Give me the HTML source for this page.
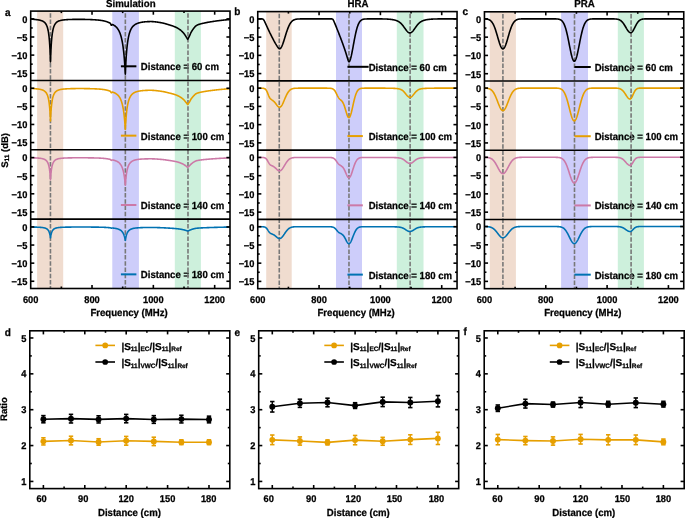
<!DOCTYPE html>
<html><head><meta charset="utf-8"><style>
html,body{margin:0;padding:0;background:#fff;}
svg{display:block;will-change:transform;}
text{font-family:"Liberation Sans", sans-serif;font-weight:bold;fill:#000;text-rendering:geometricPrecision;stroke:#000;stroke-width:0.25px;}
</style></head><body>
<svg width="685" height="518" viewBox="0 0 685 518">
<rect x="37.11" y="11.10" width="26.09" height="277.40" fill="#F0DCCF"/>
<rect x="112.29" y="11.10" width="26.61" height="277.40" fill="#CDCDFA"/>
<rect x="174.81" y="11.10" width="26.09" height="277.40" fill="#CDF0DC"/>
<text transform="translate(140.80,70.30) scale(1,1.06)" text-anchor="start" font-size="9.6" >Distance = 60 cm</text>
<text transform="translate(140.80,139.65) scale(1,1.06)" text-anchor="start" font-size="9.6" >Distance = 100 cm</text>
<text transform="translate(140.80,209.00) scale(1,1.06)" text-anchor="start" font-size="9.6" >Distance = 140 cm</text>
<text transform="translate(140.80,278.35) scale(1,1.06)" text-anchor="start" font-size="9.6" >Distance = 180 cm</text>
<line x1="50.45" y1="11.10" x2="50.45" y2="288.50" stroke="#787878" stroke-width="1.6" stroke-dasharray="4.5 1.7" stroke-dashoffset="4.0"/>
<line x1="125.35" y1="11.10" x2="125.35" y2="288.50" stroke="#787878" stroke-width="1.6" stroke-dasharray="4.5 1.7" stroke-dashoffset="4.0"/>
<line x1="187.99" y1="11.10" x2="187.99" y2="288.50" stroke="#787878" stroke-width="1.6" stroke-dasharray="4.5 1.7" stroke-dashoffset="4.0"/>
<polyline points="30.70,18.93 31.01,18.97 31.31,19.01 31.62,19.05 31.93,19.10 32.23,19.14 32.54,19.18 32.85,19.23 33.15,19.27 33.46,19.31 33.77,19.35 34.07,19.38 34.38,19.42 34.69,19.45 34.99,19.48 35.30,19.51 35.61,19.55 35.91,19.58 36.22,19.62 36.53,19.65 36.83,19.69 37.14,19.73 37.45,19.77 37.75,19.82 38.06,19.86 38.37,19.91 38.67,19.96 38.98,20.02 39.29,20.08 39.59,20.14 39.90,20.21 40.21,20.28 40.51,20.36 40.82,20.44 41.12,20.54 41.43,20.64 41.74,20.74 42.04,20.86 42.35,20.99 42.66,21.13 42.96,21.29 43.27,21.46 43.58,21.65 43.88,21.86 44.19,22.10 44.50,22.36 44.80,22.65 45.11,22.98 45.42,23.36 45.72,23.78 46.03,24.26 46.34,24.82 46.64,25.46 46.95,26.20 47.26,27.06 47.56,28.08 47.87,29.29 48.18,30.73 48.48,32.48 48.79,34.61 48.94,35.86 49.02,36.53 49.10,37.25 49.17,38.00 49.25,38.80 49.33,39.65 49.40,40.55 49.48,41.51 49.56,42.53 49.63,43.61 49.71,44.76 49.79,45.99 49.86,47.31 49.94,48.71 50.02,50.22 50.09,51.84 50.17,53.57 50.25,55.44 50.32,57.45 50.40,59.62 50.48,61.96 50.55,59.62 50.63,57.45 50.71,55.44 50.78,53.57 50.86,51.84 50.94,50.23 51.01,48.72 51.09,47.31 51.17,46.00 51.24,44.77 51.32,43.62 51.40,42.54 51.47,41.52 51.55,40.57 51.63,39.67 51.70,38.82 51.78,38.02 51.86,37.26 51.93,36.55 52.01,35.88 52.16,34.63 52.47,32.50 52.78,30.76 53.08,29.32 53.39,28.12 53.70,27.10 54.00,26.24 54.31,25.50 54.62,24.87 54.92,24.32 55.23,23.84 55.54,23.42 55.84,23.05 56.15,22.72 56.46,22.43 56.76,22.18 57.07,21.95 57.38,21.74 57.68,21.55 57.99,21.38 58.30,21.23 58.60,21.09 58.91,20.97 59.22,20.85 59.52,20.75 59.83,20.65 60.14,20.57 60.44,20.48 60.75,20.41 61.05,20.34 61.36,20.28 61.67,20.22 61.97,20.16 62.28,20.11 62.59,20.07 62.89,20.02 63.20,19.98 63.51,19.94 63.81,19.90 64.12,19.87 64.43,19.84 64.73,19.81 65.04,19.78 65.35,19.75 65.65,19.73 65.96,19.71 66.27,19.68 66.57,19.66 66.88,19.64 67.19,19.62 67.49,19.61 67.80,19.59 68.11,19.57 68.41,19.56 68.72,19.54 69.03,19.53 69.33,19.52 69.64,19.51 69.95,19.49 70.25,19.48 70.56,19.47 70.87,19.46 71.17,19.45 71.48,19.44 71.79,19.44 72.09,19.43 72.40,19.42 72.71,19.41 73.01,19.41 73.32,19.40 73.63,19.39 73.93,19.39 74.24,19.38 74.55,19.38 74.85,19.38 75.16,19.37 75.47,19.37 75.77,19.36 76.08,19.36 76.39,19.36 76.69,19.36 77.00,19.36 77.31,19.35 77.61,19.35 77.92,19.35 78.23,19.35 78.53,19.35 78.84,19.35 79.15,19.35 79.45,19.35 79.76,19.35 80.07,19.35 80.37,19.36 80.68,19.36 80.98,19.36 81.29,19.36 81.60,19.37 81.90,19.37 82.21,19.37 82.52,19.38 82.82,19.38 83.13,19.39 83.44,19.39 83.74,19.40 84.05,19.40 84.36,19.41 84.66,19.41 84.97,19.42 85.28,19.43 85.58,19.43 85.89,19.44 86.20,19.45 86.50,19.46 86.81,19.46 87.12,19.47 87.42,19.48 87.73,19.49 88.04,19.50 88.34,19.51 88.65,19.52 88.96,19.53 89.26,19.54 89.57,19.55 89.88,19.56 90.18,19.57 90.49,19.58 90.80,19.60 91.10,19.61 91.41,19.62 91.72,19.64 92.02,19.65 92.33,19.66 92.64,19.68 92.94,19.69 93.25,19.71 93.56,19.73 93.86,19.74 94.17,19.76 94.48,19.78 94.78,19.80 95.09,19.82 95.40,19.84 95.70,19.86 96.01,19.88 96.32,19.91 96.62,19.93 96.93,19.96 97.24,19.98 97.54,20.01 97.85,20.04 98.16,20.07 98.46,20.10 98.77,20.13 99.08,20.16 99.38,20.19 99.69,20.23 100.00,20.26 100.30,20.30 100.61,20.34 100.91,20.38 101.22,20.42 101.53,20.46 101.83,20.51 102.14,20.56 102.45,20.61 102.75,20.67 103.06,20.73 103.37,20.79 103.67,20.86 103.98,20.93 104.29,21.01 104.59,21.08 104.90,21.16 105.21,21.25 105.51,21.33 105.82,21.42 106.13,21.51 106.43,21.61 106.74,21.71 107.05,21.81 107.35,21.91 107.66,22.02 107.97,22.13 108.27,22.26 108.58,22.39 108.89,22.52 109.19,22.66 109.50,22.81 109.81,22.96 110.11,23.15 110.42,23.46 110.73,24.04 111.03,24.79 111.34,25.27 111.65,25.18 111.95,24.79 112.26,24.55 112.57,24.54 112.87,24.65 113.18,24.81 113.49,24.98 113.79,25.16 114.10,25.35 114.41,25.55 114.71,25.77 115.02,26.00 115.33,26.24 115.63,26.50 115.94,26.78 116.25,27.08 116.55,27.40 116.86,27.74 117.17,28.11 117.47,28.50 117.78,28.93 118.09,29.38 118.39,29.88 118.70,30.41 119.01,30.99 119.31,31.62 119.62,32.30 119.93,33.05 120.23,33.86 120.54,34.75 120.84,35.73 121.15,36.81 121.46,37.99 121.76,39.31 122.07,40.77 122.38,42.39 122.68,44.21 122.99,46.24 123.30,48.53 123.60,51.12 123.79,52.83 123.87,53.59 123.91,54.06 123.94,54.37 124.02,55.18 124.10,56.01 124.17,56.88 124.22,57.41 124.25,57.77 124.33,58.69 124.40,59.65 124.48,60.64 124.52,61.25 124.55,61.67 124.63,62.73 124.71,63.83 124.78,64.98 124.83,65.68 124.86,66.16 124.94,67.39 125.01,68.67 125.09,70.00 125.14,70.82 125.17,71.38 125.24,72.82 125.32,74.31 125.40,72.39 125.44,71.28 125.47,70.56 125.55,68.83 125.63,67.17 125.70,65.60 125.75,64.69 125.78,64.10 125.86,62.67 125.93,61.30 126.01,59.99 126.06,59.24 126.09,58.75 126.16,57.55 126.24,56.41 126.32,55.32 126.36,54.69 126.39,54.28 126.47,53.28 126.55,52.31 126.62,51.39 126.67,50.86 126.70,50.51 126.78,49.66 126.85,48.84 126.98,47.61 127.28,44.82 127.59,42.43 127.90,40.35 128.20,38.55 128.51,36.96 128.82,35.57 129.12,34.34 129.43,33.24 129.74,32.27 130.04,31.40 130.35,30.62 130.66,29.91 130.96,29.28 131.27,28.70 131.58,28.18 131.88,27.70 132.19,27.26 132.50,26.87 132.80,26.50 133.11,26.17 133.42,25.86 133.72,25.57 134.03,25.31 134.34,25.06 134.64,24.84 134.95,24.63 135.26,24.43 135.56,24.25 135.87,24.08 136.18,23.92 136.48,23.77 136.79,23.63 137.10,23.50 137.40,23.38 137.71,23.27 138.02,23.16 138.32,23.06 138.63,22.96 138.94,22.87 139.24,22.78 139.55,22.70 139.86,22.63 140.16,22.55 140.47,22.49 140.77,22.42 141.08,22.36 141.39,22.30 141.69,22.24 142.00,22.19 142.31,22.14 142.61,22.10 142.92,22.05 143.23,22.01 143.53,21.98 143.84,21.94 144.15,21.91 144.45,21.87 144.76,21.84 145.07,21.82 145.37,21.79 145.68,21.77 145.99,21.74 146.29,21.72 146.60,21.70 146.91,21.69 147.21,21.67 147.52,21.65 147.83,21.64 148.13,21.63 148.44,21.61 148.75,21.60 149.05,21.59 149.36,21.58 149.67,21.58 149.97,21.57 150.28,21.56 150.59,21.56 150.89,21.56 151.20,21.56 151.51,21.57 151.81,21.58 152.12,21.59 152.43,21.61 152.73,21.62 153.04,21.64 153.35,21.66 153.65,21.69 153.96,21.71 154.27,21.74 154.57,21.77 154.88,21.80 155.19,21.84 155.49,21.87 155.80,21.91 156.11,21.95 156.41,21.99 156.72,22.03 157.03,22.07 157.33,22.11 157.64,22.16 157.95,22.21 158.25,22.25 158.56,22.30 158.87,22.35 159.17,22.40 159.48,22.45 159.79,22.50 160.09,22.56 160.40,22.61 160.70,22.66 161.01,22.72 161.32,22.77 161.62,22.83 161.93,22.88 162.24,22.94 162.54,23.00 162.85,23.06 163.16,23.13 163.46,23.20 163.77,23.28 164.08,23.35 164.38,23.43 164.69,23.52 165.00,23.60 165.30,23.69 165.61,23.78 165.92,23.87 166.22,23.96 166.53,24.05 166.84,24.14 167.14,24.24 167.45,24.33 167.76,24.43 168.06,24.52 168.37,24.61 168.68,24.71 168.98,24.80 169.29,24.89 169.60,24.99 169.90,25.08 170.21,25.17 170.52,25.27 170.82,25.36 171.13,25.46 171.44,25.56 171.74,25.66 172.05,25.76 172.36,25.86 172.66,25.97 172.97,26.07 173.28,26.18 173.58,26.30 173.89,26.41 174.20,26.53 174.50,26.66 174.81,26.78 175.12,26.91 175.42,27.05 175.73,27.19 176.04,27.34 176.34,27.49 176.65,27.64 176.96,27.80 177.26,27.97 177.57,28.14 177.88,28.32 178.18,28.50 178.49,28.69 178.80,28.89 179.10,29.09 179.41,29.30 179.72,29.52 180.02,29.75 180.33,29.98 180.63,30.23 180.94,30.48 181.25,30.75 181.55,31.02 181.86,31.30 182.17,31.60 182.47,31.90 182.78,32.21 183.09,32.54 183.39,32.87 183.70,33.22 184.01,33.60 184.31,34.01 184.62,34.45 184.93,34.90 185.23,35.36 185.54,35.84 185.85,36.31 186.15,36.79 186.23,36.91 186.31,37.03 186.38,37.16 186.46,37.29 186.54,37.41 186.61,37.54 186.69,37.67 186.77,37.80 186.84,37.93 186.92,38.06 187.00,38.19 187.07,38.32 187.15,38.46 187.23,38.59 187.30,38.72 187.38,38.85 187.46,38.98 187.53,39.11 187.61,39.24 187.69,39.37 187.76,39.22 187.84,39.08 187.92,38.94 187.99,38.80 188.07,38.66 188.15,38.52 188.22,38.38 188.30,38.24 188.38,38.10 188.45,37.96 188.53,37.82 188.61,37.68 188.68,37.53 188.76,37.39 188.84,37.25 188.91,37.10 188.99,36.96 189.07,36.81 189.14,36.66 189.22,36.51 189.53,35.88 189.83,35.19 190.14,34.45 190.45,33.72 190.75,33.02 191.06,32.39 191.37,31.83 191.67,31.31 191.98,30.81 192.29,30.34 192.59,29.89 192.90,29.46 193.21,29.04 193.51,28.64 193.82,28.23 194.13,27.83 194.43,27.44 194.74,27.06 195.05,26.70 195.35,26.37 195.66,26.08 195.97,25.83 196.27,25.62 196.58,25.43 196.89,25.27 197.19,25.11 197.50,24.97 197.81,24.83 198.11,24.71 198.42,24.59 198.73,24.48 199.03,24.38 199.34,24.28 199.65,24.18 199.95,24.08 200.26,23.99 200.56,23.91 200.87,23.82 201.18,23.74 201.48,23.67 201.79,23.59 202.10,23.52 202.40,23.45 202.71,23.38 203.02,23.31 203.32,23.24 203.63,23.17 203.94,23.11 204.24,23.04 204.55,22.97 204.86,22.91 205.16,22.84 205.47,22.78 205.78,22.71 206.08,22.65 206.39,22.59 206.70,22.53 207.00,22.47 207.31,22.41 207.62,22.36 207.92,22.30 208.23,22.25 208.54,22.19 208.84,22.14 209.15,22.09 209.46,22.04 209.76,21.98 210.07,21.93 210.38,21.88 210.68,21.83 210.99,21.78 211.30,21.73 211.60,21.68 211.91,21.64 212.22,21.59 212.52,21.54 212.83,21.49 213.14,21.45 213.44,21.40 213.75,21.35 214.06,21.31 214.36,21.26 214.67,21.22 214.98,21.17 215.28,21.13 215.59,21.08 215.90,21.04 216.20,21.00 216.51,20.96 216.82,20.91 217.12,20.87 217.43,20.83 217.74,20.79 218.04,20.75 218.35,20.71 218.66,20.67 218.96,20.63 219.27,20.59 219.58,20.55 219.88,20.52 220.19,20.48 220.49,20.44 220.80,20.41 221.11,20.37 221.41,20.33 221.72,20.30 222.03,20.27 222.33,20.23 222.64,20.20 222.95,20.17 223.25,20.13 223.56,20.10 223.87,20.07 224.17,20.04 224.48,20.01 224.79,19.98 225.09,19.95 225.40,19.92 225.71,19.89 226.01,19.86 226.32,19.83 226.63,19.80 226.93,19.77 227.24,19.73 227.55,19.70 227.85,19.67 228.16,19.64 228.47,19.61 228.77,19.58 229.08,19.55 229.39,19.52 229.69,19.49 230.00,19.46" fill="none" stroke="#000000" stroke-width="1.6" stroke-linejoin="round"/>
<line x1="120.90" y1="66.30" x2="136.40" y2="66.30" stroke="#000000" stroke-width="2.0" />
<polyline points="30.70,88.27 31.01,88.30 31.31,88.34 31.62,88.37 31.93,88.40 32.23,88.44 32.54,88.47 32.85,88.51 33.15,88.54 33.46,88.58 33.77,88.61 34.07,88.64 34.38,88.66 34.69,88.69 34.99,88.72 35.30,88.74 35.61,88.77 35.91,88.80 36.22,88.83 36.53,88.86 36.83,88.89 37.14,88.92 37.45,88.95 37.75,88.99 38.06,89.03 38.37,89.07 38.67,89.11 38.98,89.15 39.29,89.20 39.59,89.25 39.90,89.31 40.21,89.37 40.51,89.43 40.82,89.50 41.12,89.58 41.43,89.66 41.74,89.75 42.04,89.84 42.35,89.95 42.66,90.06 42.96,90.19 43.27,90.33 43.58,90.48 43.88,90.65 44.19,90.84 44.50,91.05 44.80,91.28 45.11,91.55 45.42,91.84 45.72,92.18 46.03,92.56 46.34,93.00 46.64,93.51 46.95,94.09 47.26,94.77 47.56,95.56 47.87,96.50 48.18,97.62 48.48,98.97 48.79,100.60 48.94,101.56 49.02,102.07 49.10,102.61 49.17,103.19 49.25,103.79 49.33,104.43 49.40,105.11 49.48,105.83 49.56,106.60 49.63,107.41 49.71,108.27 49.79,109.19 49.86,110.17 49.94,111.21 50.02,112.33 50.09,113.52 50.17,114.80 50.25,116.17 50.32,117.65 50.40,119.23 50.48,120.94 50.55,119.23 50.63,117.65 50.71,116.18 50.78,114.81 50.86,113.53 50.94,112.33 51.01,111.22 51.09,110.18 51.17,109.20 51.24,108.28 51.32,107.42 51.40,106.61 51.47,105.84 51.55,105.12 51.63,104.44 51.70,103.80 51.78,103.20 51.86,102.62 51.93,102.08 52.01,101.57 52.16,100.62 52.47,98.99 52.78,97.64 53.08,96.53 53.39,95.59 53.70,94.80 54.00,94.12 54.31,93.54 54.62,93.04 54.92,92.60 55.23,92.22 55.54,91.89 55.84,91.59 56.15,91.33 56.46,91.10 56.76,90.89 57.07,90.71 57.38,90.54 57.68,90.39 57.99,90.25 58.30,90.13 58.60,90.02 58.91,89.91 59.22,89.82 59.52,89.74 59.83,89.66 60.14,89.59 60.44,89.52 60.75,89.46 61.05,89.40 61.36,89.35 61.67,89.30 61.97,89.26 62.28,89.21 62.59,89.17 62.89,89.14 63.20,89.10 63.51,89.07 63.81,89.04 64.12,89.01 64.43,88.99 64.73,88.96 65.04,88.94 65.35,88.92 65.65,88.89 65.96,88.87 66.27,88.86 66.57,88.84 66.88,88.82 67.19,88.81 67.49,88.79 67.80,88.78 68.11,88.76 68.41,88.75 68.72,88.74 69.03,88.72 69.33,88.71 69.64,88.70 69.95,88.69 70.25,88.68 70.56,88.67 70.87,88.67 71.17,88.66 71.48,88.65 71.79,88.64 72.09,88.63 72.40,88.63 72.71,88.62 73.01,88.62 73.32,88.61 73.63,88.60 73.93,88.60 74.24,88.59 74.55,88.59 74.85,88.59 75.16,88.58 75.47,88.58 75.77,88.57 76.08,88.57 76.39,88.57 76.69,88.57 77.00,88.56 77.31,88.56 77.61,88.56 77.92,88.56 78.23,88.56 78.53,88.55 78.84,88.55 79.15,88.55 79.45,88.55 79.76,88.55 80.07,88.55 80.37,88.55 80.68,88.55 80.98,88.55 81.29,88.56 81.60,88.56 81.90,88.56 82.21,88.56 82.52,88.56 82.82,88.56 83.13,88.57 83.44,88.57 83.74,88.57 84.05,88.58 84.36,88.58 84.66,88.58 84.97,88.59 85.28,88.59 85.58,88.59 85.89,88.60 86.20,88.60 86.50,88.61 86.81,88.61 87.12,88.62 87.42,88.62 87.73,88.63 88.04,88.63 88.34,88.64 88.65,88.65 88.96,88.65 89.26,88.66 89.57,88.67 89.88,88.67 90.18,88.68 90.49,88.69 90.80,88.70 91.10,88.70 91.41,88.71 91.72,88.72 92.02,88.73 92.33,88.74 92.64,88.75 92.94,88.76 93.25,88.77 93.56,88.78 93.86,88.79 94.17,88.80 94.48,88.81 94.78,88.83 95.09,88.84 95.40,88.85 95.70,88.87 96.01,88.88 96.32,88.90 96.62,88.91 96.93,88.93 97.24,88.95 97.54,88.97 97.85,88.99 98.16,89.00 98.46,89.02 98.77,89.05 99.08,89.07 99.38,89.09 99.69,89.11 100.00,89.14 100.30,89.16 100.61,89.19 100.91,89.21 101.22,89.24 101.53,89.27 101.83,89.30 102.14,89.34 102.45,89.38 102.75,89.42 103.06,89.46 103.37,89.50 103.67,89.55 103.98,89.60 104.29,89.65 104.59,89.71 104.90,89.76 105.21,89.82 105.51,89.88 105.82,89.95 106.13,90.01 106.43,90.08 106.74,90.15 107.05,90.22 107.35,90.29 107.66,90.36 107.97,90.45 108.27,90.53 108.58,90.62 108.89,90.72 109.19,90.82 109.50,90.92 109.81,91.03 110.11,91.17 110.42,91.40 110.73,91.84 111.03,92.43 111.34,92.80 111.65,92.70 111.95,92.38 112.26,92.16 112.57,92.13 112.87,92.20 113.18,92.30 113.49,92.42 113.79,92.54 114.10,92.66 114.41,92.80 114.71,92.94 115.02,93.09 115.33,93.26 115.63,93.43 115.94,93.62 116.25,93.82 116.55,94.03 116.86,94.26 117.17,94.51 117.47,94.78 117.78,95.07 118.09,95.38 118.39,95.72 118.70,96.09 119.01,96.49 119.31,96.92 119.62,97.40 119.93,97.92 120.23,98.49 120.54,99.12 120.84,99.82 121.15,100.59 121.46,101.44 121.76,102.40 122.07,103.46 122.38,104.65 122.68,105.99 122.99,107.51 123.30,109.23 123.60,111.19 123.79,112.50 123.87,113.08 123.91,113.44 123.94,113.68 124.02,114.31 124.10,114.95 124.17,115.62 124.22,116.04 124.25,116.32 124.33,117.04 124.40,117.79 124.48,118.57 124.52,119.05 124.55,119.37 124.63,120.21 124.71,121.09 124.78,122.00 124.83,122.56 124.86,122.95 124.94,123.93 125.01,124.96 125.09,126.03 125.14,126.70 125.17,127.15 125.24,128.32 125.32,129.53 125.40,128.02 125.44,127.15 125.47,126.58 125.55,125.22 125.63,123.93 125.70,122.70 125.75,122.00 125.78,121.54 125.86,120.43 125.93,119.37 126.01,118.37 126.06,117.79 126.09,117.41 126.16,116.49 126.24,115.62 126.32,114.79 126.36,114.31 126.39,113.99 126.47,113.23 126.55,112.50 126.62,111.80 126.67,111.40 126.70,111.14 126.78,110.50 126.85,109.88 126.98,108.95 127.28,106.87 127.59,105.10 127.90,103.57 128.20,102.24 128.51,101.09 128.82,100.08 129.12,99.19 129.43,98.40 129.74,97.70 130.04,97.08 130.35,96.52 130.66,96.02 130.96,95.57 131.27,95.17 131.58,94.80 131.88,94.46 132.19,94.16 132.50,93.88 132.80,93.63 133.11,93.39 133.42,93.18 133.72,92.98 134.03,92.80 134.34,92.63 134.64,92.48 134.95,92.33 135.26,92.20 135.56,92.07 135.87,91.96 136.18,91.85 136.48,91.75 136.79,91.65 137.10,91.56 137.40,91.48 137.71,91.40 138.02,91.33 138.32,91.26 138.63,91.19 138.94,91.13 139.24,91.07 139.55,91.02 139.86,90.97 140.16,90.92 140.47,90.87 140.77,90.83 141.08,90.79 141.39,90.75 141.69,90.71 142.00,90.68 142.31,90.64 142.61,90.61 142.92,90.58 143.23,90.56 143.53,90.53 143.84,90.51 144.15,90.49 144.45,90.47 144.76,90.45 145.07,90.43 145.37,90.41 145.68,90.40 145.99,90.38 146.29,90.37 146.60,90.36 146.91,90.35 147.21,90.34 147.52,90.33 147.83,90.32 148.13,90.31 148.44,90.31 148.75,90.30 149.05,90.30 149.36,90.29 149.67,90.29 149.97,90.28 150.28,90.28 150.59,90.28 150.89,90.28 151.20,90.29 151.51,90.30 151.81,90.31 152.12,90.32 152.43,90.33 152.73,90.35 153.04,90.36 153.35,90.38 153.65,90.40 153.96,90.42 154.27,90.45 154.57,90.47 154.88,90.50 155.19,90.53 155.49,90.56 155.80,90.59 156.11,90.62 156.41,90.65 156.72,90.69 157.03,90.72 157.33,90.76 157.64,90.80 157.95,90.84 158.25,90.88 158.56,90.92 158.87,90.96 159.17,91.00 159.48,91.04 159.79,91.08 160.09,91.12 160.40,91.17 160.70,91.21 161.01,91.25 161.32,91.30 161.62,91.34 161.93,91.39 162.24,91.43 162.54,91.48 162.85,91.54 163.16,91.59 163.46,91.65 163.77,91.71 164.08,91.77 164.38,91.84 164.69,91.90 165.00,91.97 165.30,92.04 165.61,92.11 165.92,92.19 166.22,92.26 166.53,92.33 166.84,92.41 167.14,92.48 167.45,92.56 167.76,92.64 168.06,92.71 168.37,92.79 168.68,92.86 168.98,92.94 169.29,93.01 169.60,93.09 169.90,93.16 170.21,93.24 170.52,93.31 170.82,93.39 171.13,93.47 171.44,93.55 171.74,93.63 172.05,93.71 172.36,93.79 172.66,93.88 172.97,93.96 173.28,94.05 173.58,94.14 173.89,94.24 174.20,94.33 174.50,94.43 174.81,94.53 175.12,94.64 175.42,94.75 175.73,94.86 176.04,94.97 176.34,95.10 176.65,95.22 176.96,95.35 177.26,95.48 177.57,95.62 177.88,95.76 178.18,95.91 178.49,96.06 178.80,96.22 179.10,96.38 179.41,96.55 179.72,96.72 180.02,96.91 180.33,97.10 180.63,97.29 180.94,97.50 181.25,97.71 181.55,97.93 181.86,98.15 182.17,98.39 182.47,98.63 182.78,98.88 183.09,99.14 183.39,99.41 183.70,99.69 184.01,99.99 184.31,100.32 184.62,100.67 184.93,101.03 185.23,101.40 185.54,101.78 185.85,102.16 186.15,102.54 186.23,102.64 186.31,102.74 186.38,102.84 186.46,102.94 186.54,103.04 186.61,103.15 186.69,103.25 186.77,103.35 186.84,103.46 186.92,103.56 187.00,103.67 187.07,103.77 187.15,103.88 187.23,103.98 187.30,104.09 187.38,104.19 187.46,104.30 187.53,104.40 187.61,104.50 187.69,104.61 187.76,104.49 187.84,104.38 187.92,104.27 187.99,104.15 188.07,104.04 188.15,103.93 188.22,103.82 188.30,103.70 188.38,103.59 188.45,103.48 188.53,103.37 188.61,103.26 188.68,103.14 188.76,103.03 188.84,102.91 188.91,102.80 188.99,102.68 189.07,102.56 189.14,102.44 189.22,102.32 189.53,101.82 189.83,101.26 190.14,100.68 190.45,100.09 190.75,99.53 191.06,99.03 191.37,98.58 191.67,98.16 191.98,97.76 192.29,97.39 192.59,97.03 192.90,96.68 193.21,96.35 193.51,96.03 193.82,95.70 194.13,95.38 194.43,95.07 194.74,94.76 195.05,94.48 195.35,94.22 195.66,93.98 195.97,93.78 196.27,93.61 196.58,93.46 196.89,93.33 197.19,93.21 197.50,93.09 197.81,92.99 198.11,92.89 198.42,92.79 198.73,92.71 199.03,92.62 199.34,92.54 199.65,92.46 199.95,92.39 200.26,92.31 200.56,92.24 200.87,92.18 201.18,92.11 201.48,92.05 201.79,91.99 202.10,91.93 202.40,91.88 202.71,91.82 203.02,91.77 203.32,91.71 203.63,91.66 203.94,91.60 204.24,91.55 204.55,91.50 204.86,91.44 205.16,91.39 205.47,91.34 205.78,91.29 206.08,91.24 206.39,91.19 206.70,91.14 207.00,91.10 207.31,91.05 207.62,91.01 207.92,90.96 208.23,90.92 208.54,90.87 208.84,90.83 209.15,90.79 209.46,90.75 209.76,90.71 210.07,90.67 210.38,90.63 210.68,90.59 210.99,90.55 211.30,90.51 211.60,90.47 211.91,90.43 212.22,90.39 212.52,90.35 212.83,90.31 213.14,90.28 213.44,90.24 213.75,90.20 214.06,90.17 214.36,90.13 214.67,90.09 214.98,90.06 215.28,90.02 215.59,89.99 215.90,89.95 216.20,89.92 216.51,89.89 216.82,89.85 217.12,89.82 217.43,89.79 217.74,89.75 218.04,89.72 218.35,89.69 218.66,89.66 218.96,89.63 219.27,89.60 219.58,89.57 219.88,89.53 220.19,89.51 220.49,89.48 220.80,89.45 221.11,89.42 221.41,89.39 221.72,89.36 222.03,89.34 222.33,89.31 222.64,89.28 222.95,89.26 223.25,89.23 223.56,89.20 223.87,89.18 224.17,89.15 224.48,89.13 224.79,89.10 225.09,89.08 225.40,89.06 225.71,89.03 226.01,89.01 226.32,88.98 226.63,88.96 226.93,88.93 227.24,88.91 227.55,88.89 227.85,88.86 228.16,88.84 228.47,88.81 228.77,88.79 229.08,88.76 229.39,88.74 229.69,88.71 230.00,88.69" fill="none" stroke="#E69F00" stroke-width="1.6" stroke-linejoin="round"/>
<line x1="120.90" y1="135.65" x2="136.40" y2="135.65" stroke="#E69F00" stroke-width="2.0" />
<polyline points="30.70,157.61 31.01,157.63 31.31,157.65 31.62,157.67 31.93,157.69 32.23,157.71 32.54,157.74 32.85,157.76 33.15,157.78 33.46,157.80 33.77,157.82 34.07,157.83 34.38,157.85 34.69,157.87 34.99,157.88 35.30,157.90 35.61,157.92 35.91,157.93 36.22,157.95 36.53,157.97 36.83,157.99 37.14,158.01 37.45,158.03 37.75,158.05 38.06,158.08 38.37,158.10 38.67,158.13 38.98,158.16 39.29,158.19 39.59,158.22 39.90,158.25 40.21,158.29 40.51,158.33 40.82,158.37 41.12,158.42 41.43,158.47 41.74,158.53 42.04,158.59 42.35,158.66 42.66,158.73 42.96,158.81 43.27,158.90 43.58,159.00 43.88,159.10 44.19,159.22 44.50,159.36 44.80,159.51 45.11,159.68 45.42,159.87 45.72,160.09 46.03,160.34 46.34,160.62 46.64,160.95 46.95,161.33 47.26,161.78 47.56,162.30 47.87,162.92 48.18,163.67 48.48,164.57 48.79,165.66 48.94,166.30 49.02,166.65 49.10,167.02 49.17,167.41 49.25,167.82 49.33,168.26 49.40,168.72 49.48,169.21 49.56,169.74 49.63,170.29 49.71,170.89 49.79,171.52 49.86,172.20 49.94,172.92 50.02,173.70 50.09,174.53 50.17,175.42 50.25,176.38 50.32,177.42 50.40,178.53 50.48,179.74 50.55,178.53 50.63,177.42 50.71,176.38 50.78,175.42 50.86,174.53 50.94,173.70 51.01,172.92 51.09,172.20 51.17,171.52 51.24,170.89 51.32,170.30 51.40,169.74 51.47,169.22 51.55,168.73 51.63,168.26 51.70,167.83 51.78,167.42 51.86,167.03 51.93,166.66 52.01,166.31 52.16,165.67 52.47,164.58 52.78,163.68 53.08,162.94 53.39,162.32 53.70,161.79 54.00,161.35 54.31,160.97 54.62,160.64 54.92,160.36 55.23,160.11 55.54,159.90 55.84,159.71 56.15,159.54 56.46,159.39 56.76,159.26 57.07,159.14 57.38,159.03 57.68,158.94 57.99,158.85 58.30,158.77 58.60,158.70 58.91,158.63 59.22,158.57 59.52,158.52 59.83,158.47 60.14,158.42 60.44,158.38 60.75,158.34 61.05,158.31 61.36,158.28 61.67,158.25 61.97,158.22 62.28,158.19 62.59,158.17 62.89,158.14 63.20,158.12 63.51,158.10 63.81,158.08 64.12,158.06 64.43,158.05 64.73,158.03 65.04,158.02 65.35,158.00 65.65,157.99 65.96,157.98 66.27,157.97 66.57,157.96 66.88,157.94 67.19,157.93 67.49,157.93 67.80,157.92 68.11,157.91 68.41,157.90 68.72,157.89 69.03,157.88 69.33,157.88 69.64,157.87 69.95,157.86 70.25,157.86 70.56,157.85 70.87,157.85 71.17,157.84 71.48,157.84 71.79,157.83 72.09,157.83 72.40,157.82 72.71,157.82 73.01,157.82 73.32,157.81 73.63,157.81 73.93,157.81 74.24,157.80 74.55,157.80 74.85,157.80 75.16,157.80 75.47,157.79 75.77,157.79 76.08,157.79 76.39,157.79 76.69,157.79 77.00,157.78 77.31,157.78 77.61,157.78 77.92,157.78 78.23,157.78 78.53,157.78 78.84,157.78 79.15,157.78 79.45,157.78 79.76,157.78 80.07,157.78 80.37,157.78 80.68,157.78 80.98,157.78 81.29,157.78 81.60,157.78 81.90,157.78 82.21,157.78 82.52,157.78 82.82,157.78 83.13,157.79 83.44,157.79 83.74,157.79 84.05,157.79 84.36,157.79 84.66,157.79 84.97,157.80 85.28,157.80 85.58,157.80 85.89,157.80 86.20,157.81 86.50,157.81 86.81,157.81 87.12,157.82 87.42,157.82 87.73,157.82 88.04,157.83 88.34,157.83 88.65,157.83 88.96,157.84 89.26,157.84 89.57,157.85 89.88,157.85 90.18,157.85 90.49,157.86 90.80,157.86 91.10,157.87 91.41,157.87 91.72,157.88 92.02,157.88 92.33,157.89 92.64,157.89 92.94,157.90 93.25,157.91 93.56,157.91 93.86,157.92 94.17,157.93 94.48,157.93 94.78,157.94 95.09,157.95 95.40,157.96 95.70,157.97 96.01,157.98 96.32,157.99 96.62,157.99 96.93,158.00 97.24,158.02 97.54,158.03 97.85,158.04 98.16,158.05 98.46,158.06 98.77,158.07 99.08,158.09 99.38,158.10 99.69,158.11 100.00,158.13 100.30,158.14 100.61,158.16 100.91,158.18 101.22,158.19 101.53,158.21 101.83,158.23 102.14,158.25 102.45,158.27 102.75,158.30 103.06,158.32 103.37,158.35 103.67,158.38 103.98,158.41 104.29,158.44 104.59,158.47 104.90,158.51 105.21,158.54 105.51,158.58 105.82,158.62 106.13,158.66 106.43,158.70 106.74,158.74 107.05,158.78 107.35,158.83 107.66,158.87 107.97,158.92 108.27,158.98 108.58,159.03 108.89,159.09 109.19,159.15 109.50,159.21 109.81,159.28 110.11,159.36 110.42,159.51 110.73,159.77 111.03,160.13 111.34,160.35 111.65,160.29 111.95,160.10 112.26,159.97 112.57,159.96 112.87,160.00 113.18,160.06 113.49,160.13 113.79,160.21 114.10,160.29 114.41,160.37 114.71,160.46 115.02,160.56 115.33,160.66 115.63,160.77 115.94,160.89 116.25,161.01 116.55,161.15 116.86,161.30 117.17,161.45 117.47,161.62 117.78,161.81 118.09,162.01 118.39,162.22 118.70,162.46 119.01,162.72 119.31,163.00 119.62,163.30 119.93,163.64 120.23,164.01 120.54,164.42 120.84,164.87 121.15,165.38 121.46,165.94 121.76,166.56 122.07,167.26 122.38,168.05 122.68,168.94 122.99,169.96 123.30,171.11 123.60,172.44 123.79,173.33 123.87,173.72 123.91,173.97 123.94,174.13 124.02,174.56 124.10,175.00 124.17,175.45 124.22,175.74 124.25,175.93 124.33,176.42 124.40,176.94 124.48,177.47 124.52,177.81 124.55,178.03 124.63,178.61 124.71,179.22 124.78,179.85 124.83,180.24 124.86,180.51 124.94,181.19 125.01,181.91 125.09,182.66 125.14,183.12 125.17,183.44 125.24,184.26 125.32,185.12 125.40,184.04 125.44,183.42 125.47,183.02 125.55,182.06 125.63,181.15 125.70,180.28 125.75,179.79 125.78,179.47 125.86,178.69 125.93,177.96 126.01,177.26 126.06,176.85 126.09,176.59 126.16,175.96 126.24,175.36 126.32,174.79 126.36,174.46 126.39,174.24 126.47,173.72 126.55,173.22 126.62,172.75 126.67,172.47 126.70,172.30 126.78,171.86 126.85,171.45 126.98,170.82 127.28,169.43 127.59,168.24 127.90,167.23 128.20,166.36 128.51,165.61 128.82,164.95 129.12,164.37 129.43,163.87 129.74,163.42 130.04,163.02 130.35,162.67 130.66,162.35 130.96,162.06 131.27,161.81 131.58,161.58 131.88,161.37 132.19,161.18 132.50,161.00 132.80,160.85 133.11,160.70 133.42,160.57 133.72,160.45 134.03,160.33 134.34,160.23 134.64,160.13 134.95,160.05 135.26,159.96 135.56,159.89 135.87,159.82 136.18,159.75 136.48,159.69 136.79,159.63 137.10,159.58 137.40,159.53 137.71,159.48 138.02,159.43 138.32,159.39 138.63,159.35 138.94,159.31 139.24,159.28 139.55,159.25 139.86,159.22 140.16,159.19 140.47,159.16 140.77,159.13 141.08,159.11 141.39,159.08 141.69,159.06 142.00,159.04 142.31,159.02 142.61,159.00 142.92,158.99 143.23,158.97 143.53,158.95 143.84,158.94 144.15,158.93 144.45,158.92 144.76,158.90 145.07,158.89 145.37,158.88 145.68,158.88 145.99,158.87 146.29,158.86 146.60,158.85 146.91,158.85 147.21,158.84 147.52,158.83 147.83,158.83 148.13,158.83 148.44,158.82 148.75,158.82 149.05,158.81 149.36,158.81 149.67,158.81 149.97,158.81 150.28,158.81 150.59,158.81 150.89,158.81 151.20,158.81 151.51,158.82 151.81,158.82 152.12,158.83 152.43,158.84 152.73,158.85 153.04,158.86 153.35,158.87 153.65,158.88 153.96,158.89 154.27,158.91 154.57,158.92 154.88,158.94 155.19,158.96 155.49,158.97 155.80,158.99 156.11,159.01 156.41,159.03 156.72,159.05 157.03,159.07 157.33,159.10 157.64,159.12 157.95,159.14 158.25,159.17 158.56,159.19 158.87,159.21 159.17,159.24 159.48,159.26 159.79,159.29 160.09,159.31 160.40,159.34 160.70,159.37 161.01,159.39 161.32,159.42 161.62,159.45 161.93,159.47 162.24,159.50 162.54,159.53 162.85,159.56 163.16,159.60 163.46,159.63 163.77,159.67 164.08,159.70 164.38,159.74 164.69,159.78 165.00,159.82 165.30,159.87 165.61,159.91 165.92,159.95 166.22,160.00 166.53,160.04 166.84,160.09 167.14,160.13 167.45,160.18 167.76,160.22 168.06,160.27 168.37,160.31 168.68,160.36 168.98,160.40 169.29,160.45 169.60,160.49 169.90,160.54 170.21,160.58 170.52,160.63 170.82,160.68 171.13,160.72 171.44,160.77 171.74,160.82 172.05,160.87 172.36,160.92 172.66,160.97 172.97,161.02 173.28,161.07 173.58,161.13 173.89,161.18 174.20,161.24 174.50,161.30 174.81,161.36 175.12,161.42 175.42,161.49 175.73,161.56 176.04,161.63 176.34,161.70 176.65,161.77 176.96,161.85 177.26,161.93 177.57,162.02 177.88,162.10 178.18,162.19 178.49,162.28 178.80,162.37 179.10,162.47 179.41,162.57 179.72,162.68 180.02,162.79 180.33,162.90 180.63,163.02 180.94,163.14 181.25,163.27 181.55,163.40 181.86,163.53 182.17,163.68 182.47,163.82 182.78,163.97 183.09,164.13 183.39,164.29 183.70,164.46 184.01,164.64 184.31,164.84 184.62,165.04 184.93,165.26 185.23,165.48 185.54,165.71 185.85,165.94 186.15,166.17 186.23,166.23 186.31,166.29 186.38,166.35 186.46,166.41 186.54,166.47 186.61,166.53 186.69,166.59 186.77,166.66 186.84,166.72 186.92,166.78 187.00,166.84 187.07,166.91 187.15,166.97 187.23,167.03 187.30,167.10 187.38,167.16 187.46,167.22 187.53,167.28 187.61,167.35 187.69,167.41 187.76,167.34 187.84,167.27 187.92,167.20 187.99,167.13 188.07,167.07 188.15,167.00 188.22,166.93 188.30,166.87 188.38,166.80 188.45,166.73 188.53,166.66 188.61,166.60 188.68,166.53 188.76,166.46 188.84,166.39 188.91,166.32 188.99,166.25 189.07,166.18 189.14,166.11 189.22,166.04 189.53,165.73 189.83,165.40 190.14,165.05 190.45,164.70 190.75,164.36 191.06,164.06 191.37,163.79 191.67,163.54 191.98,163.30 192.29,163.07 192.59,162.86 192.90,162.65 193.21,162.45 193.51,162.26 193.82,162.06 194.13,161.87 194.43,161.68 194.74,161.50 195.05,161.33 195.35,161.17 195.66,161.03 195.97,160.91 196.27,160.81 196.58,160.72 196.89,160.64 197.19,160.57 197.50,160.50 197.81,160.43 198.11,160.38 198.42,160.32 198.73,160.27 199.03,160.22 199.34,160.17 199.65,160.12 199.95,160.07 200.26,160.03 200.56,159.99 200.87,159.95 201.18,159.91 201.48,159.87 201.79,159.84 202.10,159.80 202.40,159.77 202.71,159.74 203.02,159.70 203.32,159.67 203.63,159.64 203.94,159.61 204.24,159.57 204.55,159.54 204.86,159.51 205.16,159.48 205.47,159.45 205.78,159.42 206.08,159.39 206.39,159.36 206.70,159.33 207.00,159.30 207.31,159.27 207.62,159.25 207.92,159.22 208.23,159.19 208.54,159.17 208.84,159.14 209.15,159.12 209.46,159.09 209.76,159.07 210.07,159.04 210.38,159.02 210.68,159.00 210.99,158.97 211.30,158.95 211.60,158.92 211.91,158.90 212.22,158.88 212.52,158.86 212.83,158.83 213.14,158.81 213.44,158.79 213.75,158.77 214.06,158.74 214.36,158.72 214.67,158.70 214.98,158.68 215.28,158.66 215.59,158.64 215.90,158.62 216.20,158.60 216.51,158.58 216.82,158.56 217.12,158.54 217.43,158.52 217.74,158.50 218.04,158.48 218.35,158.46 218.66,158.44 218.96,158.42 219.27,158.40 219.58,158.38 219.88,158.36 220.19,158.35 220.49,158.33 220.80,158.31 221.11,158.29 221.41,158.28 221.72,158.26 222.03,158.25 222.33,158.23 222.64,158.21 222.95,158.20 223.25,158.18 223.56,158.17 223.87,158.15 224.17,158.14 224.48,158.12 224.79,158.11 225.09,158.09 225.40,158.08 225.71,158.06 226.01,158.05 226.32,158.03 226.63,158.02 226.93,158.00 227.24,157.99 227.55,157.98 227.85,157.96 228.16,157.95 228.47,157.93 228.77,157.92 229.08,157.90 229.39,157.89 229.69,157.87 230.00,157.86" fill="none" stroke="#CC79A7" stroke-width="1.6" stroke-linejoin="round"/>
<line x1="120.90" y1="205.00" x2="136.40" y2="205.00" stroke="#CC79A7" stroke-width="2.0" />
<polyline points="30.70,226.98 31.01,226.99 31.31,227.00 31.62,227.01 31.93,227.02 32.23,227.03 32.54,227.04 32.85,227.05 33.15,227.06 33.46,227.07 33.77,227.08 34.07,227.09 34.38,227.10 34.69,227.10 34.99,227.11 35.30,227.12 35.61,227.13 35.91,227.14 36.22,227.15 36.53,227.16 36.83,227.17 37.14,227.18 37.45,227.19 37.75,227.21 38.06,227.22 38.37,227.23 38.67,227.25 38.98,227.26 39.29,227.28 39.59,227.30 39.90,227.32 40.21,227.34 40.51,227.36 40.82,227.39 41.12,227.41 41.43,227.44 41.74,227.47 42.04,227.51 42.35,227.54 42.66,227.58 42.96,227.63 43.27,227.68 43.58,227.73 43.88,227.79 44.19,227.86 44.50,227.93 44.80,228.01 45.11,228.11 45.42,228.21 45.72,228.33 46.03,228.46 46.34,228.61 46.64,228.78 46.95,228.99 47.26,229.22 47.56,229.49 47.87,229.81 48.18,230.19 48.48,230.64 48.79,231.19 48.94,231.51 49.02,231.68 49.10,231.86 49.17,232.06 49.25,232.26 49.33,232.47 49.40,232.69 49.48,232.93 49.56,233.18 49.63,233.45 49.71,233.73 49.79,234.03 49.86,234.35 49.94,234.70 50.02,235.06 50.09,235.45 50.17,235.86 50.25,236.30 50.32,236.78 50.40,237.28 50.48,237.83 50.55,237.28 50.63,236.78 50.71,236.30 50.78,235.86 50.86,235.45 50.94,235.06 51.01,234.70 51.09,234.36 51.17,234.04 51.24,233.74 51.32,233.45 51.40,233.19 51.47,232.93 51.55,232.70 51.63,232.47 51.70,232.26 51.78,232.06 51.86,231.87 51.93,231.69 52.01,231.52 52.16,231.20 52.47,230.65 52.78,230.20 53.08,229.82 53.39,229.50 53.70,229.23 54.00,228.99 54.31,228.79 54.62,228.62 54.92,228.47 55.23,228.34 55.54,228.22 55.84,228.12 56.15,228.03 56.46,227.95 56.76,227.87 57.07,227.81 57.38,227.75 57.68,227.69 57.99,227.65 58.30,227.60 58.60,227.56 58.91,227.53 59.22,227.49 59.52,227.46 59.83,227.44 60.14,227.41 60.44,227.39 60.75,227.36 61.05,227.34 61.36,227.33 61.67,227.31 61.97,227.29 62.28,227.28 62.59,227.26 62.89,227.25 63.20,227.24 63.51,227.23 63.81,227.21 64.12,227.20 64.43,227.19 64.73,227.19 65.04,227.18 65.35,227.17 65.65,227.16 65.96,227.15 66.27,227.15 66.57,227.14 66.88,227.14 67.19,227.13 67.49,227.12 67.80,227.12 68.11,227.11 68.41,227.11 68.72,227.11 69.03,227.10 69.33,227.10 69.64,227.09 69.95,227.09 70.25,227.09 70.56,227.08 70.87,227.08 71.17,227.08 71.48,227.07 71.79,227.07 72.09,227.07 72.40,227.07 72.71,227.06 73.01,227.06 73.32,227.06 73.63,227.06 73.93,227.06 74.24,227.05 74.55,227.05 74.85,227.05 75.16,227.05 75.47,227.05 75.77,227.05 76.08,227.05 76.39,227.04 76.69,227.04 77.00,227.04 77.31,227.04 77.61,227.04 77.92,227.04 78.23,227.04 78.53,227.04 78.84,227.04 79.15,227.04 79.45,227.04 79.76,227.04 80.07,227.04 80.37,227.04 80.68,227.04 80.98,227.04 81.29,227.04 81.60,227.04 81.90,227.04 82.21,227.04 82.52,227.04 82.82,227.04 83.13,227.04 83.44,227.04 83.74,227.04 84.05,227.04 84.36,227.04 84.66,227.04 84.97,227.04 85.28,227.05 85.58,227.05 85.89,227.05 86.20,227.05 86.50,227.05 86.81,227.05 87.12,227.05 87.42,227.05 87.73,227.06 88.04,227.06 88.34,227.06 88.65,227.06 88.96,227.06 89.26,227.06 89.57,227.07 89.88,227.07 90.18,227.07 90.49,227.07 90.80,227.07 91.10,227.08 91.41,227.08 91.72,227.08 92.02,227.08 92.33,227.09 92.64,227.09 92.94,227.09 93.25,227.09 93.56,227.10 93.86,227.10 94.17,227.10 94.48,227.11 94.78,227.11 95.09,227.11 95.40,227.12 95.70,227.12 96.01,227.13 96.32,227.13 96.62,227.13 96.93,227.14 97.24,227.14 97.54,227.15 97.85,227.15 98.16,227.16 98.46,227.16 98.77,227.17 99.08,227.18 99.38,227.18 99.69,227.19 100.00,227.20 100.30,227.20 100.61,227.21 100.91,227.22 101.22,227.22 101.53,227.23 101.83,227.24 102.14,227.25 102.45,227.26 102.75,227.27 103.06,227.28 103.37,227.30 103.67,227.31 103.98,227.32 104.29,227.34 104.59,227.35 104.90,227.37 105.21,227.38 105.51,227.40 105.82,227.42 106.13,227.44 106.43,227.45 106.74,227.47 107.05,227.49 107.35,227.51 107.66,227.53 107.97,227.56 108.27,227.58 108.58,227.61 108.89,227.63 109.19,227.66 109.50,227.69 109.81,227.72 110.11,227.76 110.42,227.82 110.73,227.93 111.03,228.08 111.34,228.18 111.65,228.16 111.95,228.08 112.26,228.03 112.57,228.03 112.87,228.06 113.18,228.09 113.49,228.12 113.79,228.16 114.10,228.20 114.41,228.24 114.71,228.28 115.02,228.33 115.33,228.38 115.63,228.43 115.94,228.49 116.25,228.55 116.55,228.62 116.86,228.69 117.17,228.77 117.47,228.85 117.78,228.94 118.09,229.04 118.39,229.14 118.70,229.26 119.01,229.38 119.31,229.52 119.62,229.67 119.93,229.84 120.23,230.02 120.54,230.22 120.84,230.44 121.15,230.68 121.46,230.96 121.76,231.26 122.07,231.61 122.38,231.99 122.68,232.43 122.99,232.93 123.30,233.49 123.60,234.14 123.79,234.57 123.87,234.77 123.91,234.89 123.94,234.97 124.02,235.17 124.10,235.39 124.17,235.61 124.22,235.75 124.25,235.85 124.33,236.09 124.40,236.34 124.48,236.60 124.52,236.76 124.55,236.87 124.63,237.16 124.71,237.45 124.78,237.76 124.83,237.95 124.86,238.08 124.94,238.42 125.01,238.77 125.09,239.14 125.14,239.37 125.17,239.52 125.24,239.92 125.32,240.34 125.40,239.83 125.44,239.54 125.47,239.35 125.55,238.89 125.63,238.45 125.70,238.04 125.75,237.81 125.78,237.65 125.86,237.28 125.93,236.93 126.01,236.59 126.06,236.40 126.09,236.27 126.16,235.97 126.24,235.68 126.32,235.40 126.36,235.24 126.39,235.14 126.47,234.89 126.55,234.65 126.62,234.42 126.67,234.28 126.70,234.20 126.78,233.99 126.85,233.78 126.98,233.48 127.28,232.80 127.59,232.22 127.90,231.72 128.20,231.29 128.51,230.91 128.82,230.59 129.12,230.30 129.43,230.05 129.74,229.83 130.04,229.63 130.35,229.45 130.66,229.29 130.96,229.15 131.27,229.02 131.58,228.90 131.88,228.79 132.19,228.70 132.50,228.61 132.80,228.53 133.11,228.45 133.42,228.39 133.72,228.33 134.03,228.27 134.34,228.21 134.64,228.17 134.95,228.12 135.26,228.08 135.56,228.04 135.87,228.00 136.18,227.97 136.48,227.94 136.79,227.91 137.10,227.88 137.40,227.85 137.71,227.83 138.02,227.81 138.32,227.79 138.63,227.76 138.94,227.75 139.24,227.73 139.55,227.71 139.86,227.69 140.16,227.68 140.47,227.66 140.77,227.65 141.08,227.64 141.39,227.63 141.69,227.61 142.00,227.60 142.31,227.59 142.61,227.58 142.92,227.57 143.23,227.57 143.53,227.56 143.84,227.55 144.15,227.54 144.45,227.54 144.76,227.53 145.07,227.53 145.37,227.52 145.68,227.52 145.99,227.51 146.29,227.51 146.60,227.50 146.91,227.50 147.21,227.50 147.52,227.49 147.83,227.49 148.13,227.49 148.44,227.48 148.75,227.48 149.05,227.48 149.36,227.48 149.67,227.48 149.97,227.47 150.28,227.47 150.59,227.47 150.89,227.47 151.20,227.47 151.51,227.47 151.81,227.48 152.12,227.48 152.43,227.48 152.73,227.48 153.04,227.49 153.35,227.49 153.65,227.50 153.96,227.50 154.27,227.51 154.57,227.51 154.88,227.52 155.19,227.53 155.49,227.53 155.80,227.54 156.11,227.55 156.41,227.56 156.72,227.56 157.03,227.57 157.33,227.58 157.64,227.59 157.95,227.60 158.25,227.61 158.56,227.62 158.87,227.63 159.17,227.64 159.48,227.65 159.79,227.66 160.09,227.67 160.40,227.68 160.70,227.69 161.01,227.70 161.32,227.71 161.62,227.72 161.93,227.74 162.24,227.75 162.54,227.76 162.85,227.77 163.16,227.79 163.46,227.80 163.77,227.81 164.08,227.83 164.38,227.85 164.69,227.86 165.00,227.88 165.30,227.90 165.61,227.91 165.92,227.93 166.22,227.95 166.53,227.97 166.84,227.99 167.14,228.01 167.45,228.03 167.76,228.04 168.06,228.06 168.37,228.08 168.68,228.10 168.98,228.12 169.29,228.14 169.60,228.16 169.90,228.17 170.21,228.19 170.52,228.21 170.82,228.23 171.13,228.25 171.44,228.27 171.74,228.29 172.05,228.31 172.36,228.33 172.66,228.35 172.97,228.37 173.28,228.40 173.58,228.42 173.89,228.44 174.20,228.47 174.50,228.49 174.81,228.52 175.12,228.54 175.42,228.57 175.73,228.60 176.04,228.63 176.34,228.66 176.65,228.69 176.96,228.72 177.26,228.75 177.57,228.79 177.88,228.82 178.18,228.86 178.49,228.90 178.80,228.94 179.10,228.98 179.41,229.02 179.72,229.06 180.02,229.11 180.33,229.16 180.63,229.20 180.94,229.26 181.25,229.31 181.55,229.36 181.86,229.42 182.17,229.48 182.47,229.54 182.78,229.60 183.09,229.67 183.39,229.73 183.70,229.80 184.01,229.88 184.31,229.96 184.62,230.05 184.93,230.14 185.23,230.23 185.54,230.33 185.85,230.42 186.15,230.52 186.23,230.54 186.31,230.57 186.38,230.59 186.46,230.62 186.54,230.64 186.61,230.67 186.69,230.69 186.77,230.72 186.84,230.75 186.92,230.77 187.00,230.80 187.07,230.82 187.15,230.85 187.23,230.88 187.30,230.90 187.38,230.93 187.46,230.95 187.53,230.98 187.61,231.01 187.69,231.03 187.76,231.00 187.84,230.98 187.92,230.95 187.99,230.92 188.07,230.89 188.15,230.86 188.22,230.83 188.30,230.81 188.38,230.78 188.45,230.75 188.53,230.72 188.61,230.69 188.68,230.67 188.76,230.64 188.84,230.61 188.91,230.58 188.99,230.55 189.07,230.52 189.14,230.49 189.22,230.46 189.53,230.33 189.83,230.20 190.14,230.05 190.45,229.90 190.75,229.76 191.06,229.64 191.37,229.53 191.67,229.42 191.98,229.32 192.29,229.23 192.59,229.14 192.90,229.05 193.21,228.97 193.51,228.89 193.82,228.81 194.13,228.72 194.43,228.65 194.74,228.57 195.05,228.50 195.35,228.43 195.66,228.37 195.97,228.32 196.27,228.28 196.58,228.25 196.89,228.21 197.19,228.18 197.50,228.15 197.81,228.13 198.11,228.10 198.42,228.08 198.73,228.06 199.03,228.03 199.34,228.01 199.65,227.99 199.95,227.98 200.26,227.96 200.56,227.94 200.87,227.92 201.18,227.91 201.48,227.89 201.79,227.88 202.10,227.86 202.40,227.85 202.71,227.83 203.02,227.82 203.32,227.81 203.63,227.79 203.94,227.78 204.24,227.77 204.55,227.75 204.86,227.74 205.16,227.73 205.47,227.71 205.78,227.70 206.08,227.69 206.39,227.68 206.70,227.67 207.00,227.65 207.31,227.64 207.62,227.63 207.92,227.62 208.23,227.61 208.54,227.60 208.84,227.59 209.15,227.58 209.46,227.57 209.76,227.56 210.07,227.55 210.38,227.54 210.68,227.53 210.99,227.52 211.30,227.51 211.60,227.50 211.91,227.49 212.22,227.48 212.52,227.47 212.83,227.46 213.14,227.45 213.44,227.44 213.75,227.43 214.06,227.42 214.36,227.41 214.67,227.40 214.98,227.39 215.28,227.38 215.59,227.38 215.90,227.37 216.20,227.36 216.51,227.35 216.82,227.34 217.12,227.33 217.43,227.33 217.74,227.32 218.04,227.31 218.35,227.30 218.66,227.29 218.96,227.29 219.27,227.28 219.58,227.27 219.88,227.26 220.19,227.25 220.49,227.25 220.80,227.24 221.11,227.23 221.41,227.23 221.72,227.22 222.03,227.21 222.33,227.21 222.64,227.20 222.95,227.19 223.25,227.19 223.56,227.18 223.87,227.17 224.17,227.17 224.48,227.16 224.79,227.15 225.09,227.15 225.40,227.14 225.71,227.14 226.01,227.13 226.32,227.12 226.63,227.12 226.93,227.11 227.24,227.11 227.55,227.10 227.85,227.09 228.16,227.09 228.47,227.08 228.77,227.08 229.08,227.07 229.39,227.06 229.69,227.06 230.00,227.05" fill="none" stroke="#0072B2" stroke-width="1.6" stroke-linejoin="round"/>
<line x1="120.90" y1="274.35" x2="136.40" y2="274.35" stroke="#0072B2" stroke-width="2.0" />
<line x1="30.70" y1="18.89" x2="34.30" y2="18.89" stroke="#000000" stroke-width="1.6" />
<line x1="230.00" y1="18.89" x2="226.40" y2="18.89" stroke="#000000" stroke-width="1.6" />
<text transform="translate(27.40,22.79) scale(1,1.06)" text-anchor="end" font-size="9.3" >0</text>
<line x1="30.70" y1="36.99" x2="34.30" y2="36.99" stroke="#000000" stroke-width="1.6" />
<line x1="230.00" y1="36.99" x2="226.40" y2="36.99" stroke="#000000" stroke-width="1.6" />
<text transform="translate(27.40,40.89) scale(1,1.06)" text-anchor="end" font-size="9.3" >−5</text>
<line x1="30.70" y1="55.10" x2="34.30" y2="55.10" stroke="#000000" stroke-width="1.6" />
<line x1="230.00" y1="55.10" x2="226.40" y2="55.10" stroke="#000000" stroke-width="1.6" />
<text transform="translate(27.40,59.00) scale(1,1.06)" text-anchor="end" font-size="9.3" >−10</text>
<line x1="30.70" y1="73.21" x2="34.30" y2="73.21" stroke="#000000" stroke-width="1.6" />
<line x1="230.00" y1="73.21" x2="226.40" y2="73.21" stroke="#000000" stroke-width="1.6" />
<text transform="translate(27.40,77.11) scale(1,1.06)" text-anchor="end" font-size="9.3" >−15</text>
<line x1="30.70" y1="27.94" x2="32.70" y2="27.94" stroke="#000000" stroke-width="1.6" />
<line x1="230.00" y1="27.94" x2="228.00" y2="27.94" stroke="#000000" stroke-width="1.6" />
<line x1="30.70" y1="46.05" x2="32.70" y2="46.05" stroke="#000000" stroke-width="1.6" />
<line x1="230.00" y1="46.05" x2="228.00" y2="46.05" stroke="#000000" stroke-width="1.6" />
<line x1="30.70" y1="64.15" x2="32.70" y2="64.15" stroke="#000000" stroke-width="1.6" />
<line x1="230.00" y1="64.15" x2="228.00" y2="64.15" stroke="#000000" stroke-width="1.6" />
<line x1="30.70" y1="88.24" x2="34.30" y2="88.24" stroke="#000000" stroke-width="1.6" />
<line x1="230.00" y1="88.24" x2="226.40" y2="88.24" stroke="#000000" stroke-width="1.6" />
<text transform="translate(27.40,92.14) scale(1,1.06)" text-anchor="end" font-size="9.3" >0</text>
<line x1="30.70" y1="106.34" x2="34.30" y2="106.34" stroke="#000000" stroke-width="1.6" />
<line x1="230.00" y1="106.34" x2="226.40" y2="106.34" stroke="#000000" stroke-width="1.6" />
<text transform="translate(27.40,110.24) scale(1,1.06)" text-anchor="end" font-size="9.3" >−5</text>
<line x1="30.70" y1="124.45" x2="34.30" y2="124.45" stroke="#000000" stroke-width="1.6" />
<line x1="230.00" y1="124.45" x2="226.40" y2="124.45" stroke="#000000" stroke-width="1.6" />
<text transform="translate(27.40,128.35) scale(1,1.06)" text-anchor="end" font-size="9.3" >−10</text>
<line x1="30.70" y1="142.56" x2="34.30" y2="142.56" stroke="#000000" stroke-width="1.6" />
<line x1="230.00" y1="142.56" x2="226.40" y2="142.56" stroke="#000000" stroke-width="1.6" />
<text transform="translate(27.40,146.46) scale(1,1.06)" text-anchor="end" font-size="9.3" >−15</text>
<line x1="30.70" y1="97.29" x2="32.70" y2="97.29" stroke="#000000" stroke-width="1.6" />
<line x1="230.00" y1="97.29" x2="228.00" y2="97.29" stroke="#000000" stroke-width="1.6" />
<line x1="30.70" y1="115.40" x2="32.70" y2="115.40" stroke="#000000" stroke-width="1.6" />
<line x1="230.00" y1="115.40" x2="228.00" y2="115.40" stroke="#000000" stroke-width="1.6" />
<line x1="30.70" y1="133.50" x2="32.70" y2="133.50" stroke="#000000" stroke-width="1.6" />
<line x1="230.00" y1="133.50" x2="228.00" y2="133.50" stroke="#000000" stroke-width="1.6" />
<line x1="30.70" y1="157.59" x2="34.30" y2="157.59" stroke="#000000" stroke-width="1.6" />
<line x1="230.00" y1="157.59" x2="226.40" y2="157.59" stroke="#000000" stroke-width="1.6" />
<text transform="translate(27.40,161.49) scale(1,1.06)" text-anchor="end" font-size="9.3" >0</text>
<line x1="30.70" y1="175.69" x2="34.30" y2="175.69" stroke="#000000" stroke-width="1.6" />
<line x1="230.00" y1="175.69" x2="226.40" y2="175.69" stroke="#000000" stroke-width="1.6" />
<text transform="translate(27.40,179.59) scale(1,1.06)" text-anchor="end" font-size="9.3" >−5</text>
<line x1="30.70" y1="193.80" x2="34.30" y2="193.80" stroke="#000000" stroke-width="1.6" />
<line x1="230.00" y1="193.80" x2="226.40" y2="193.80" stroke="#000000" stroke-width="1.6" />
<text transform="translate(27.40,197.70) scale(1,1.06)" text-anchor="end" font-size="9.3" >−10</text>
<line x1="30.70" y1="211.91" x2="34.30" y2="211.91" stroke="#000000" stroke-width="1.6" />
<line x1="230.00" y1="211.91" x2="226.40" y2="211.91" stroke="#000000" stroke-width="1.6" />
<text transform="translate(27.40,215.81) scale(1,1.06)" text-anchor="end" font-size="9.3" >−15</text>
<line x1="30.70" y1="166.64" x2="32.70" y2="166.64" stroke="#000000" stroke-width="1.6" />
<line x1="230.00" y1="166.64" x2="228.00" y2="166.64" stroke="#000000" stroke-width="1.6" />
<line x1="30.70" y1="184.75" x2="32.70" y2="184.75" stroke="#000000" stroke-width="1.6" />
<line x1="230.00" y1="184.75" x2="228.00" y2="184.75" stroke="#000000" stroke-width="1.6" />
<line x1="30.70" y1="202.85" x2="32.70" y2="202.85" stroke="#000000" stroke-width="1.6" />
<line x1="230.00" y1="202.85" x2="228.00" y2="202.85" stroke="#000000" stroke-width="1.6" />
<line x1="30.70" y1="226.94" x2="34.30" y2="226.94" stroke="#000000" stroke-width="1.6" />
<line x1="230.00" y1="226.94" x2="226.40" y2="226.94" stroke="#000000" stroke-width="1.6" />
<text transform="translate(27.40,230.84) scale(1,1.06)" text-anchor="end" font-size="9.3" >0</text>
<line x1="30.70" y1="245.04" x2="34.30" y2="245.04" stroke="#000000" stroke-width="1.6" />
<line x1="230.00" y1="245.04" x2="226.40" y2="245.04" stroke="#000000" stroke-width="1.6" />
<text transform="translate(27.40,248.94) scale(1,1.06)" text-anchor="end" font-size="9.3" >−5</text>
<line x1="30.70" y1="263.15" x2="34.30" y2="263.15" stroke="#000000" stroke-width="1.6" />
<line x1="230.00" y1="263.15" x2="226.40" y2="263.15" stroke="#000000" stroke-width="1.6" />
<text transform="translate(27.40,267.05) scale(1,1.06)" text-anchor="end" font-size="9.3" >−10</text>
<line x1="30.70" y1="281.26" x2="34.30" y2="281.26" stroke="#000000" stroke-width="1.6" />
<line x1="230.00" y1="281.26" x2="226.40" y2="281.26" stroke="#000000" stroke-width="1.6" />
<text transform="translate(27.40,285.16) scale(1,1.06)" text-anchor="end" font-size="9.3" >−15</text>
<line x1="30.70" y1="235.99" x2="32.70" y2="235.99" stroke="#000000" stroke-width="1.6" />
<line x1="230.00" y1="235.99" x2="228.00" y2="235.99" stroke="#000000" stroke-width="1.6" />
<line x1="30.70" y1="254.10" x2="32.70" y2="254.10" stroke="#000000" stroke-width="1.6" />
<line x1="230.00" y1="254.10" x2="228.00" y2="254.10" stroke="#000000" stroke-width="1.6" />
<line x1="30.70" y1="272.20" x2="32.70" y2="272.20" stroke="#000000" stroke-width="1.6" />
<line x1="230.00" y1="272.20" x2="228.00" y2="272.20" stroke="#000000" stroke-width="1.6" />
<line x1="61.36" y1="11.10" x2="61.36" y2="13.10" stroke="#000000" stroke-width="1.6" />
<line x1="61.36" y1="288.50" x2="61.36" y2="286.50" stroke="#000000" stroke-width="1.6" />
<line x1="92.02" y1="11.10" x2="92.02" y2="14.70" stroke="#000000" stroke-width="1.6" />
<line x1="92.02" y1="288.50" x2="92.02" y2="284.90" stroke="#000000" stroke-width="1.6" />
<line x1="122.68" y1="11.10" x2="122.68" y2="13.10" stroke="#000000" stroke-width="1.6" />
<line x1="122.68" y1="288.50" x2="122.68" y2="286.50" stroke="#000000" stroke-width="1.6" />
<line x1="153.35" y1="11.10" x2="153.35" y2="14.70" stroke="#000000" stroke-width="1.6" />
<line x1="153.35" y1="288.50" x2="153.35" y2="284.90" stroke="#000000" stroke-width="1.6" />
<line x1="184.01" y1="11.10" x2="184.01" y2="13.10" stroke="#000000" stroke-width="1.6" />
<line x1="184.01" y1="288.50" x2="184.01" y2="286.50" stroke="#000000" stroke-width="1.6" />
<line x1="214.67" y1="11.10" x2="214.67" y2="14.70" stroke="#000000" stroke-width="1.6" />
<line x1="214.67" y1="288.50" x2="214.67" y2="284.90" stroke="#000000" stroke-width="1.6" />
<text transform="translate(30.70,303.40) scale(1,1.06)" text-anchor="middle" font-size="9.3" >600</text>
<text transform="translate(92.02,303.40) scale(1,1.06)" text-anchor="middle" font-size="9.3" >800</text>
<text transform="translate(153.35,303.40) scale(1,1.06)" text-anchor="middle" font-size="9.3" >1000</text>
<text transform="translate(214.67,303.40) scale(1,1.06)" text-anchor="middle" font-size="9.3" >1200</text>
<line x1="30.70" y1="80.45" x2="230.00" y2="80.45" stroke="#000000" stroke-width="1.6" />
<line x1="30.70" y1="149.80" x2="230.00" y2="149.80" stroke="#000000" stroke-width="1.6" />
<line x1="30.70" y1="219.15" x2="230.00" y2="219.15" stroke="#000000" stroke-width="1.6" />
<rect x="30.70" y="11.10" width="199.30" height="277.40" fill="none" stroke="#000000" stroke-width="1.6"/>
<text transform="translate(129.05,316.00) scale(1,1.06)" text-anchor="middle" font-size="9.6" >Frequency (MHz)</text>
<text transform="translate(130.85,7.00) scale(1,1.06)" text-anchor="middle" font-size="9.7" >Simulation</text>
<rect x="266.21" y="11.60" width="25.48" height="277.08" fill="#F0DCCF"/>
<rect x="336.00" y="11.60" width="26.00" height="277.08" fill="#CDCDFA"/>
<rect x="396.80" y="11.60" width="26.71" height="277.08" fill="#CDF0DC"/>
<text transform="translate(368.65,70.80) scale(1,1.06)" text-anchor="start" font-size="9.6" >Distance = 60 cm</text>
<text transform="translate(368.65,140.07) scale(1,1.06)" text-anchor="start" font-size="9.6" >Distance = 100 cm</text>
<text transform="translate(368.65,209.34) scale(1,1.06)" text-anchor="start" font-size="9.6" >Distance = 140 cm</text>
<text transform="translate(368.65,278.61) scale(1,1.06)" text-anchor="start" font-size="9.6" >Distance = 180 cm</text>
<line x1="279.27" y1="11.60" x2="279.27" y2="288.68" stroke="#787878" stroke-width="1.6" stroke-dasharray="4.5 1.7" stroke-dashoffset="4.0"/>
<line x1="348.97" y1="11.60" x2="348.97" y2="288.68" stroke="#787878" stroke-width="1.6" stroke-dasharray="4.5 1.7" stroke-dashoffset="4.0"/>
<line x1="410.11" y1="11.60" x2="410.11" y2="288.68" stroke="#787878" stroke-width="1.6" stroke-dasharray="4.5 1.7" stroke-dashoffset="4.0"/>
<polyline points="257.75,18.89 258.06,18.89 258.36,18.89 258.67,18.89 258.98,18.89 259.28,18.89 259.59,18.89 259.90,18.89 260.20,18.89 260.51,18.89 260.82,18.89 261.12,18.89 261.43,18.89 261.74,18.90 262.04,18.91 262.35,18.94 262.66,19.02 262.96,19.15 263.27,19.37 263.58,19.69 263.88,20.13 264.19,20.66 264.50,21.25 264.80,21.90 265.11,22.56 265.42,23.24 265.72,23.92 266.03,24.60 266.34,25.27 266.64,25.94 266.95,26.61 267.26,27.27 267.56,27.93 267.87,28.59 268.17,29.25 268.48,29.90 268.79,30.54 269.09,31.19 269.40,31.83 269.71,32.46 270.01,33.10 270.32,33.72 270.63,34.35 270.93,34.96 271.24,35.58 271.55,36.19 271.85,36.79 272.16,37.39 272.47,37.99 272.77,38.58 273.08,39.16 273.39,39.74 273.69,40.32 274.00,40.88 274.31,41.44 274.61,42.00 274.92,42.54 275.23,43.08 275.53,43.61 275.84,44.13 276.15,44.64 276.45,45.15 276.76,45.64 277.07,46.12 277.37,46.58 277.68,47.03 277.99,47.45 278.29,47.85 278.60,48.19 278.91,48.48 279.21,48.68 279.52,48.78 279.83,48.77 280.13,48.65 280.44,48.42 280.75,48.10 281.05,47.68 281.36,47.18 281.67,46.61 281.97,45.96 282.28,45.25 282.59,44.48 282.89,43.65 283.20,42.79 283.51,41.88 283.81,40.94 284.12,39.97 284.43,38.99 284.73,37.99 285.04,36.99 285.35,35.99 285.65,34.99 285.96,34.01 286.27,33.04 286.57,32.10 286.88,31.18 287.19,30.29 287.49,29.43 287.80,28.61 288.10,27.83 288.41,27.08 288.72,26.38 289.02,25.71 289.33,25.08 289.64,24.50 289.94,23.95 290.25,23.45 290.56,22.98 290.86,22.55 291.17,22.15 291.48,21.79 291.78,21.46 292.09,21.16 292.40,20.89 292.70,20.65 293.01,20.43 293.32,20.24 293.62,20.06 293.93,19.91 294.24,19.77 294.54,19.65 294.85,19.54 295.16,19.45 295.46,19.37 295.77,19.30 296.08,19.24 296.38,19.18 296.69,19.14 297.00,19.10 297.30,19.07 297.61,19.04 297.92,19.01 298.22,18.99 298.53,18.98 298.84,18.96 299.14,18.95 299.45,18.94 299.76,18.93 300.06,18.92 300.37,18.92 300.68,18.91 300.98,18.91 301.29,18.91 301.60,18.90 301.90,18.90 302.21,18.90 302.52,18.90 302.82,18.90 303.13,18.90 303.44,18.89 303.74,18.89 304.05,18.89 304.36,18.89 304.66,18.89 304.97,18.89 305.28,18.89 305.58,18.89 305.89,18.89 306.20,18.89 306.50,18.89 306.81,18.89 307.12,18.89 307.42,18.89 307.73,18.89 308.03,18.89 308.34,18.89 308.65,18.89 308.95,18.89 309.26,18.89 309.57,18.89 309.87,18.89 310.18,18.89 310.49,18.89 310.79,18.89 311.10,18.89 311.41,18.89 311.71,18.89 312.02,18.89 312.33,18.89 312.63,18.89 312.94,18.89 313.25,18.89 313.55,18.89 313.86,18.89 314.17,18.89 314.47,18.89 314.78,18.89 315.09,18.89 315.39,18.89 315.70,18.89 316.01,18.89 316.31,18.89 316.62,18.89 316.93,18.89 317.23,18.89 317.54,18.89 317.85,18.89 318.15,18.89 318.46,18.89 318.77,18.89 319.07,18.89 319.38,18.89 319.69,18.89 319.99,18.89 320.30,18.89 320.61,18.89 320.91,18.89 321.22,18.89 321.53,18.89 321.83,18.89 322.14,18.89 322.45,18.89 322.75,18.89 323.06,18.89 323.37,18.89 323.67,18.89 323.98,18.89 324.29,18.89 324.59,18.89 324.90,18.89 325.21,18.89 325.51,18.89 325.82,18.89 326.13,18.89 326.43,18.89 326.74,18.89 327.05,18.89 327.35,18.89 327.66,18.89 327.96,18.89 328.27,18.89 328.58,18.89 328.88,18.89 329.19,18.89 329.50,18.89 329.80,18.89 330.11,18.89 330.42,18.89 330.72,18.89 331.03,18.89 331.34,18.89 331.64,18.90 331.95,18.93 332.26,18.99 332.56,19.14 332.87,19.41 333.18,19.82 333.48,20.36 333.79,21.00 334.10,21.70 334.40,22.43 334.71,23.17 335.02,23.91 335.32,24.66 335.63,25.40 335.94,26.16 336.24,26.91 336.55,27.67 336.86,28.43 337.16,29.19 337.47,29.96 337.78,30.73 338.08,31.50 338.39,32.28 338.70,33.06 339.00,33.84 339.31,34.63 339.62,35.42 339.92,36.22 340.23,37.02 340.54,37.82 340.84,38.63 341.15,39.44 341.46,40.26 341.76,41.09 342.07,41.92 342.38,42.75 342.68,43.59 342.99,44.44 343.30,45.30 343.60,46.16 343.91,47.03 344.22,47.91 344.52,48.80 344.83,49.70 345.14,50.62 345.44,51.54 345.75,52.48 346.06,53.44 346.36,54.41 346.67,55.41 346.98,56.44 347.28,57.49 347.59,58.56 347.89,59.60 348.20,60.54 348.51,61.26 348.81,61.68 349.12,61.75 349.43,61.51 349.73,61.00 350.04,60.29 350.35,59.41 350.65,58.38 350.96,57.21 351.27,55.93 351.57,54.55 351.88,53.08 352.19,51.53 352.49,49.93 352.80,48.28 353.11,46.61 353.41,44.93 353.72,43.25 354.03,41.58 354.33,39.95 354.64,38.35 354.95,36.79 355.25,35.30 355.56,33.87 355.87,32.50 356.17,31.22 356.48,30.00 356.79,28.87 357.09,27.81 357.40,26.84 357.71,25.94 358.01,25.12 358.32,24.37 358.63,23.69 358.93,23.08 359.24,22.53 359.55,22.04 359.85,21.61 360.16,21.22 360.47,20.88 360.77,20.59 361.08,20.33 361.39,20.11 361.69,19.91 362.00,19.75 362.31,19.60 362.61,19.48 362.92,19.38 363.23,19.30 363.53,19.22 363.84,19.16 364.15,19.11 364.45,19.07 364.76,19.04 365.07,19.01 365.37,18.98 365.68,18.97 365.99,18.95 366.29,18.94 366.60,18.93 366.91,18.92 367.21,18.91 367.52,18.91 367.82,18.91 368.13,18.90 368.44,18.90 368.74,18.90 369.05,18.90 369.36,18.90 369.66,18.89 369.97,18.89 370.28,18.89 370.58,18.89 370.89,18.89 371.20,18.89 371.50,18.89 371.81,18.89 372.12,18.89 372.42,18.89 372.73,18.89 373.04,18.89 373.34,18.89 373.65,18.89 373.96,18.89 374.26,18.89 374.57,18.89 374.88,18.89 375.18,18.89 375.49,18.89 375.80,18.89 376.10,18.89 376.41,18.89 376.72,18.89 377.02,18.89 377.33,18.89 377.64,18.89 377.94,18.89 378.25,18.89 378.56,18.89 378.86,18.89 379.17,18.89 379.48,18.89 379.78,18.89 380.09,18.89 380.40,18.89 380.70,18.89 381.01,18.89 381.32,18.89 381.62,18.89 381.93,18.89 382.24,18.89 382.54,18.94 382.85,18.95 383.16,18.95 383.46,18.96 383.77,18.97 384.08,18.97 384.38,18.98 384.69,18.99 385.00,19.00 385.30,19.01 385.61,19.02 385.92,19.03 386.22,19.05 386.53,19.06 386.84,19.07 387.14,19.09 387.45,19.11 387.75,19.12 388.06,19.14 388.37,19.17 388.67,19.19 388.98,19.21 389.29,19.24 389.59,19.26 389.90,19.29 390.21,19.32 390.51,19.35 390.82,19.39 391.13,19.42 391.43,19.46 391.74,19.50 392.05,19.55 392.35,19.59 392.66,19.64 392.97,19.69 393.27,19.75 393.58,19.81 393.89,19.87 394.19,19.93 394.50,20.00 394.81,20.08 395.11,20.16 395.42,20.24 395.73,20.33 396.03,20.43 396.34,20.53 396.65,20.64 396.95,20.76 397.26,20.89 397.57,21.03 397.87,21.18 398.18,21.34 398.49,21.51 398.79,21.69 399.10,21.88 399.41,22.09 399.71,22.32 400.02,22.56 400.33,22.82 400.63,23.09 400.94,23.38 401.25,23.68 401.55,24.00 401.86,24.34 402.17,24.69 402.47,25.06 402.78,25.45 403.09,25.84 403.39,26.25 403.70,26.67 404.01,27.10 404.31,27.53 404.62,27.97 404.93,28.40 405.23,28.84 405.54,29.27 405.85,29.69 406.15,30.10 406.46,30.49 406.77,30.86 407.07,31.21 407.38,31.54 407.68,31.83 407.99,32.10 408.30,32.33 408.60,32.52 408.91,32.67 409.22,32.79 409.52,32.86 409.83,32.89 410.14,32.88 410.44,32.82 410.75,32.72 411.06,32.59 411.36,32.41 411.67,32.19 411.98,31.94 412.28,31.66 412.59,31.34 412.90,31.00 413.20,30.64 413.51,30.25 413.82,29.85 414.12,29.44 414.43,29.01 414.74,28.58 415.04,28.14 415.35,27.71 415.66,27.27 415.96,26.84 416.27,26.42 416.58,26.01 416.88,25.61 417.19,25.22 417.50,24.84 417.80,24.48 418.11,24.14 418.42,23.81 418.72,23.50 419.03,23.20 419.34,22.92 419.64,22.66 419.95,22.41 420.26,22.18 420.56,21.97 420.87,21.77 421.18,21.58 421.48,21.40 421.79,21.24 422.10,21.09 422.40,20.94 422.71,20.81 423.02,20.69 423.32,20.58 423.63,20.47 423.94,20.37 424.24,20.28 424.55,20.19 424.86,20.11 425.16,20.03 425.47,19.96 425.78,19.89 426.08,19.83 426.39,19.77 426.70,19.71 427.00,19.66 427.31,19.61 427.61,19.56 427.92,19.52 428.23,19.48 428.53,19.44 428.84,19.40 429.15,19.37 429.45,19.33 429.76,19.30 430.07,19.27 430.37,19.25 430.68,19.22 430.99,19.20 431.29,19.17 431.60,19.15 431.91,19.13 432.21,19.11 432.52,19.10 432.83,19.08 433.13,19.07 433.44,19.05 433.75,19.04 434.05,19.03 434.36,19.01 434.67,19.00 434.97,18.99 435.28,18.99 435.59,18.98 435.89,18.97 436.20,18.96 436.51,18.96 436.81,18.95 437.12,18.94 437.43,18.94 437.73,18.89 438.04,18.89 438.35,18.89 438.65,18.89 438.96,18.89 439.27,18.89 439.57,18.89 439.88,18.89 440.19,18.89 440.49,18.89 440.80,18.89 441.11,18.89 441.41,18.89 441.72,18.89 442.03,18.89 442.33,18.89 442.64,18.89 442.95,18.89 443.25,18.89 443.56,18.89 443.87,18.89 444.17,18.89 444.48,18.89 444.79,18.89 445.09,18.89 445.40,18.89 445.71,18.89 446.01,18.89 446.32,18.89 446.63,18.89 446.93,18.89 447.24,18.89 447.54,18.89 447.85,18.89 448.16,18.89 448.46,18.89 448.77,18.89 449.08,18.89 449.38,18.89 449.69,18.89 450.00,18.89 450.30,18.89 450.61,18.89 450.92,18.89 451.22,18.89 451.53,18.89 451.84,18.89 452.14,18.89 452.45,18.89 452.76,18.89 453.06,18.89 453.37,18.89 453.68,18.89 453.98,18.89 454.29,18.89 454.60,18.89 454.90,18.89 455.21,18.89 455.52,18.89 455.82,18.89 456.13,18.89 456.44,18.89 456.74,18.89 457.05,18.89" fill="none" stroke="#000000" stroke-width="1.6" stroke-linejoin="round"/>
<line x1="347.45" y1="66.80" x2="368.65" y2="66.80" stroke="#000000" stroke-width="2.0" />
<polyline points="257.75,88.16 258.06,88.16 258.36,88.16 258.67,88.16 258.98,88.16 259.28,88.17 259.59,88.17 259.90,88.17 260.20,88.17 260.51,88.17 260.82,88.18 261.12,88.18 261.43,88.19 261.74,88.20 262.04,88.21 262.35,88.23 262.66,88.25 262.96,88.28 263.27,88.32 263.58,88.37 263.88,88.44 264.19,88.52 264.50,88.64 264.80,88.78 265.11,88.97 265.42,89.21 265.72,89.51 266.03,89.88 266.34,90.33 266.64,90.86 266.95,91.48 267.26,92.16 267.56,92.91 267.87,93.69 268.17,94.48 268.48,95.25 268.79,95.99 269.09,96.66 269.40,97.26 269.71,97.78 270.01,98.23 270.32,98.61 270.63,98.94 270.93,99.21 271.24,99.46 271.55,99.68 271.85,99.89 272.16,100.10 272.47,100.30 272.77,100.52 273.08,100.75 273.39,101.00 273.69,101.26 274.00,101.55 274.31,101.87 274.61,102.21 274.92,102.57 275.23,102.95 275.53,103.34 275.84,103.75 276.15,104.16 276.45,104.58 276.76,104.99 277.07,105.38 277.37,105.76 277.68,106.11 277.99,106.42 278.29,106.69 278.60,106.91 278.91,107.08 279.21,107.18 279.52,107.23 279.83,107.21 280.13,107.11 280.44,106.94 280.75,106.70 281.05,106.39 281.36,106.02 281.67,105.58 281.97,105.08 282.28,104.53 282.59,103.94 282.89,103.30 283.20,102.64 283.51,101.94 283.81,101.23 284.12,100.51 284.43,99.77 284.73,99.04 285.04,98.31 285.35,97.60 285.65,96.90 285.96,96.22 286.27,95.56 286.57,94.93 286.88,94.32 287.19,93.75 287.49,93.21 287.80,92.71 288.10,92.24 288.41,91.80 288.72,91.40 289.02,91.03 289.33,90.69 289.64,90.38 289.94,90.11 290.25,89.86 290.56,89.63 290.86,89.43 291.17,89.26 291.48,89.10 291.78,88.96 292.09,88.84 292.40,88.74 292.70,88.65 293.01,88.57 293.32,88.51 293.62,88.45 293.93,88.40 294.24,88.36 294.54,88.32 294.85,88.29 295.16,88.27 295.46,88.25 295.77,88.23 296.08,88.22 296.38,88.21 296.69,88.20 297.00,88.19 297.30,88.19 297.61,88.18 297.92,88.18 298.22,88.17 298.53,88.17 298.84,88.17 299.14,88.17 299.45,88.17 299.76,88.16 300.06,88.16 300.37,88.16 300.68,88.16 300.98,88.16 301.29,88.16 301.60,88.16 301.90,88.16 302.21,88.16 302.52,88.16 302.82,88.16 303.13,88.16 303.44,88.16 303.74,88.16 304.05,88.16 304.36,88.16 304.66,88.16 304.97,88.16 305.28,88.16 305.58,88.16 305.89,88.16 306.20,88.16 306.50,88.16 306.81,88.16 307.12,88.16 307.42,88.16 307.73,88.16 308.03,88.16 308.34,88.16 308.65,88.16 308.95,88.16 309.26,88.16 309.57,88.16 309.87,88.16 310.18,88.16 310.49,88.16 310.79,88.16 311.10,88.16 311.41,88.16 311.71,88.16 312.02,88.16 312.33,88.16 312.63,88.16 312.94,88.16 313.25,88.16 313.55,88.16 313.86,88.16 314.17,88.16 314.47,88.16 314.78,88.16 315.09,88.16 315.39,88.16 315.70,88.16 316.01,88.16 316.31,88.16 316.62,88.16 316.93,88.16 317.23,88.16 317.54,88.16 317.85,88.16 318.15,88.16 318.46,88.16 318.77,88.16 319.07,88.16 319.38,88.16 319.69,88.16 319.99,88.16 320.30,88.16 320.61,88.16 320.91,88.16 321.22,88.16 321.53,88.16 321.83,88.16 322.14,88.16 322.45,88.16 322.75,88.16 323.06,88.16 323.37,88.16 323.67,88.16 323.98,88.16 324.29,88.16 324.59,88.16 324.90,88.16 325.21,88.16 325.51,88.17 325.82,88.17 326.13,88.17 326.43,88.17 326.74,88.17 327.05,88.17 327.35,88.18 327.66,88.18 327.96,88.18 328.27,88.19 328.58,88.20 328.88,88.21 329.19,88.22 329.50,88.23 329.80,88.25 330.11,88.27 330.42,88.30 330.72,88.33 331.03,88.37 331.34,88.42 331.64,88.49 331.95,88.56 332.26,88.66 332.56,88.78 332.87,88.92 333.18,89.09 333.48,89.30 333.79,89.55 334.10,89.84 334.40,90.18 334.71,90.57 335.02,91.02 335.32,91.52 335.63,92.07 335.94,92.66 336.24,93.28 336.55,93.91 336.86,94.56 337.16,95.19 337.47,95.81 337.78,96.39 338.08,96.93 338.39,97.42 338.70,97.87 339.00,98.27 339.31,98.63 339.62,98.96 339.92,99.25 340.23,99.53 340.54,99.80 340.84,100.07 341.15,100.35 341.46,100.65 341.76,100.98 342.07,101.35 342.38,101.76 342.68,102.23 342.99,102.77 343.30,103.37 343.60,104.04 343.91,104.78 344.22,105.60 344.52,106.48 344.83,107.43 345.14,108.42 345.44,109.46 345.75,110.51 346.06,111.57 346.36,112.61 346.67,113.61 346.98,114.54 347.28,115.39 347.59,116.13 347.89,116.74 348.20,117.21 348.51,117.51 348.81,117.65 349.12,117.61 349.43,117.39 349.73,117.00 350.04,116.44 350.35,115.73 350.65,114.86 350.96,113.87 351.27,112.76 351.57,111.56 351.88,110.28 352.19,108.94 352.49,107.57 352.80,106.17 353.11,104.78 353.41,103.39 353.72,102.04 354.03,100.73 354.33,99.48 354.64,98.29 354.95,97.16 355.25,96.12 355.56,95.15 355.87,94.26 356.17,93.46 356.48,92.73 356.79,92.08 357.09,91.50 357.40,90.99 357.71,90.54 358.01,90.15 358.32,89.81 358.63,89.53 358.93,89.28 359.24,89.08 359.55,88.90 359.85,88.76 360.16,88.64 360.47,88.54 360.77,88.46 361.08,88.40 361.39,88.35 361.69,88.31 362.00,88.27 362.31,88.25 362.61,88.23 362.92,88.21 363.23,88.20 363.53,88.19 363.84,88.18 364.15,88.18 364.45,88.17 364.76,88.17 365.07,88.17 365.37,88.17 365.68,88.16 365.99,88.16 366.29,88.16 366.60,88.16 366.91,88.16 367.21,88.16 367.52,88.16 367.82,88.16 368.13,88.16 368.44,88.16 368.74,88.16 369.05,88.16 369.36,88.16 369.66,88.16 369.97,88.16 370.28,88.16 370.58,88.16 370.89,88.16 371.20,88.16 371.50,88.16 371.81,88.16 372.12,88.16 372.42,88.16 372.73,88.16 373.04,88.16 373.34,88.16 373.65,88.16 373.96,88.16 374.26,88.16 374.57,88.16 374.88,88.16 375.18,88.16 375.49,88.16 375.80,88.16 376.10,88.16 376.41,88.16 376.72,88.16 377.02,88.16 377.33,88.16 377.64,88.16 377.94,88.16 378.25,88.16 378.56,88.16 378.86,88.16 379.17,88.16 379.48,88.16 379.78,88.16 380.09,88.16 380.40,88.16 380.70,88.16 381.01,88.16 381.32,88.16 381.62,88.16 381.93,88.16 382.24,88.16 382.54,88.17 382.85,88.17 383.16,88.17 383.46,88.17 383.77,88.17 384.08,88.17 384.38,88.17 384.69,88.17 385.00,88.17 385.30,88.17 385.61,88.18 385.92,88.18 386.22,88.18 386.53,88.18 386.84,88.18 387.14,88.19 387.45,88.19 387.75,88.19 388.06,88.19 388.37,88.20 388.67,88.20 388.98,88.21 389.29,88.21 389.59,88.22 389.90,88.22 390.21,88.23 390.51,88.23 390.82,88.24 391.13,88.25 391.43,88.26 391.74,88.27 392.05,88.28 392.35,88.29 392.66,88.30 392.97,88.31 393.27,88.32 393.58,88.33 393.89,88.35 394.19,88.36 394.50,88.38 394.81,88.40 395.11,88.42 395.42,88.44 395.73,88.46 396.03,88.49 396.34,88.51 396.65,88.54 396.95,88.57 397.26,88.61 397.57,88.65 397.87,88.69 398.18,88.74 398.49,88.79 398.79,88.85 399.10,88.92 399.41,88.99 399.71,89.08 400.02,89.17 400.33,89.28 400.63,89.40 400.94,89.53 401.25,89.68 401.55,89.85 401.86,90.03 402.17,90.23 402.47,90.45 402.78,90.69 403.09,90.95 403.39,91.23 403.70,91.53 404.01,91.85 404.31,92.19 404.62,92.54 404.93,92.91 405.23,93.28 405.54,93.67 405.85,94.05 406.15,94.44 406.46,94.82 406.77,95.19 407.07,95.54 407.38,95.88 407.68,96.19 407.99,96.48 408.30,96.72 408.60,96.94 408.91,97.11 409.22,97.23 409.52,97.31 409.83,97.35 410.14,97.33 410.44,97.27 410.75,97.16 411.06,97.01 411.36,96.81 411.67,96.58 411.98,96.31 412.28,96.01 412.59,95.68 412.90,95.33 413.20,94.97 413.51,94.59 413.82,94.21 414.12,93.82 414.43,93.44 414.74,93.06 415.04,92.69 415.35,92.33 415.66,91.99 415.96,91.66 416.27,91.35 416.58,91.06 416.88,90.79 417.19,90.55 417.50,90.32 417.80,90.11 418.11,89.92 418.42,89.75 418.72,89.59 419.03,89.45 419.34,89.33 419.64,89.21 419.95,89.12 420.26,89.03 420.56,88.95 420.87,88.88 421.18,88.81 421.48,88.76 421.79,88.71 422.10,88.66 422.40,88.62 422.71,88.59 423.02,88.55 423.32,88.52 423.63,88.50 423.94,88.47 424.24,88.45 424.55,88.43 424.86,88.41 425.16,88.39 425.47,88.37 425.78,88.35 426.08,88.34 426.39,88.33 426.70,88.31 427.00,88.30 427.31,88.29 427.61,88.28 427.92,88.27 428.23,88.26 428.53,88.25 428.84,88.24 429.15,88.24 429.45,88.23 429.76,88.22 430.07,88.22 430.37,88.21 430.68,88.21 430.99,88.20 431.29,88.20 431.60,88.20 431.91,88.19 432.21,88.19 432.52,88.19 432.83,88.18 433.13,88.18 433.44,88.18 433.75,88.18 434.05,88.18 434.36,88.17 434.67,88.17 434.97,88.17 435.28,88.17 435.59,88.17 435.89,88.17 436.20,88.17 436.51,88.17 436.81,88.17 437.12,88.17 437.43,88.17 437.73,88.16 438.04,88.16 438.35,88.16 438.65,88.16 438.96,88.16 439.27,88.16 439.57,88.16 439.88,88.16 440.19,88.16 440.49,88.16 440.80,88.16 441.11,88.16 441.41,88.16 441.72,88.16 442.03,88.16 442.33,88.16 442.64,88.16 442.95,88.16 443.25,88.16 443.56,88.16 443.87,88.16 444.17,88.16 444.48,88.16 444.79,88.16 445.09,88.16 445.40,88.16 445.71,88.16 446.01,88.16 446.32,88.16 446.63,88.16 446.93,88.16 447.24,88.16 447.54,88.16 447.85,88.16 448.16,88.16 448.46,88.16 448.77,88.16 449.08,88.16 449.38,88.16 449.69,88.16 450.00,88.16 450.30,88.16 450.61,88.16 450.92,88.16 451.22,88.16 451.53,88.16 451.84,88.16 452.14,88.16 452.45,88.16 452.76,88.16 453.06,88.16 453.37,88.16 453.68,88.16 453.98,88.16 454.29,88.16 454.60,88.16 454.90,88.16 455.21,88.16 455.52,88.16 455.82,88.16 456.13,88.16 456.44,88.16 456.74,88.16 457.05,88.16" fill="none" stroke="#E69F00" stroke-width="1.6" stroke-linejoin="round"/>
<line x1="347.45" y1="136.07" x2="362.85" y2="136.07" stroke="#E69F00" stroke-width="2.0" />
<polyline points="257.75,157.43 258.06,157.43 258.36,157.43 258.67,157.43 258.98,157.43 259.28,157.43 259.59,157.44 259.90,157.44 260.20,157.44 260.51,157.44 260.82,157.44 261.12,157.45 261.43,157.45 261.74,157.46 262.04,157.47 262.35,157.48 262.66,157.49 262.96,157.51 263.27,157.54 263.58,157.58 263.88,157.62 264.19,157.69 264.50,157.77 264.80,157.87 265.11,158.00 265.42,158.17 265.72,158.38 266.03,158.64 266.34,158.96 266.64,159.33 266.95,159.76 267.26,160.25 267.56,160.77 267.87,161.32 268.17,161.88 268.48,162.42 268.79,162.94 269.09,163.41 269.40,163.83 269.71,164.20 270.01,164.52 270.32,164.78 270.63,165.01 270.93,165.21 271.24,165.38 271.55,165.54 271.85,165.69 272.16,165.83 272.47,165.97 272.77,166.13 273.08,166.29 273.39,166.46 273.69,166.65 274.00,166.86 274.31,167.08 274.61,167.31 274.92,167.57 275.23,167.83 275.53,168.11 275.84,168.40 276.15,168.69 276.45,168.98 276.76,169.27 277.07,169.55 277.37,169.81 277.68,170.06 277.99,170.28 278.29,170.47 278.60,170.62 278.91,170.74 279.21,170.82 279.52,170.85 279.83,170.83 280.13,170.77 280.44,170.65 280.75,170.48 281.05,170.26 281.36,169.99 281.67,169.69 281.97,169.34 282.28,168.95 282.59,168.53 282.89,168.09 283.20,167.62 283.51,167.13 283.81,166.63 284.12,166.12 284.43,165.60 284.73,165.09 285.04,164.58 285.35,164.07 285.65,163.58 285.96,163.10 286.27,162.64 286.57,162.19 286.88,161.77 287.19,161.37 287.49,160.99 287.80,160.63 288.10,160.30 288.41,159.99 288.72,159.71 289.02,159.45 289.33,159.21 289.64,158.99 289.94,158.80 290.25,158.62 290.56,158.47 290.86,158.33 291.17,158.20 291.48,158.09 291.78,158.00 292.09,157.91 292.40,157.84 292.70,157.77 293.01,157.72 293.32,157.67 293.62,157.63 293.93,157.60 294.24,157.57 294.54,157.55 294.85,157.53 295.16,157.51 295.46,157.49 295.77,157.48 296.08,157.47 296.38,157.46 296.69,157.46 297.00,157.45 297.30,157.45 297.61,157.44 297.92,157.44 298.22,157.44 298.53,157.44 298.84,157.44 299.14,157.44 299.45,157.43 299.76,157.43 300.06,157.43 300.37,157.43 300.68,157.43 300.98,157.43 301.29,157.43 301.60,157.43 301.90,157.43 302.21,157.43 302.52,157.43 302.82,157.43 303.13,157.43 303.44,157.43 303.74,157.43 304.05,157.43 304.36,157.43 304.66,157.43 304.97,157.43 305.28,157.43 305.58,157.43 305.89,157.43 306.20,157.43 306.50,157.43 306.81,157.43 307.12,157.43 307.42,157.43 307.73,157.43 308.03,157.43 308.34,157.43 308.65,157.43 308.95,157.43 309.26,157.43 309.57,157.43 309.87,157.43 310.18,157.43 310.49,157.43 310.79,157.43 311.10,157.43 311.41,157.43 311.71,157.43 312.02,157.43 312.33,157.43 312.63,157.43 312.94,157.43 313.25,157.43 313.55,157.43 313.86,157.43 314.17,157.43 314.47,157.43 314.78,157.43 315.09,157.43 315.39,157.43 315.70,157.43 316.01,157.43 316.31,157.43 316.62,157.43 316.93,157.43 317.23,157.43 317.54,157.43 317.85,157.43 318.15,157.43 318.46,157.43 318.77,157.43 319.07,157.43 319.38,157.43 319.69,157.43 319.99,157.43 320.30,157.43 320.61,157.43 320.91,157.43 321.22,157.43 321.53,157.43 321.83,157.43 322.14,157.43 322.45,157.43 322.75,157.43 323.06,157.43 323.37,157.43 323.67,157.43 323.98,157.43 324.29,157.43 324.59,157.43 324.90,157.43 325.21,157.43 325.51,157.43 325.82,157.43 326.13,157.44 326.43,157.44 326.74,157.44 327.05,157.44 327.35,157.44 327.66,157.44 327.96,157.45 328.27,157.45 328.58,157.46 328.88,157.46 329.19,157.47 329.50,157.48 329.80,157.49 330.11,157.51 330.42,157.53 330.72,157.55 331.03,157.58 331.34,157.61 331.64,157.66 331.95,157.71 332.26,157.78 332.56,157.86 332.87,157.95 333.18,158.07 333.48,158.22 333.79,158.39 334.10,158.59 334.40,158.82 334.71,159.09 335.02,159.40 335.32,159.74 335.63,160.12 335.94,160.53 336.24,160.95 336.55,161.39 336.86,161.84 337.16,162.27 337.47,162.70 337.78,163.10 338.08,163.47 338.39,163.81 338.70,164.12 339.00,164.39 339.31,164.64 339.62,164.86 339.92,165.07 340.23,165.26 340.54,165.45 340.84,165.63 341.15,165.82 341.46,166.03 341.76,166.26 342.07,166.51 342.38,166.80 342.68,167.12 342.99,167.49 343.30,167.90 343.60,168.36 343.91,168.87 344.22,169.44 344.52,170.05 344.83,170.70 345.14,171.38 345.44,172.09 345.75,172.82 346.06,173.55 346.36,174.26 346.67,174.95 346.98,175.60 347.28,176.18 347.59,176.69 347.89,177.11 348.20,177.43 348.51,177.64 348.81,177.73 349.12,177.71 349.43,177.56 349.73,177.29 350.04,176.90 350.35,176.41 350.65,175.82 350.96,175.13 351.27,174.37 351.57,173.54 351.88,172.66 352.19,171.74 352.49,170.79 352.80,169.83 353.11,168.87 353.41,167.92 353.72,166.99 354.03,166.09 354.33,165.22 354.64,164.40 354.95,163.63 355.25,162.91 355.56,162.24 355.87,161.63 356.17,161.08 356.48,160.58 356.79,160.13 357.09,159.73 357.40,159.38 357.71,159.07 358.01,158.80 358.32,158.57 358.63,158.37 358.93,158.20 359.24,158.06 359.55,157.94 359.85,157.84 360.16,157.76 360.47,157.69 360.77,157.64 361.08,157.60 361.39,157.56 361.69,157.53 362.00,157.51 362.31,157.49 362.61,157.48 362.92,157.47 363.23,157.46 363.53,157.45 363.84,157.45 364.15,157.44 364.45,157.44 364.76,157.44 365.07,157.44 365.37,157.43 365.68,157.43 365.99,157.43 366.29,157.43 366.60,157.43 366.91,157.43 367.21,157.43 367.52,157.43 367.82,157.43 368.13,157.43 368.44,157.43 368.74,157.43 369.05,157.43 369.36,157.43 369.66,157.43 369.97,157.43 370.28,157.43 370.58,157.43 370.89,157.43 371.20,157.43 371.50,157.43 371.81,157.43 372.12,157.43 372.42,157.43 372.73,157.43 373.04,157.43 373.34,157.43 373.65,157.43 373.96,157.43 374.26,157.43 374.57,157.43 374.88,157.43 375.18,157.43 375.49,157.43 375.80,157.43 376.10,157.43 376.41,157.43 376.72,157.43 377.02,157.43 377.33,157.43 377.64,157.43 377.94,157.43 378.25,157.43 378.56,157.43 378.86,157.43 379.17,157.43 379.48,157.43 379.78,157.43 380.09,157.43 380.40,157.43 380.70,157.43 381.01,157.43 381.32,157.43 381.62,157.43 381.93,157.43 382.24,157.43 382.54,157.43 382.85,157.43 383.16,157.43 383.46,157.44 383.77,157.44 384.08,157.44 384.38,157.44 384.69,157.44 385.00,157.44 385.30,157.44 385.61,157.44 385.92,157.44 386.22,157.44 386.53,157.44 386.84,157.45 387.14,157.45 387.45,157.45 387.75,157.45 388.06,157.45 388.37,157.46 388.67,157.46 388.98,157.46 389.29,157.46 389.59,157.47 389.90,157.47 390.21,157.47 390.51,157.48 390.82,157.48 391.13,157.49 391.43,157.49 391.74,157.50 392.05,157.51 392.35,157.51 392.66,157.52 392.97,157.53 393.27,157.54 393.58,157.54 393.89,157.55 394.19,157.56 394.50,157.58 394.81,157.59 395.11,157.60 395.42,157.61 395.73,157.63 396.03,157.64 396.34,157.66 396.65,157.68 396.95,157.70 397.26,157.72 397.57,157.75 397.87,157.78 398.18,157.81 398.49,157.84 398.79,157.88 399.10,157.93 399.41,157.98 399.71,158.03 400.02,158.09 400.33,158.16 400.63,158.24 400.94,158.33 401.25,158.43 401.55,158.54 401.86,158.65 402.17,158.79 402.47,158.93 402.78,159.09 403.09,159.26 403.39,159.44 403.70,159.64 404.01,159.85 404.31,160.07 404.62,160.30 404.93,160.54 405.23,160.78 405.54,161.04 405.85,161.29 406.15,161.54 406.46,161.79 406.77,162.03 407.07,162.27 407.38,162.49 407.68,162.69 407.99,162.88 408.30,163.04 408.60,163.18 408.91,163.29 409.22,163.37 409.52,163.42 409.83,163.45 410.14,163.44 410.44,163.40 410.75,163.33 411.06,163.22 411.36,163.10 411.67,162.94 411.98,162.77 412.28,162.57 412.59,162.36 412.90,162.13 413.20,161.89 413.51,161.64 413.82,161.39 414.12,161.14 414.43,160.88 414.74,160.64 415.04,160.39 415.35,160.16 415.66,159.94 415.96,159.72 416.27,159.52 416.58,159.33 416.88,159.16 417.19,158.99 417.50,158.84 417.80,158.71 418.11,158.58 418.42,158.47 418.72,158.37 419.03,158.28 419.34,158.19 419.64,158.12 419.95,158.06 420.26,158.00 420.56,157.95 420.87,157.90 421.18,157.86 421.48,157.82 421.79,157.79 422.10,157.76 422.40,157.73 422.71,157.71 423.02,157.69 423.32,157.67 423.63,157.65 423.94,157.63 424.24,157.62 424.55,157.60 424.86,157.59 425.16,157.58 425.47,157.57 425.78,157.56 426.08,157.55 426.39,157.54 426.70,157.53 427.00,157.52 427.31,157.52 427.61,157.51 427.92,157.50 428.23,157.50 428.53,157.49 428.84,157.49 429.15,157.48 429.45,157.48 429.76,157.47 430.07,157.47 430.37,157.47 430.68,157.46 430.99,157.46 431.29,157.46 431.60,157.45 431.91,157.45 432.21,157.45 432.52,157.45 432.83,157.45 433.13,157.44 433.44,157.44 433.75,157.44 434.05,157.44 434.36,157.44 434.67,157.44 434.97,157.44 435.28,157.44 435.59,157.44 435.89,157.44 436.20,157.44 436.51,157.44 436.81,157.43 437.12,157.43 437.43,157.43 437.73,157.43 438.04,157.43 438.35,157.43 438.65,157.43 438.96,157.43 439.27,157.43 439.57,157.43 439.88,157.43 440.19,157.43 440.49,157.43 440.80,157.43 441.11,157.43 441.41,157.43 441.72,157.43 442.03,157.43 442.33,157.43 442.64,157.43 442.95,157.43 443.25,157.43 443.56,157.43 443.87,157.43 444.17,157.43 444.48,157.43 444.79,157.43 445.09,157.43 445.40,157.43 445.71,157.43 446.01,157.43 446.32,157.43 446.63,157.43 446.93,157.43 447.24,157.43 447.54,157.43 447.85,157.43 448.16,157.43 448.46,157.43 448.77,157.43 449.08,157.43 449.38,157.43 449.69,157.43 450.00,157.43 450.30,157.43 450.61,157.43 450.92,157.43 451.22,157.43 451.53,157.43 451.84,157.43 452.14,157.43 452.45,157.43 452.76,157.43 453.06,157.43 453.37,157.43 453.68,157.43 453.98,157.43 454.29,157.43 454.60,157.43 454.90,157.43 455.21,157.43 455.52,157.43 455.82,157.43 456.13,157.43 456.44,157.43 456.74,157.43 457.05,157.43" fill="none" stroke="#CC79A7" stroke-width="1.6" stroke-linejoin="round"/>
<line x1="347.45" y1="205.34" x2="362.85" y2="205.34" stroke="#CC79A7" stroke-width="2.0" />
<polyline points="257.75,226.70 258.06,226.70 258.36,226.70 258.67,226.70 258.98,226.70 259.28,226.70 259.59,226.70 259.90,226.71 260.20,226.71 260.51,226.71 260.82,226.71 261.12,226.71 261.43,226.72 261.74,226.73 262.04,226.73 262.35,226.74 262.66,226.76 262.96,226.77 263.27,226.80 263.58,226.83 263.88,226.87 264.19,226.93 264.50,227.00 264.80,227.09 265.11,227.20 265.42,227.35 265.72,227.54 266.03,227.77 266.34,228.05 266.64,228.38 266.95,228.76 267.26,229.18 267.56,229.64 267.87,230.13 268.17,230.62 268.48,231.10 268.79,231.55 269.09,231.97 269.40,232.34 269.71,232.66 270.01,232.94 270.32,233.17 270.63,233.38 270.93,233.55 271.24,233.70 271.55,233.84 271.85,233.97 272.16,234.09 272.47,234.22 272.77,234.36 273.08,234.50 273.39,234.65 273.69,234.82 274.00,235.00 274.31,235.19 274.61,235.40 274.92,235.63 275.23,235.86 275.53,236.11 275.84,236.36 276.15,236.61 276.45,236.87 276.76,237.13 277.07,237.37 277.37,237.60 277.68,237.82 277.99,238.01 278.29,238.18 278.60,238.32 278.91,238.42 279.21,238.49 279.52,238.51 279.83,238.50 280.13,238.44 280.44,238.34 280.75,238.19 281.05,238.00 281.36,237.76 281.67,237.49 281.97,237.18 282.28,236.84 282.59,236.47 282.89,236.08 283.20,235.67 283.51,235.24 283.81,234.80 284.12,234.35 284.43,233.90 284.73,233.44 285.04,232.99 285.35,232.55 285.65,232.11 285.96,231.69 286.27,231.28 286.57,230.89 286.88,230.52 287.19,230.17 287.49,229.83 287.80,229.52 288.10,229.23 288.41,228.96 288.72,228.71 289.02,228.48 289.33,228.27 289.64,228.08 289.94,227.91 290.25,227.75 290.56,227.61 290.86,227.49 291.17,227.38 291.48,227.28 291.78,227.20 292.09,227.12 292.40,227.06 292.70,227.00 293.01,226.96 293.32,226.91 293.62,226.88 293.93,226.85 294.24,226.82 294.54,226.80 294.85,226.78 295.16,226.77 295.46,226.76 295.77,226.75 296.08,226.74 296.38,226.73 296.69,226.72 297.00,226.72 297.30,226.72 297.61,226.71 297.92,226.71 298.22,226.71 298.53,226.71 298.84,226.71 299.14,226.70 299.45,226.70 299.76,226.70 300.06,226.70 300.37,226.70 300.68,226.70 300.98,226.70 301.29,226.70 301.60,226.70 301.90,226.70 302.21,226.70 302.52,226.70 302.82,226.70 303.13,226.70 303.44,226.70 303.74,226.70 304.05,226.70 304.36,226.70 304.66,226.70 304.97,226.70 305.28,226.70 305.58,226.70 305.89,226.70 306.20,226.70 306.50,226.70 306.81,226.70 307.12,226.70 307.42,226.70 307.73,226.70 308.03,226.70 308.34,226.70 308.65,226.70 308.95,226.70 309.26,226.70 309.57,226.70 309.87,226.70 310.18,226.70 310.49,226.70 310.79,226.70 311.10,226.70 311.41,226.70 311.71,226.70 312.02,226.70 312.33,226.70 312.63,226.70 312.94,226.70 313.25,226.70 313.55,226.70 313.86,226.70 314.17,226.70 314.47,226.70 314.78,226.70 315.09,226.70 315.39,226.70 315.70,226.70 316.01,226.70 316.31,226.70 316.62,226.70 316.93,226.70 317.23,226.70 317.54,226.70 317.85,226.70 318.15,226.70 318.46,226.70 318.77,226.70 319.07,226.70 319.38,226.70 319.69,226.70 319.99,226.70 320.30,226.70 320.61,226.70 320.91,226.70 321.22,226.70 321.53,226.70 321.83,226.70 322.14,226.70 322.45,226.70 322.75,226.70 323.06,226.70 323.37,226.70 323.67,226.70 323.98,226.70 324.29,226.70 324.59,226.70 324.90,226.70 325.21,226.70 325.51,226.70 325.82,226.70 326.13,226.71 326.43,226.71 326.74,226.71 327.05,226.71 327.35,226.71 327.66,226.71 327.96,226.71 328.27,226.72 328.58,226.72 328.88,226.73 329.19,226.73 329.50,226.74 329.80,226.75 330.11,226.76 330.42,226.78 330.72,226.80 331.03,226.82 331.34,226.85 331.64,226.89 331.95,226.93 332.26,226.99 332.56,227.06 332.87,227.14 333.18,227.24 333.48,227.36 333.79,227.50 334.10,227.67 334.40,227.86 334.71,228.09 335.02,228.35 335.32,228.64 335.63,228.95 335.94,229.29 336.24,229.65 336.55,230.02 336.86,230.39 337.16,230.75 337.47,231.11 337.78,231.44 338.08,231.75 338.39,232.04 338.70,232.29 339.00,232.52 339.31,232.73 339.62,232.92 339.92,233.09 340.23,233.25 340.54,233.41 340.84,233.56 341.15,233.72 341.46,233.90 341.76,234.09 342.07,234.30 342.38,234.54 342.68,234.81 342.99,235.11 343.30,235.46 343.60,235.85 343.91,236.28 344.22,236.75 344.52,237.25 344.83,237.80 345.14,238.37 345.44,238.97 345.75,239.58 346.06,240.19 346.36,240.78 346.67,241.36 346.98,241.90 347.28,242.39 347.59,242.81 347.89,243.16 348.20,243.43 348.51,243.61 348.81,243.69 349.12,243.66 349.43,243.54 349.73,243.31 350.04,242.99 350.35,242.58 350.65,242.08 350.96,241.51 351.27,240.87 351.57,240.18 351.88,239.44 352.19,238.67 352.49,237.88 352.80,237.08 353.11,236.27 353.41,235.48 353.72,234.70 354.03,233.94 354.33,233.22 354.64,232.53 354.95,231.89 355.25,231.29 355.56,230.73 355.87,230.22 356.17,229.75 356.48,229.33 356.79,228.96 357.09,228.62 357.40,228.33 357.71,228.07 358.01,227.85 358.32,227.65 358.63,227.49 358.93,227.35 359.24,227.23 359.55,227.13 359.85,227.05 360.16,226.98 360.47,226.92 360.77,226.88 361.08,226.84 361.39,226.81 361.69,226.79 362.00,226.77 362.31,226.75 362.61,226.74 362.92,226.73 363.23,226.72 363.53,226.72 363.84,226.71 364.15,226.71 364.45,226.71 364.76,226.71 365.07,226.71 365.37,226.70 365.68,226.70 365.99,226.70 366.29,226.70 366.60,226.70 366.91,226.70 367.21,226.70 367.52,226.70 367.82,226.70 368.13,226.70 368.44,226.70 368.74,226.70 369.05,226.70 369.36,226.70 369.66,226.70 369.97,226.70 370.28,226.70 370.58,226.70 370.89,226.70 371.20,226.70 371.50,226.70 371.81,226.70 372.12,226.70 372.42,226.70 372.73,226.70 373.04,226.70 373.34,226.70 373.65,226.70 373.96,226.70 374.26,226.70 374.57,226.70 374.88,226.70 375.18,226.70 375.49,226.70 375.80,226.70 376.10,226.70 376.41,226.70 376.72,226.70 377.02,226.70 377.33,226.70 377.64,226.70 377.94,226.70 378.25,226.70 378.56,226.70 378.86,226.70 379.17,226.70 379.48,226.70 379.78,226.70 380.09,226.70 380.40,226.70 380.70,226.70 381.01,226.70 381.32,226.70 381.62,226.70 381.93,226.70 382.24,226.70 382.54,226.70 382.85,226.70 383.16,226.70 383.46,226.70 383.77,226.70 384.08,226.71 384.38,226.71 384.69,226.71 385.00,226.71 385.30,226.71 385.61,226.71 385.92,226.71 386.22,226.71 386.53,226.71 386.84,226.71 387.14,226.71 387.45,226.72 387.75,226.72 388.06,226.72 388.37,226.72 388.67,226.72 388.98,226.72 389.29,226.73 389.59,226.73 389.90,226.73 390.21,226.74 390.51,226.74 390.82,226.74 391.13,226.75 391.43,226.75 391.74,226.76 392.05,226.76 392.35,226.77 392.66,226.77 392.97,226.78 393.27,226.78 393.58,226.79 393.89,226.80 394.19,226.81 394.50,226.82 394.81,226.83 395.11,226.84 395.42,226.85 395.73,226.86 396.03,226.87 396.34,226.89 396.65,226.90 396.95,226.92 397.26,226.94 397.57,226.96 397.87,226.98 398.18,227.00 398.49,227.03 398.79,227.06 399.10,227.10 399.41,227.14 399.71,227.18 400.02,227.23 400.33,227.29 400.63,227.35 400.94,227.42 401.25,227.50 401.55,227.58 401.86,227.68 402.17,227.79 402.47,227.90 402.78,228.03 403.09,228.16 403.39,228.31 403.70,228.47 404.01,228.64 404.31,228.81 404.62,229.00 404.93,229.19 405.23,229.38 405.54,229.58 405.85,229.79 406.15,229.99 406.46,230.19 406.77,230.38 407.07,230.57 407.38,230.75 407.68,230.91 407.99,231.06 408.30,231.19 408.60,231.30 408.91,231.39 409.22,231.45 409.52,231.50 409.83,231.51 410.14,231.51 410.44,231.47 410.75,231.42 411.06,231.34 411.36,231.23 411.67,231.11 411.98,230.97 412.28,230.81 412.59,230.64 412.90,230.46 413.20,230.27 413.51,230.07 413.82,229.87 414.12,229.67 414.43,229.46 414.74,229.27 415.04,229.07 415.35,228.88 415.66,228.70 415.96,228.53 416.27,228.37 416.58,228.22 416.88,228.08 417.19,227.95 417.50,227.83 417.80,227.72 418.11,227.62 418.42,227.53 418.72,227.45 419.03,227.38 419.34,227.31 419.64,227.25 419.95,227.20 420.26,227.15 420.56,227.11 420.87,227.08 421.18,227.04 421.48,227.01 421.79,226.99 422.10,226.96 422.40,226.94 422.71,226.92 423.02,226.91 423.32,226.89 423.63,226.88 423.94,226.86 424.24,226.85 424.55,226.84 424.86,226.83 425.16,226.82 425.47,226.81 425.78,226.80 426.08,226.79 426.39,226.79 426.70,226.78 427.00,226.77 427.31,226.77 427.61,226.76 427.92,226.76 428.23,226.75 428.53,226.75 428.84,226.74 429.15,226.74 429.45,226.74 429.76,226.73 430.07,226.73 430.37,226.73 430.68,226.73 430.99,226.72 431.29,226.72 431.60,226.72 431.91,226.72 432.21,226.72 432.52,226.71 432.83,226.71 433.13,226.71 433.44,226.71 433.75,226.71 434.05,226.71 434.36,226.71 434.67,226.71 434.97,226.71 435.28,226.71 435.59,226.71 435.89,226.71 436.20,226.70 436.51,226.70 436.81,226.70 437.12,226.70 437.43,226.70 437.73,226.70 438.04,226.70 438.35,226.70 438.65,226.70 438.96,226.70 439.27,226.70 439.57,226.70 439.88,226.70 440.19,226.70 440.49,226.70 440.80,226.70 441.11,226.70 441.41,226.70 441.72,226.70 442.03,226.70 442.33,226.70 442.64,226.70 442.95,226.70 443.25,226.70 443.56,226.70 443.87,226.70 444.17,226.70 444.48,226.70 444.79,226.70 445.09,226.70 445.40,226.70 445.71,226.70 446.01,226.70 446.32,226.70 446.63,226.70 446.93,226.70 447.24,226.70 447.54,226.70 447.85,226.70 448.16,226.70 448.46,226.70 448.77,226.70 449.08,226.70 449.38,226.70 449.69,226.70 450.00,226.70 450.30,226.70 450.61,226.70 450.92,226.70 451.22,226.70 451.53,226.70 451.84,226.70 452.14,226.70 452.45,226.70 452.76,226.70 453.06,226.70 453.37,226.70 453.68,226.70 453.98,226.70 454.29,226.70 454.60,226.70 454.90,226.70 455.21,226.70 455.52,226.70 455.82,226.70 456.13,226.70 456.44,226.70 456.74,226.70 457.05,226.70" fill="none" stroke="#0072B2" stroke-width="1.6" stroke-linejoin="round"/>
<line x1="347.45" y1="274.61" x2="362.85" y2="274.61" stroke="#0072B2" stroke-width="2.0" />
<line x1="257.75" y1="18.89" x2="261.35" y2="18.89" stroke="#000000" stroke-width="1.6" />
<line x1="457.05" y1="18.89" x2="453.45" y2="18.89" stroke="#000000" stroke-width="1.6" />
<text transform="translate(254.45,22.79) scale(1,1.06)" text-anchor="end" font-size="9.3" >0</text>
<line x1="257.75" y1="37.12" x2="261.35" y2="37.12" stroke="#000000" stroke-width="1.6" />
<line x1="457.05" y1="37.12" x2="453.45" y2="37.12" stroke="#000000" stroke-width="1.6" />
<text transform="translate(254.45,41.02) scale(1,1.06)" text-anchor="end" font-size="9.3" >−5</text>
<line x1="257.75" y1="55.35" x2="261.35" y2="55.35" stroke="#000000" stroke-width="1.6" />
<line x1="457.05" y1="55.35" x2="453.45" y2="55.35" stroke="#000000" stroke-width="1.6" />
<text transform="translate(254.45,59.25) scale(1,1.06)" text-anchor="end" font-size="9.3" >−10</text>
<line x1="257.75" y1="73.58" x2="261.35" y2="73.58" stroke="#000000" stroke-width="1.6" />
<line x1="457.05" y1="73.58" x2="453.45" y2="73.58" stroke="#000000" stroke-width="1.6" />
<text transform="translate(254.45,77.48) scale(1,1.06)" text-anchor="end" font-size="9.3" >−15</text>
<line x1="257.75" y1="28.01" x2="259.75" y2="28.01" stroke="#000000" stroke-width="1.6" />
<line x1="457.05" y1="28.01" x2="455.05" y2="28.01" stroke="#000000" stroke-width="1.6" />
<line x1="257.75" y1="46.23" x2="259.75" y2="46.23" stroke="#000000" stroke-width="1.6" />
<line x1="457.05" y1="46.23" x2="455.05" y2="46.23" stroke="#000000" stroke-width="1.6" />
<line x1="257.75" y1="64.46" x2="259.75" y2="64.46" stroke="#000000" stroke-width="1.6" />
<line x1="457.05" y1="64.46" x2="455.05" y2="64.46" stroke="#000000" stroke-width="1.6" />
<line x1="257.75" y1="88.16" x2="261.35" y2="88.16" stroke="#000000" stroke-width="1.6" />
<line x1="457.05" y1="88.16" x2="453.45" y2="88.16" stroke="#000000" stroke-width="1.6" />
<text transform="translate(254.45,92.06) scale(1,1.06)" text-anchor="end" font-size="9.3" >0</text>
<line x1="257.75" y1="106.39" x2="261.35" y2="106.39" stroke="#000000" stroke-width="1.6" />
<line x1="457.05" y1="106.39" x2="453.45" y2="106.39" stroke="#000000" stroke-width="1.6" />
<text transform="translate(254.45,110.29) scale(1,1.06)" text-anchor="end" font-size="9.3" >−5</text>
<line x1="257.75" y1="124.62" x2="261.35" y2="124.62" stroke="#000000" stroke-width="1.6" />
<line x1="457.05" y1="124.62" x2="453.45" y2="124.62" stroke="#000000" stroke-width="1.6" />
<text transform="translate(254.45,128.52) scale(1,1.06)" text-anchor="end" font-size="9.3" >−10</text>
<line x1="257.75" y1="142.85" x2="261.35" y2="142.85" stroke="#000000" stroke-width="1.6" />
<line x1="457.05" y1="142.85" x2="453.45" y2="142.85" stroke="#000000" stroke-width="1.6" />
<text transform="translate(254.45,146.75) scale(1,1.06)" text-anchor="end" font-size="9.3" >−15</text>
<line x1="257.75" y1="97.28" x2="259.75" y2="97.28" stroke="#000000" stroke-width="1.6" />
<line x1="457.05" y1="97.28" x2="455.05" y2="97.28" stroke="#000000" stroke-width="1.6" />
<line x1="257.75" y1="115.50" x2="259.75" y2="115.50" stroke="#000000" stroke-width="1.6" />
<line x1="457.05" y1="115.50" x2="455.05" y2="115.50" stroke="#000000" stroke-width="1.6" />
<line x1="257.75" y1="133.73" x2="259.75" y2="133.73" stroke="#000000" stroke-width="1.6" />
<line x1="457.05" y1="133.73" x2="455.05" y2="133.73" stroke="#000000" stroke-width="1.6" />
<line x1="257.75" y1="157.43" x2="261.35" y2="157.43" stroke="#000000" stroke-width="1.6" />
<line x1="457.05" y1="157.43" x2="453.45" y2="157.43" stroke="#000000" stroke-width="1.6" />
<text transform="translate(254.45,161.33) scale(1,1.06)" text-anchor="end" font-size="9.3" >0</text>
<line x1="257.75" y1="175.66" x2="261.35" y2="175.66" stroke="#000000" stroke-width="1.6" />
<line x1="457.05" y1="175.66" x2="453.45" y2="175.66" stroke="#000000" stroke-width="1.6" />
<text transform="translate(254.45,179.56) scale(1,1.06)" text-anchor="end" font-size="9.3" >−5</text>
<line x1="257.75" y1="193.89" x2="261.35" y2="193.89" stroke="#000000" stroke-width="1.6" />
<line x1="457.05" y1="193.89" x2="453.45" y2="193.89" stroke="#000000" stroke-width="1.6" />
<text transform="translate(254.45,197.79) scale(1,1.06)" text-anchor="end" font-size="9.3" >−10</text>
<line x1="257.75" y1="212.12" x2="261.35" y2="212.12" stroke="#000000" stroke-width="1.6" />
<line x1="457.05" y1="212.12" x2="453.45" y2="212.12" stroke="#000000" stroke-width="1.6" />
<text transform="translate(254.45,216.02) scale(1,1.06)" text-anchor="end" font-size="9.3" >−15</text>
<line x1="257.75" y1="166.55" x2="259.75" y2="166.55" stroke="#000000" stroke-width="1.6" />
<line x1="457.05" y1="166.55" x2="455.05" y2="166.55" stroke="#000000" stroke-width="1.6" />
<line x1="257.75" y1="184.77" x2="259.75" y2="184.77" stroke="#000000" stroke-width="1.6" />
<line x1="457.05" y1="184.77" x2="455.05" y2="184.77" stroke="#000000" stroke-width="1.6" />
<line x1="257.75" y1="203.00" x2="259.75" y2="203.00" stroke="#000000" stroke-width="1.6" />
<line x1="457.05" y1="203.00" x2="455.05" y2="203.00" stroke="#000000" stroke-width="1.6" />
<line x1="257.75" y1="226.70" x2="261.35" y2="226.70" stroke="#000000" stroke-width="1.6" />
<line x1="457.05" y1="226.70" x2="453.45" y2="226.70" stroke="#000000" stroke-width="1.6" />
<text transform="translate(254.45,230.60) scale(1,1.06)" text-anchor="end" font-size="9.3" >0</text>
<line x1="257.75" y1="244.93" x2="261.35" y2="244.93" stroke="#000000" stroke-width="1.6" />
<line x1="457.05" y1="244.93" x2="453.45" y2="244.93" stroke="#000000" stroke-width="1.6" />
<text transform="translate(254.45,248.83) scale(1,1.06)" text-anchor="end" font-size="9.3" >−5</text>
<line x1="257.75" y1="263.16" x2="261.35" y2="263.16" stroke="#000000" stroke-width="1.6" />
<line x1="457.05" y1="263.16" x2="453.45" y2="263.16" stroke="#000000" stroke-width="1.6" />
<text transform="translate(254.45,267.06) scale(1,1.06)" text-anchor="end" font-size="9.3" >−10</text>
<line x1="257.75" y1="281.39" x2="261.35" y2="281.39" stroke="#000000" stroke-width="1.6" />
<line x1="457.05" y1="281.39" x2="453.45" y2="281.39" stroke="#000000" stroke-width="1.6" />
<text transform="translate(254.45,285.29) scale(1,1.06)" text-anchor="end" font-size="9.3" >−15</text>
<line x1="257.75" y1="235.82" x2="259.75" y2="235.82" stroke="#000000" stroke-width="1.6" />
<line x1="457.05" y1="235.82" x2="455.05" y2="235.82" stroke="#000000" stroke-width="1.6" />
<line x1="257.75" y1="254.04" x2="259.75" y2="254.04" stroke="#000000" stroke-width="1.6" />
<line x1="457.05" y1="254.04" x2="455.05" y2="254.04" stroke="#000000" stroke-width="1.6" />
<line x1="257.75" y1="272.27" x2="259.75" y2="272.27" stroke="#000000" stroke-width="1.6" />
<line x1="457.05" y1="272.27" x2="455.05" y2="272.27" stroke="#000000" stroke-width="1.6" />
<line x1="288.41" y1="11.60" x2="288.41" y2="13.60" stroke="#000000" stroke-width="1.6" />
<line x1="288.41" y1="288.68" x2="288.41" y2="286.68" stroke="#000000" stroke-width="1.6" />
<line x1="319.07" y1="11.60" x2="319.07" y2="15.20" stroke="#000000" stroke-width="1.6" />
<line x1="319.07" y1="288.68" x2="319.07" y2="285.08" stroke="#000000" stroke-width="1.6" />
<line x1="349.73" y1="11.60" x2="349.73" y2="13.60" stroke="#000000" stroke-width="1.6" />
<line x1="349.73" y1="288.68" x2="349.73" y2="286.68" stroke="#000000" stroke-width="1.6" />
<line x1="380.40" y1="11.60" x2="380.40" y2="15.20" stroke="#000000" stroke-width="1.6" />
<line x1="380.40" y1="288.68" x2="380.40" y2="285.08" stroke="#000000" stroke-width="1.6" />
<line x1="411.06" y1="11.60" x2="411.06" y2="13.60" stroke="#000000" stroke-width="1.6" />
<line x1="411.06" y1="288.68" x2="411.06" y2="286.68" stroke="#000000" stroke-width="1.6" />
<line x1="441.72" y1="11.60" x2="441.72" y2="15.20" stroke="#000000" stroke-width="1.6" />
<line x1="441.72" y1="288.68" x2="441.72" y2="285.08" stroke="#000000" stroke-width="1.6" />
<text transform="translate(257.75,303.40) scale(1,1.06)" text-anchor="middle" font-size="9.3" >600</text>
<text transform="translate(319.07,303.40) scale(1,1.06)" text-anchor="middle" font-size="9.3" >800</text>
<text transform="translate(380.40,303.40) scale(1,1.06)" text-anchor="middle" font-size="9.3" >1000</text>
<text transform="translate(441.72,303.40) scale(1,1.06)" text-anchor="middle" font-size="9.3" >1200</text>
<line x1="257.75" y1="80.87" x2="457.05" y2="80.87" stroke="#000000" stroke-width="1.6" />
<line x1="257.75" y1="150.14" x2="457.05" y2="150.14" stroke="#000000" stroke-width="1.6" />
<line x1="257.75" y1="219.41" x2="457.05" y2="219.41" stroke="#000000" stroke-width="1.6" />
<rect x="257.75" y="11.60" width="199.30" height="277.08" fill="none" stroke="#000000" stroke-width="1.6"/>
<text transform="translate(356.10,316.00) scale(1,1.06)" text-anchor="middle" font-size="9.6" >Frequency (MHz)</text>
<text transform="translate(357.90,7.00) scale(1,1.06)" text-anchor="middle" font-size="9.7" >HRA</text>
<rect x="489.79" y="11.80" width="26.12" height="276.88" fill="#F0DCCF"/>
<rect x="561.10" y="11.80" width="26.89" height="276.88" fill="#CDCDFA"/>
<rect x="617.80" y="11.80" width="26.09" height="276.88" fill="#CDF0DC"/>
<text transform="translate(594.65,71.00) scale(1,1.06)" text-anchor="start" font-size="9.6" >Distance = 60 cm</text>
<text transform="translate(594.65,140.22) scale(1,1.06)" text-anchor="start" font-size="9.6" >Distance = 100 cm</text>
<text transform="translate(594.65,209.44) scale(1,1.06)" text-anchor="start" font-size="9.6" >Distance = 140 cm</text>
<text transform="translate(594.65,278.66) scale(1,1.06)" text-anchor="start" font-size="9.6" >Distance = 180 cm</text>
<line x1="502.91" y1="11.80" x2="502.91" y2="288.68" stroke="#787878" stroke-width="1.6" stroke-dasharray="4.5 1.7" stroke-dashoffset="4.0"/>
<line x1="574.50" y1="11.80" x2="574.50" y2="288.68" stroke="#787878" stroke-width="1.6" stroke-dasharray="4.5 1.7" stroke-dashoffset="4.0"/>
<line x1="631.10" y1="11.80" x2="631.10" y2="288.68" stroke="#787878" stroke-width="1.6" stroke-dasharray="4.5 1.7" stroke-dashoffset="4.0"/>
<polyline points="484.45,18.92 484.76,18.93 485.06,18.94 485.37,18.96 485.68,18.99 485.98,19.01 486.29,19.05 486.60,19.09 486.90,19.13 487.21,19.18 487.52,19.25 487.82,19.32 488.13,19.40 488.44,19.50 488.74,19.61 489.05,19.74 489.36,19.89 489.66,20.06 489.97,20.25 490.28,20.46 490.58,20.71 490.89,20.98 491.20,21.28 491.50,21.62 491.81,21.99 492.12,22.40 492.42,22.85 492.73,23.34 493.04,23.88 493.34,24.46 493.65,25.08 493.96,25.75 494.26,26.47 494.57,27.23 494.87,28.04 495.18,28.89 495.49,29.78 495.79,30.71 496.10,31.68 496.41,32.67 496.71,33.69 497.02,34.74 497.33,35.80 497.63,36.86 497.94,37.93 498.25,38.99 498.55,40.04 498.86,41.06 499.17,42.05 499.47,43.01 499.78,43.92 500.09,44.77 500.39,45.56 500.70,46.28 501.01,46.92 501.31,47.48 501.62,47.94 501.93,48.32 502.23,48.59 502.54,48.77 502.85,48.84 503.15,48.81 503.46,48.67 503.77,48.44 504.07,48.10 504.38,47.67 504.69,47.15 504.99,46.54 505.30,45.86 505.61,45.09 505.91,44.27 506.22,43.38 506.53,42.44 506.83,41.46 507.14,40.45 507.45,39.41 507.75,38.35 508.06,37.29 508.37,36.22 508.67,35.16 508.98,34.11 509.29,33.08 509.59,32.07 509.90,31.09 510.21,30.15 510.51,29.24 510.82,28.37 511.13,27.55 511.43,26.77 511.74,26.03 512.05,25.34 512.35,24.70 512.66,24.10 512.97,23.55 513.27,23.04 513.58,22.57 513.89,22.15 514.19,21.76 514.50,21.41 514.80,21.09 515.11,20.81 515.42,20.56 515.72,20.33 516.03,20.13 516.34,19.95 516.64,19.80 516.95,19.66 517.26,19.54 517.56,19.44 517.87,19.35 518.18,19.27 518.48,19.21 518.79,19.15 519.10,19.10 519.40,19.06 519.71,19.03 520.02,19.00 520.32,18.97 520.63,18.95 520.94,18.93 521.24,18.92 521.55,18.91 521.86,18.90 522.16,18.89 522.47,18.88 522.78,18.88 523.08,18.87 523.39,18.87 523.70,18.87 524.00,18.87 524.31,18.86 524.62,18.86 524.92,18.86 525.23,18.86 525.54,18.86 525.84,18.86 526.15,18.86 526.46,18.86 526.76,18.86 527.07,18.86 527.38,18.86 527.68,18.86 527.99,18.86 528.30,18.86 528.60,18.86 528.91,18.86 529.22,18.86 529.52,18.86 529.83,18.86 530.14,18.86 530.44,18.86 530.75,18.86 531.06,18.86 531.36,18.86 531.67,18.86 531.98,18.86 532.28,18.86 532.59,18.86 532.90,18.86 533.20,18.86 533.51,18.86 533.82,18.86 534.12,18.86 534.43,18.86 534.73,18.86 535.04,18.86 535.35,18.86 535.65,18.86 535.96,18.86 536.27,18.86 536.57,18.86 536.88,18.86 537.19,18.86 537.49,18.86 537.80,18.86 538.11,18.86 538.41,18.86 538.72,18.86 539.03,18.86 539.33,18.86 539.64,18.86 539.95,18.86 540.25,18.86 540.56,18.86 540.87,18.86 541.17,18.86 541.48,18.86 541.79,18.86 542.09,18.86 542.40,18.86 542.71,18.86 543.01,18.86 543.32,18.86 543.63,18.86 543.93,18.86 544.24,18.86 544.55,18.86 544.85,18.86 545.16,18.86 545.47,18.86 545.77,18.86 546.08,18.86 546.39,18.86 546.69,18.86 547.00,18.86 547.31,18.86 547.61,18.86 547.92,18.86 548.23,18.86 548.53,18.86 548.84,18.86 549.15,18.86 549.45,18.86 549.76,18.86 550.07,18.86 550.37,18.86 550.68,18.86 550.99,18.86 551.29,18.86 551.60,18.86 551.91,18.86 552.21,18.86 552.52,18.86 552.83,18.86 553.13,18.86 553.44,18.86 553.75,18.87 554.05,18.87 554.36,18.87 554.66,18.88 554.97,18.88 555.28,18.89 555.58,18.90 555.89,18.91 556.20,18.92 556.50,18.93 556.81,18.95 557.12,18.98 557.42,19.00 557.73,19.04 558.04,19.08 558.34,19.12 558.65,19.18 558.96,19.25 559.26,19.33 559.57,19.42 559.88,19.53 560.18,19.66 560.49,19.81 560.80,19.98 561.10,20.18 561.41,20.41 561.72,20.67 562.02,20.97 562.33,21.30 562.64,21.68 562.94,22.11 563.25,22.59 563.56,23.12 563.86,23.71 564.17,24.35 564.48,25.07 564.78,25.84 565.09,26.69 565.40,27.61 565.70,28.59 566.01,29.65 566.32,30.78 566.62,31.98 566.93,33.24 567.24,34.56 567.54,35.95 567.85,37.38 568.16,38.86 568.46,40.38 568.77,41.92 569.08,43.49 569.38,45.06 569.69,46.63 570.00,48.18 570.30,49.70 570.61,51.18 570.92,52.61 571.22,53.96 571.53,55.24 571.84,56.41 572.14,57.48 572.45,58.44 572.76,59.26 573.06,59.95 573.37,60.49 573.68,60.88 573.98,61.12 574.29,61.20 574.59,61.12 574.90,60.88 575.21,60.49 575.51,59.95 575.82,59.26 576.13,58.44 576.43,57.48 576.74,56.41 577.05,55.24 577.35,53.96 577.66,52.61 577.97,51.18 578.27,49.70 578.58,48.18 578.89,46.63 579.19,45.06 579.50,43.49 579.81,41.92 580.11,40.38 580.42,38.86 580.73,37.38 581.03,35.95 581.34,34.56 581.65,33.24 581.95,31.98 582.26,30.78 582.57,29.65 582.87,28.59 583.18,27.61 583.49,26.69 583.79,25.84 584.10,25.07 584.41,24.35 584.71,23.71 585.02,23.12 585.33,22.59 585.63,22.11 585.94,21.68 586.25,21.30 586.55,20.97 586.86,20.67 587.17,20.41 587.47,20.18 587.78,19.98 588.09,19.81 588.39,19.66 588.70,19.53 589.01,19.42 589.31,19.33 589.62,19.25 589.93,19.18 590.23,19.12 590.54,19.08 590.85,19.04 591.15,19.00 591.46,18.98 591.77,18.95 592.07,18.93 592.38,18.92 592.69,18.91 592.99,18.90 593.30,18.89 593.61,18.88 593.91,18.88 594.22,18.87 594.52,18.87 594.83,18.87 595.14,18.86 595.44,18.86 595.75,18.86 596.06,18.86 596.36,18.86 596.67,18.86 596.98,18.86 597.28,18.86 597.59,18.86 597.90,18.86 598.20,18.86 598.51,18.86 598.82,18.86 599.12,18.86 599.43,18.86 599.74,18.86 600.04,18.86 600.35,18.86 600.66,18.86 600.96,18.86 601.27,18.86 601.58,18.86 601.88,18.86 602.19,18.86 602.50,18.86 602.80,18.86 603.11,18.86 603.42,18.86 603.72,18.86 604.03,18.86 604.34,18.86 604.64,18.86 604.95,18.86 605.26,18.86 605.56,18.86 605.87,18.86 606.18,18.86 606.48,18.86 606.79,18.86 607.10,18.86 607.40,18.86 607.71,18.86 608.02,18.86 608.32,18.86 608.63,18.86 608.94,18.86 609.24,18.86 609.55,18.86 609.86,18.86 610.16,18.86 610.47,18.86 610.78,18.86 611.08,18.86 611.39,18.86 611.70,18.87 612.00,18.87 612.31,18.87 612.62,18.87 612.92,18.88 613.23,18.88 613.54,18.89 613.84,18.90 614.15,18.90 614.45,18.92 614.76,18.93 615.07,18.95 615.37,18.96 615.68,18.99 615.99,19.01 616.29,19.05 616.60,19.08 616.91,19.13 617.21,19.18 617.52,19.24 617.83,19.30 618.13,19.38 618.44,19.47 618.75,19.57 619.05,19.69 619.36,19.82 619.67,19.97 619.97,20.13 620.28,20.32 620.59,20.52 620.89,20.74 621.20,20.99 621.51,21.26 621.81,21.55 622.12,21.87 622.43,22.21 622.73,22.57 623.04,22.96 623.35,23.37 623.65,23.80 623.96,24.25 624.27,24.72 624.57,25.21 624.88,25.71 625.19,26.22 625.49,26.74 625.80,27.26 626.11,27.78 626.41,28.30 626.72,28.81 627.03,29.31 627.33,29.78 627.64,30.24 627.95,30.67 628.25,31.07 628.56,31.43 628.87,31.75 629.17,32.03 629.48,32.26 629.79,32.44 630.09,32.58 630.40,32.66 630.71,32.68 631.01,32.64 631.32,32.53 631.63,32.35 631.93,32.10 632.24,31.79 632.55,31.42 632.85,30.99 633.16,30.52 633.47,30.01 633.77,29.46 634.08,28.88 634.38,28.29 634.69,27.69 635.00,27.08 635.30,26.47 635.61,25.87 635.92,25.28 636.22,24.71 636.53,24.17 636.84,23.64 637.14,23.15 637.45,22.69 637.76,22.26 638.06,21.86 638.37,21.49 638.68,21.16 638.98,20.86 639.29,20.59 639.60,20.35 639.90,20.13 640.21,19.94 640.52,19.77 640.82,19.63 641.13,19.50 641.44,19.40 641.74,19.30 642.05,19.22 642.36,19.16 642.66,19.10 642.97,19.06 643.28,19.02 643.58,18.99 643.89,18.96 644.20,18.94 644.50,18.92 644.81,18.91 645.12,18.90 645.42,18.89 645.73,18.88 646.04,18.88 646.34,18.87 646.65,18.87 646.96,18.87 647.26,18.86 647.57,18.86 647.88,18.86 648.18,18.86 648.49,18.86 648.80,18.86 649.10,18.86 649.41,18.86 649.72,18.86 650.02,18.86 650.33,18.86 650.64,18.86 650.94,18.86 651.25,18.86 651.56,18.86 651.86,18.86 652.17,18.86 652.48,18.86 652.78,18.86 653.09,18.86 653.40,18.86 653.70,18.86 654.01,18.86 654.31,18.86 654.62,18.86 654.93,18.86 655.23,18.86 655.54,18.86 655.85,18.86 656.15,18.86 656.46,18.86 656.77,18.86 657.07,18.86 657.38,18.86 657.69,18.86 657.99,18.86 658.30,18.86 658.61,18.86 658.91,18.86 659.22,18.86 659.53,18.86 659.83,18.86 660.14,18.86 660.45,18.86 660.75,18.86 661.06,18.86 661.37,18.86 661.67,18.86 661.98,18.86 662.29,18.86 662.59,18.86 662.90,18.86 663.21,18.86 663.51,18.86 663.82,18.86 664.13,18.86 664.43,18.86 664.74,18.86 665.05,18.86 665.35,18.86 665.66,18.86 665.97,18.86 666.27,18.86 666.58,18.86 666.89,18.86 667.19,18.86 667.50,18.86 667.81,18.86 668.11,18.86 668.42,18.86 668.73,18.86 669.03,18.86 669.34,18.86 669.65,18.86 669.95,18.86 670.26,18.86 670.57,18.86 670.87,18.86 671.18,18.86 671.49,18.86 671.79,18.86 672.10,18.86 672.41,18.86 672.71,18.86 673.02,18.86 673.33,18.86 673.63,18.86 673.94,18.86 674.24,18.86 674.55,18.86 674.86,18.86 675.16,18.86 675.47,18.86 675.78,18.86 676.08,18.86 676.39,18.86 676.70,18.86 677.00,18.86 677.31,18.86 677.62,18.86 677.92,18.86 678.23,18.86 678.54,18.86 678.84,18.86 679.15,18.86 679.46,18.86 679.76,18.86 680.07,18.86 680.38,18.86 680.68,18.86 680.99,18.86 681.30,18.86 681.60,18.86 681.91,18.86 682.22,18.86 682.52,18.86 682.83,18.86 683.14,18.86 683.44,18.86 683.75,18.86" fill="none" stroke="#000000" stroke-width="1.6" stroke-linejoin="round"/>
<line x1="574.45" y1="67.00" x2="590.75" y2="67.00" stroke="#000000" stroke-width="2.0" />
<polyline points="484.45,88.12 484.76,88.13 485.06,88.14 485.37,88.16 485.68,88.17 485.98,88.20 486.29,88.22 486.60,88.25 486.90,88.28 487.21,88.32 487.52,88.37 487.82,88.42 488.13,88.49 488.44,88.56 488.74,88.65 489.05,88.74 489.36,88.85 489.66,88.98 489.97,89.12 490.28,89.29 490.58,89.47 490.89,89.67 491.20,89.90 491.50,90.15 491.81,90.43 492.12,90.74 492.42,91.08 492.73,91.45 493.04,91.85 493.34,92.29 493.65,92.76 493.96,93.26 494.26,93.80 494.57,94.38 494.87,94.99 495.18,95.63 495.49,96.30 495.79,97.00 496.10,97.72 496.41,98.47 496.71,99.24 497.02,100.03 497.33,100.82 497.63,101.62 497.94,102.43 498.25,103.23 498.55,104.01 498.86,104.78 499.17,105.53 499.47,106.25 499.78,106.93 500.09,107.58 500.39,108.17 500.70,108.71 501.01,109.19 501.31,109.61 501.62,109.96 501.93,110.24 502.23,110.45 502.54,110.58 502.85,110.64 503.15,110.61 503.46,110.51 503.77,110.34 504.07,110.08 504.38,109.76 504.69,109.37 504.99,108.91 505.30,108.39 505.61,107.82 505.91,107.20 506.22,106.53 506.53,105.82 506.83,105.09 507.14,104.32 507.45,103.54 507.75,102.75 508.06,101.95 508.37,101.14 508.67,100.34 508.98,99.55 509.29,98.78 509.59,98.02 509.90,97.28 510.21,96.57 510.51,95.89 510.82,95.24 511.13,94.62 511.43,94.03 511.74,93.48 512.05,92.96 512.35,92.47 512.66,92.02 512.97,91.61 513.27,91.22 513.58,90.87 513.89,90.55 514.19,90.26 514.50,90.00 514.80,89.76 515.11,89.55 515.42,89.36 515.72,89.19 516.03,89.04 516.34,88.90 516.64,88.79 516.95,88.68 517.26,88.59 517.56,88.52 517.87,88.45 518.18,88.39 518.48,88.34 518.79,88.30 519.10,88.26 519.40,88.23 519.71,88.20 520.02,88.18 520.32,88.16 520.63,88.15 520.94,88.14 521.24,88.12 521.55,88.12 521.86,88.11 522.16,88.10 522.47,88.10 522.78,88.09 523.08,88.09 523.39,88.09 523.70,88.09 524.00,88.08 524.31,88.08 524.62,88.08 524.92,88.08 525.23,88.08 525.54,88.08 525.84,88.08 526.15,88.08 526.46,88.08 526.76,88.08 527.07,88.08 527.38,88.08 527.68,88.08 527.99,88.08 528.30,88.08 528.60,88.08 528.91,88.08 529.22,88.08 529.52,88.08 529.83,88.08 530.14,88.08 530.44,88.08 530.75,88.08 531.06,88.08 531.36,88.08 531.67,88.08 531.98,88.08 532.28,88.08 532.59,88.08 532.90,88.08 533.20,88.08 533.51,88.08 533.82,88.08 534.12,88.08 534.43,88.08 534.73,88.08 535.04,88.08 535.35,88.08 535.65,88.08 535.96,88.08 536.27,88.08 536.57,88.08 536.88,88.08 537.19,88.08 537.49,88.08 537.80,88.08 538.11,88.08 538.41,88.08 538.72,88.08 539.03,88.08 539.33,88.08 539.64,88.08 539.95,88.08 540.25,88.08 540.56,88.08 540.87,88.08 541.17,88.08 541.48,88.08 541.79,88.08 542.09,88.08 542.40,88.08 542.71,88.08 543.01,88.08 543.32,88.08 543.63,88.08 543.93,88.08 544.24,88.08 544.55,88.08 544.85,88.08 545.16,88.08 545.47,88.08 545.77,88.08 546.08,88.08 546.39,88.08 546.69,88.08 547.00,88.08 547.31,88.08 547.61,88.08 547.92,88.08 548.23,88.08 548.53,88.08 548.84,88.08 549.15,88.08 549.45,88.08 549.76,88.08 550.07,88.08 550.37,88.08 550.68,88.08 550.99,88.08 551.29,88.08 551.60,88.08 551.91,88.08 552.21,88.08 552.52,88.08 552.83,88.08 553.13,88.08 553.44,88.08 553.75,88.08 554.05,88.09 554.36,88.09 554.66,88.09 554.97,88.10 555.28,88.10 555.58,88.11 555.89,88.12 556.20,88.13 556.50,88.14 556.81,88.15 557.12,88.17 557.42,88.19 557.73,88.22 558.04,88.25 558.34,88.28 558.65,88.33 558.96,88.38 559.26,88.44 559.57,88.51 559.88,88.60 560.18,88.70 560.49,88.81 560.80,88.95 561.10,89.10 561.41,89.28 561.72,89.48 562.02,89.71 562.33,89.97 562.64,90.27 562.94,90.60 563.25,90.97 563.56,91.38 563.86,91.83 564.17,92.33 564.48,92.89 564.78,93.49 565.09,94.15 565.40,94.86 565.70,95.62 566.01,96.44 566.32,97.31 566.62,98.24 566.93,99.22 567.24,100.24 567.54,101.31 567.85,102.43 568.16,103.57 568.46,104.75 568.77,105.94 569.08,107.16 569.38,108.37 569.69,109.59 570.00,110.79 570.30,111.97 570.61,113.12 570.92,114.22 571.22,115.27 571.53,116.26 571.84,117.17 572.14,118.00 572.45,118.74 572.76,119.38 573.06,119.91 573.37,120.33 573.68,120.63 573.98,120.82 574.29,120.88 574.59,120.82 574.90,120.63 575.21,120.33 575.51,119.91 575.82,119.38 576.13,118.74 576.43,118.00 576.74,117.17 577.05,116.26 577.35,115.27 577.66,114.22 577.97,113.12 578.27,111.97 578.58,110.79 578.89,109.59 579.19,108.37 579.50,107.16 579.81,105.94 580.11,104.75 580.42,103.57 580.73,102.43 581.03,101.31 581.34,100.24 581.65,99.22 581.95,98.24 582.26,97.31 582.57,96.44 582.87,95.62 583.18,94.86 583.49,94.15 583.79,93.49 584.10,92.89 584.41,92.33 584.71,91.83 585.02,91.38 585.33,90.97 585.63,90.60 585.94,90.27 586.25,89.97 586.55,89.71 586.86,89.48 587.17,89.28 587.47,89.10 587.78,88.95 588.09,88.81 588.39,88.70 588.70,88.60 589.01,88.51 589.31,88.44 589.62,88.38 589.93,88.33 590.23,88.28 590.54,88.25 590.85,88.22 591.15,88.19 591.46,88.17 591.77,88.15 592.07,88.14 592.38,88.13 592.69,88.12 592.99,88.11 593.30,88.10 593.61,88.10 593.91,88.09 594.22,88.09 594.52,88.09 594.83,88.08 595.14,88.08 595.44,88.08 595.75,88.08 596.06,88.08 596.36,88.08 596.67,88.08 596.98,88.08 597.28,88.08 597.59,88.08 597.90,88.08 598.20,88.08 598.51,88.08 598.82,88.08 599.12,88.08 599.43,88.08 599.74,88.08 600.04,88.08 600.35,88.08 600.66,88.08 600.96,88.08 601.27,88.08 601.58,88.08 601.88,88.08 602.19,88.08 602.50,88.08 602.80,88.08 603.11,88.08 603.42,88.08 603.72,88.08 604.03,88.08 604.34,88.08 604.64,88.08 604.95,88.08 605.26,88.08 605.56,88.08 605.87,88.08 606.18,88.08 606.48,88.08 606.79,88.08 607.10,88.08 607.40,88.08 607.71,88.08 608.02,88.08 608.32,88.08 608.63,88.08 608.94,88.08 609.24,88.08 609.55,88.08 609.86,88.08 610.16,88.08 610.47,88.08 610.78,88.08 611.08,88.08 611.39,88.08 611.70,88.08 612.00,88.08 612.31,88.08 612.62,88.08 612.92,88.08 613.23,88.08 613.54,88.08 613.84,88.09 614.15,88.09 614.45,88.09 614.76,88.10 615.07,88.10 615.37,88.11 615.68,88.12 615.99,88.13 616.29,88.14 616.60,88.16 616.91,88.18 617.21,88.20 617.52,88.23 617.83,88.27 618.13,88.31 618.44,88.36 618.75,88.42 619.05,88.49 619.36,88.57 619.67,88.66 619.97,88.77 620.28,88.89 620.59,89.04 620.89,89.20 621.20,89.38 621.51,89.58 621.81,89.80 622.12,90.05 622.43,90.33 622.73,90.62 623.04,90.95 623.35,91.29 623.65,91.66 623.96,92.06 624.27,92.47 624.57,92.90 624.88,93.35 625.19,93.81 625.49,94.28 625.80,94.76 626.11,95.23 626.41,95.70 626.72,96.16 627.03,96.60 627.33,97.02 627.64,97.41 627.95,97.78 628.25,98.10 628.56,98.38 628.87,98.62 629.17,98.81 629.48,98.95 629.79,99.03 630.09,99.04 630.40,98.97 630.71,98.79 631.01,98.50 631.32,98.11 631.63,97.63 631.93,97.07 632.24,96.45 632.55,95.79 632.85,95.10 633.16,94.41 633.47,93.72 633.77,93.05 634.08,92.41 634.38,91.82 634.69,91.27 635.00,90.77 635.30,90.32 635.61,89.93 635.92,89.59 636.22,89.30 636.53,89.05 636.84,88.85 637.14,88.68 637.45,88.54 637.76,88.43 638.06,88.35 638.37,88.28 638.68,88.23 638.98,88.19 639.29,88.16 639.60,88.13 639.90,88.12 640.21,88.11 640.52,88.10 640.82,88.09 641.13,88.09 641.44,88.08 641.74,88.08 642.05,88.08 642.36,88.08 642.66,88.08 642.97,88.08 643.28,88.08 643.58,88.08 643.89,88.08 644.20,88.08 644.50,88.08 644.81,88.08 645.12,88.08 645.42,88.08 645.73,88.08 646.04,88.08 646.34,88.08 646.65,88.08 646.96,88.08 647.26,88.08 647.57,88.08 647.88,88.08 648.18,88.08 648.49,88.08 648.80,88.08 649.10,88.08 649.41,88.08 649.72,88.08 650.02,88.08 650.33,88.08 650.64,88.08 650.94,88.08 651.25,88.08 651.56,88.08 651.86,88.08 652.17,88.08 652.48,88.08 652.78,88.08 653.09,88.08 653.40,88.08 653.70,88.08 654.01,88.08 654.31,88.08 654.62,88.08 654.93,88.08 655.23,88.08 655.54,88.08 655.85,88.08 656.15,88.08 656.46,88.08 656.77,88.08 657.07,88.08 657.38,88.08 657.69,88.08 657.99,88.08 658.30,88.08 658.61,88.08 658.91,88.08 659.22,88.08 659.53,88.08 659.83,88.08 660.14,88.08 660.45,88.08 660.75,88.08 661.06,88.08 661.37,88.08 661.67,88.08 661.98,88.08 662.29,88.08 662.59,88.08 662.90,88.08 663.21,88.08 663.51,88.08 663.82,88.08 664.13,88.08 664.43,88.08 664.74,88.08 665.05,88.08 665.35,88.08 665.66,88.08 665.97,88.08 666.27,88.08 666.58,88.08 666.89,88.08 667.19,88.08 667.50,88.08 667.81,88.08 668.11,88.08 668.42,88.08 668.73,88.08 669.03,88.08 669.34,88.08 669.65,88.08 669.95,88.08 670.26,88.08 670.57,88.08 670.87,88.08 671.18,88.08 671.49,88.08 671.79,88.08 672.10,88.08 672.41,88.08 672.71,88.08 673.02,88.08 673.33,88.08 673.63,88.08 673.94,88.08 674.24,88.08 674.55,88.08 674.86,88.08 675.16,88.08 675.47,88.08 675.78,88.08 676.08,88.08 676.39,88.08 676.70,88.08 677.00,88.08 677.31,88.08 677.62,88.08 677.92,88.08 678.23,88.08 678.54,88.08 678.84,88.08 679.15,88.08 679.46,88.08 679.76,88.08 680.07,88.08 680.38,88.08 680.68,88.08 680.99,88.08 681.30,88.08 681.60,88.08 681.91,88.08 682.22,88.08 682.52,88.08 682.83,88.08 683.14,88.08 683.44,88.08 683.75,88.08" fill="none" stroke="#E69F00" stroke-width="1.6" stroke-linejoin="round"/>
<line x1="574.45" y1="136.22" x2="590.75" y2="136.22" stroke="#E69F00" stroke-width="2.0" />
<polyline points="484.45,157.33 484.76,157.34 485.06,157.34 485.37,157.36 485.68,157.37 485.98,157.38 486.29,157.40 486.60,157.42 486.90,157.45 487.21,157.48 487.52,157.51 487.82,157.55 488.13,157.60 488.44,157.65 488.74,157.71 489.05,157.78 489.36,157.86 489.66,157.95 489.97,158.06 490.28,158.17 490.58,158.31 490.89,158.45 491.20,158.62 491.50,158.80 491.81,159.00 492.12,159.23 492.42,159.47 492.73,159.74 493.04,160.03 493.34,160.35 493.65,160.69 493.96,161.06 494.26,161.45 494.57,161.86 494.87,162.30 495.18,162.77 495.49,163.25 495.79,163.76 496.10,164.29 496.41,164.83 496.71,165.39 497.02,165.95 497.33,166.53 497.63,167.11 497.94,167.69 498.25,168.27 498.55,168.84 498.86,169.40 499.17,169.94 499.47,170.46 499.78,170.96 500.09,171.42 500.39,171.85 500.70,172.24 501.01,172.59 501.31,172.90 501.62,173.15 501.93,173.36 502.23,173.51 502.54,173.60 502.85,173.64 503.15,173.62 503.46,173.55 503.77,173.42 504.07,173.24 504.38,173.01 504.69,172.72 504.99,172.39 505.30,172.01 505.61,171.60 505.91,171.15 506.22,170.66 506.53,170.15 506.83,169.62 507.14,169.07 507.45,168.50 507.75,167.93 508.06,167.34 508.37,166.76 508.67,166.18 508.98,165.61 509.29,165.05 509.59,164.50 509.90,163.97 510.21,163.45 510.51,162.96 510.82,162.49 511.13,162.04 511.43,161.61 511.74,161.21 512.05,160.83 512.35,160.48 512.66,160.16 512.97,159.85 513.27,159.58 513.58,159.32 513.89,159.09 514.19,158.88 514.50,158.69 514.80,158.52 515.11,158.36 515.42,158.22 515.72,158.10 516.03,157.99 516.34,157.90 516.64,157.81 516.95,157.74 517.26,157.67 517.56,157.62 517.87,157.57 518.18,157.52 518.48,157.49 518.79,157.46 519.10,157.43 519.40,157.41 519.71,157.39 520.02,157.37 520.32,157.36 520.63,157.35 520.94,157.34 521.24,157.33 521.55,157.33 521.86,157.32 522.16,157.32 522.47,157.31 522.78,157.31 523.08,157.31 523.39,157.30 523.70,157.30 524.00,157.30 524.31,157.30 524.62,157.30 524.92,157.30 525.23,157.30 525.54,157.30 525.84,157.30 526.15,157.30 526.46,157.30 526.76,157.30 527.07,157.30 527.38,157.30 527.68,157.30 527.99,157.30 528.30,157.30 528.60,157.30 528.91,157.30 529.22,157.30 529.52,157.30 529.83,157.30 530.14,157.30 530.44,157.30 530.75,157.30 531.06,157.30 531.36,157.30 531.67,157.30 531.98,157.30 532.28,157.30 532.59,157.30 532.90,157.30 533.20,157.30 533.51,157.30 533.82,157.30 534.12,157.30 534.43,157.30 534.73,157.30 535.04,157.30 535.35,157.30 535.65,157.30 535.96,157.30 536.27,157.30 536.57,157.30 536.88,157.30 537.19,157.30 537.49,157.30 537.80,157.30 538.11,157.30 538.41,157.30 538.72,157.30 539.03,157.30 539.33,157.30 539.64,157.30 539.95,157.30 540.25,157.30 540.56,157.30 540.87,157.30 541.17,157.30 541.48,157.30 541.79,157.30 542.09,157.30 542.40,157.30 542.71,157.30 543.01,157.30 543.32,157.30 543.63,157.30 543.93,157.30 544.24,157.30 544.55,157.30 544.85,157.30 545.16,157.30 545.47,157.30 545.77,157.30 546.08,157.30 546.39,157.30 546.69,157.30 547.00,157.30 547.31,157.30 547.61,157.30 547.92,157.30 548.23,157.30 548.53,157.30 548.84,157.30 549.15,157.30 549.45,157.30 549.76,157.30 550.07,157.30 550.37,157.30 550.68,157.30 550.99,157.30 551.29,157.30 551.60,157.30 551.91,157.30 552.21,157.30 552.52,157.30 552.83,157.30 553.13,157.30 553.44,157.30 553.75,157.30 554.05,157.30 554.36,157.31 554.66,157.31 554.97,157.31 555.28,157.32 555.58,157.32 555.89,157.33 556.20,157.33 556.50,157.34 556.81,157.36 557.12,157.37 557.42,157.39 557.73,157.41 558.04,157.43 558.34,157.46 558.65,157.49 558.96,157.53 559.26,157.58 559.57,157.64 559.88,157.71 560.18,157.78 560.49,157.87 560.80,157.98 561.10,158.10 561.41,158.24 561.72,158.40 562.02,158.58 562.33,158.78 562.64,159.01 562.94,159.27 563.25,159.56 563.56,159.88 563.86,160.24 564.17,160.63 564.48,161.06 564.78,161.53 565.09,162.05 565.40,162.60 565.70,163.20 566.01,163.84 566.32,164.52 566.62,165.25 566.93,166.02 567.24,166.82 567.54,167.66 567.85,168.53 568.16,169.42 568.46,170.34 568.77,171.28 569.08,172.23 569.38,173.18 569.69,174.13 570.00,175.07 570.30,176.00 570.61,176.89 570.92,177.76 571.22,178.58 571.53,179.35 571.84,180.06 572.14,180.71 572.45,181.29 572.76,181.79 573.06,182.21 573.37,182.54 573.68,182.78 573.98,182.92 574.29,182.97 574.59,182.92 574.90,182.78 575.21,182.54 575.51,182.21 575.82,181.79 576.13,181.29 576.43,180.71 576.74,180.06 577.05,179.35 577.35,178.58 577.66,177.76 577.97,176.89 578.27,176.00 578.58,175.07 578.89,174.13 579.19,173.18 579.50,172.23 579.81,171.28 580.11,170.34 580.42,169.42 580.73,168.53 581.03,167.66 581.34,166.82 581.65,166.02 581.95,165.25 582.26,164.52 582.57,163.84 582.87,163.20 583.18,162.60 583.49,162.05 583.79,161.53 584.10,161.06 584.41,160.63 584.71,160.24 585.02,159.88 585.33,159.56 585.63,159.27 585.94,159.01 586.25,158.78 586.55,158.58 586.86,158.40 587.17,158.24 587.47,158.10 587.78,157.98 588.09,157.87 588.39,157.78 588.70,157.71 589.01,157.64 589.31,157.58 589.62,157.53 589.93,157.49 590.23,157.46 590.54,157.43 590.85,157.41 591.15,157.39 591.46,157.37 591.77,157.36 592.07,157.34 592.38,157.33 592.69,157.33 592.99,157.32 593.30,157.32 593.61,157.31 593.91,157.31 594.22,157.31 594.52,157.30 594.83,157.30 595.14,157.30 595.44,157.30 595.75,157.30 596.06,157.30 596.36,157.30 596.67,157.30 596.98,157.30 597.28,157.30 597.59,157.30 597.90,157.30 598.20,157.30 598.51,157.30 598.82,157.30 599.12,157.30 599.43,157.30 599.74,157.30 600.04,157.30 600.35,157.30 600.66,157.30 600.96,157.30 601.27,157.30 601.58,157.30 601.88,157.30 602.19,157.30 602.50,157.30 602.80,157.30 603.11,157.30 603.42,157.30 603.72,157.30 604.03,157.30 604.34,157.30 604.64,157.30 604.95,157.30 605.26,157.30 605.56,157.30 605.87,157.30 606.18,157.30 606.48,157.30 606.79,157.30 607.10,157.30 607.40,157.30 607.71,157.30 608.02,157.30 608.32,157.30 608.63,157.30 608.94,157.30 609.24,157.30 609.55,157.30 609.86,157.30 610.16,157.30 610.47,157.30 610.78,157.30 611.08,157.30 611.39,157.30 611.70,157.30 612.00,157.30 612.31,157.30 612.62,157.30 612.92,157.30 613.23,157.30 613.54,157.30 613.84,157.30 614.15,157.31 614.45,157.31 614.76,157.31 615.07,157.32 615.37,157.32 615.68,157.33 615.99,157.34 616.29,157.34 616.60,157.36 616.91,157.37 617.21,157.39 617.52,157.41 617.83,157.44 618.13,157.47 618.44,157.51 618.75,157.55 619.05,157.60 619.36,157.66 619.67,157.73 619.97,157.81 620.28,157.90 620.59,158.01 620.89,158.13 621.20,158.26 621.51,158.41 621.81,158.57 622.12,158.76 622.43,158.96 622.73,159.18 623.04,159.42 623.35,159.68 623.65,159.95 623.96,160.24 624.27,160.55 624.57,160.87 624.88,161.20 625.19,161.54 625.49,161.89 625.80,162.24 626.11,162.59 626.41,162.94 626.72,163.28 627.03,163.60 627.33,163.91 627.64,164.21 627.95,164.47 628.25,164.71 628.56,164.92 628.87,165.10 629.17,165.24 629.48,165.34 629.79,165.40 630.09,165.41 630.40,165.36 630.71,165.22 631.01,165.01 631.32,164.72 631.63,164.36 631.93,163.95 632.24,163.49 632.55,163.00 632.85,162.50 633.16,161.98 633.47,161.47 633.77,160.98 634.08,160.51 634.38,160.07 634.69,159.66 635.00,159.29 635.30,158.96 635.61,158.67 635.92,158.42 636.22,158.20 636.53,158.02 636.84,157.87 637.14,157.74 637.45,157.64 637.76,157.56 638.06,157.50 638.37,157.45 638.68,157.41 638.98,157.38 639.29,157.36 639.60,157.34 639.90,157.33 640.21,157.32 640.52,157.31 640.82,157.31 641.13,157.30 641.44,157.30 641.74,157.30 642.05,157.30 642.36,157.30 642.66,157.30 642.97,157.30 643.28,157.30 643.58,157.30 643.89,157.30 644.20,157.30 644.50,157.30 644.81,157.30 645.12,157.30 645.42,157.30 645.73,157.30 646.04,157.30 646.34,157.30 646.65,157.30 646.96,157.30 647.26,157.30 647.57,157.30 647.88,157.30 648.18,157.30 648.49,157.30 648.80,157.30 649.10,157.30 649.41,157.30 649.72,157.30 650.02,157.30 650.33,157.30 650.64,157.30 650.94,157.30 651.25,157.30 651.56,157.30 651.86,157.30 652.17,157.30 652.48,157.30 652.78,157.30 653.09,157.30 653.40,157.30 653.70,157.30 654.01,157.30 654.31,157.30 654.62,157.30 654.93,157.30 655.23,157.30 655.54,157.30 655.85,157.30 656.15,157.30 656.46,157.30 656.77,157.30 657.07,157.30 657.38,157.30 657.69,157.30 657.99,157.30 658.30,157.30 658.61,157.30 658.91,157.30 659.22,157.30 659.53,157.30 659.83,157.30 660.14,157.30 660.45,157.30 660.75,157.30 661.06,157.30 661.37,157.30 661.67,157.30 661.98,157.30 662.29,157.30 662.59,157.30 662.90,157.30 663.21,157.30 663.51,157.30 663.82,157.30 664.13,157.30 664.43,157.30 664.74,157.30 665.05,157.30 665.35,157.30 665.66,157.30 665.97,157.30 666.27,157.30 666.58,157.30 666.89,157.30 667.19,157.30 667.50,157.30 667.81,157.30 668.11,157.30 668.42,157.30 668.73,157.30 669.03,157.30 669.34,157.30 669.65,157.30 669.95,157.30 670.26,157.30 670.57,157.30 670.87,157.30 671.18,157.30 671.49,157.30 671.79,157.30 672.10,157.30 672.41,157.30 672.71,157.30 673.02,157.30 673.33,157.30 673.63,157.30 673.94,157.30 674.24,157.30 674.55,157.30 674.86,157.30 675.16,157.30 675.47,157.30 675.78,157.30 676.08,157.30 676.39,157.30 676.70,157.30 677.00,157.30 677.31,157.30 677.62,157.30 677.92,157.30 678.23,157.30 678.54,157.30 678.84,157.30 679.15,157.30 679.46,157.30 679.76,157.30 680.07,157.30 680.38,157.30 680.68,157.30 680.99,157.30 681.30,157.30 681.60,157.30 681.91,157.30 682.22,157.30 682.52,157.30 682.83,157.30 683.14,157.30 683.44,157.30 683.75,157.30" fill="none" stroke="#CC79A7" stroke-width="1.6" stroke-linejoin="round"/>
<line x1="574.45" y1="205.44" x2="590.75" y2="205.44" stroke="#CC79A7" stroke-width="2.0" />
<polyline points="484.45,226.54 484.76,226.54 485.06,226.55 485.37,226.56 485.68,226.57 485.98,226.58 486.29,226.59 486.60,226.60 486.90,226.62 487.21,226.64 487.52,226.66 487.82,226.69 488.13,226.72 488.44,226.76 488.74,226.80 489.05,226.85 489.36,226.91 489.66,226.97 489.97,227.04 490.28,227.12 490.58,227.21 490.89,227.31 491.20,227.43 491.50,227.55 491.81,227.69 492.12,227.85 492.42,228.02 492.73,228.20 493.04,228.40 493.34,228.62 493.65,228.85 493.96,229.11 494.26,229.38 494.57,229.66 494.87,229.97 495.18,230.29 495.49,230.62 495.79,230.97 496.10,231.33 496.41,231.71 496.71,232.09 497.02,232.48 497.33,232.88 497.63,233.28 497.94,233.68 498.25,234.08 498.55,234.47 498.86,234.86 499.17,235.23 499.47,235.59 499.78,235.93 500.09,236.25 500.39,236.55 500.70,236.82 501.01,237.06 501.31,237.27 501.62,237.44 501.93,237.58 502.23,237.69 502.54,237.75 502.85,237.78 503.15,237.77 503.46,237.72 503.77,237.63 504.07,237.50 504.38,237.34 504.69,237.14 504.99,236.92 505.30,236.66 505.61,236.37 505.91,236.06 506.22,235.73 506.53,235.38 506.83,235.01 507.14,234.63 507.45,234.24 507.75,233.84 508.06,233.44 508.37,233.04 508.67,232.64 508.98,232.25 509.29,231.86 509.59,231.48 509.90,231.11 510.21,230.76 510.51,230.42 510.82,230.09 511.13,229.78 511.43,229.49 511.74,229.21 512.05,228.95 512.35,228.71 512.66,228.49 512.97,228.28 513.27,228.09 513.58,227.91 513.89,227.75 514.19,227.61 514.50,227.48 514.80,227.36 515.11,227.25 515.42,227.16 515.72,227.07 516.03,227.00 516.34,226.93 516.64,226.87 516.95,226.82 517.26,226.78 517.56,226.74 517.87,226.70 518.18,226.67 518.48,226.65 518.79,226.63 519.10,226.61 519.40,226.59 519.71,226.58 520.02,226.57 520.32,226.56 520.63,226.55 520.94,226.55 521.24,226.54 521.55,226.54 521.86,226.53 522.16,226.53 522.47,226.53 522.78,226.53 523.08,226.52 523.39,226.52 523.70,226.52 524.00,226.52 524.31,226.52 524.62,226.52 524.92,226.52 525.23,226.52 525.54,226.52 525.84,226.52 526.15,226.52 526.46,226.52 526.76,226.52 527.07,226.52 527.38,226.52 527.68,226.52 527.99,226.52 528.30,226.52 528.60,226.52 528.91,226.52 529.22,226.52 529.52,226.52 529.83,226.52 530.14,226.52 530.44,226.52 530.75,226.52 531.06,226.52 531.36,226.52 531.67,226.52 531.98,226.52 532.28,226.52 532.59,226.52 532.90,226.52 533.20,226.52 533.51,226.52 533.82,226.52 534.12,226.52 534.43,226.52 534.73,226.52 535.04,226.52 535.35,226.52 535.65,226.52 535.96,226.52 536.27,226.52 536.57,226.52 536.88,226.52 537.19,226.52 537.49,226.52 537.80,226.52 538.11,226.52 538.41,226.52 538.72,226.52 539.03,226.52 539.33,226.52 539.64,226.52 539.95,226.52 540.25,226.52 540.56,226.52 540.87,226.52 541.17,226.52 541.48,226.52 541.79,226.52 542.09,226.52 542.40,226.52 542.71,226.52 543.01,226.52 543.32,226.52 543.63,226.52 543.93,226.52 544.24,226.52 544.55,226.52 544.85,226.52 545.16,226.52 545.47,226.52 545.77,226.52 546.08,226.52 546.39,226.52 546.69,226.52 547.00,226.52 547.31,226.52 547.61,226.52 547.92,226.52 548.23,226.52 548.53,226.52 548.84,226.52 549.15,226.52 549.45,226.52 549.76,226.52 550.07,226.52 550.37,226.52 550.68,226.52 550.99,226.52 551.29,226.52 551.60,226.52 551.91,226.52 552.21,226.52 552.52,226.52 552.83,226.52 553.13,226.52 553.44,226.52 553.75,226.52 554.05,226.52 554.36,226.52 554.66,226.53 554.97,226.53 555.28,226.53 555.58,226.53 555.89,226.54 556.20,226.54 556.50,226.55 556.81,226.56 557.12,226.56 557.42,226.58 557.73,226.59 558.04,226.61 558.34,226.62 558.65,226.65 558.96,226.67 559.26,226.71 559.57,226.74 559.88,226.79 560.18,226.84 560.49,226.90 560.80,226.97 561.10,227.05 561.41,227.14 561.72,227.25 562.02,227.37 562.33,227.50 562.64,227.65 562.94,227.83 563.25,228.02 563.56,228.23 563.86,228.47 564.17,228.73 564.48,229.02 564.78,229.33 565.09,229.67 565.40,230.04 565.70,230.44 566.01,230.86 566.32,231.32 566.62,231.80 566.93,232.30 567.24,232.84 567.54,233.39 567.85,233.97 568.16,234.57 568.46,235.18 568.77,235.80 569.08,236.43 569.38,237.06 569.69,237.69 570.00,238.32 570.30,238.93 570.61,239.53 570.92,240.10 571.22,240.64 571.53,241.16 571.84,241.63 572.14,242.06 572.45,242.45 572.76,242.78 573.06,243.05 573.37,243.27 573.68,243.43 573.98,243.53 574.29,243.56 574.59,243.53 574.90,243.43 575.21,243.27 575.51,243.05 575.82,242.78 576.13,242.45 576.43,242.06 576.74,241.63 577.05,241.16 577.35,240.64 577.66,240.10 577.97,239.53 578.27,238.93 578.58,238.32 578.89,237.69 579.19,237.06 579.50,236.43 579.81,235.80 580.11,235.18 580.42,234.57 580.73,233.97 581.03,233.39 581.34,232.84 581.65,232.30 581.95,231.80 582.26,231.32 582.57,230.86 582.87,230.44 583.18,230.04 583.49,229.67 583.79,229.33 584.10,229.02 584.41,228.73 584.71,228.47 585.02,228.23 585.33,228.02 585.63,227.83 585.94,227.65 586.25,227.50 586.55,227.37 586.86,227.25 587.17,227.14 587.47,227.05 587.78,226.97 588.09,226.90 588.39,226.84 588.70,226.79 589.01,226.74 589.31,226.71 589.62,226.67 589.93,226.65 590.23,226.62 590.54,226.61 590.85,226.59 591.15,226.58 591.46,226.56 591.77,226.56 592.07,226.55 592.38,226.54 592.69,226.54 592.99,226.53 593.30,226.53 593.61,226.53 593.91,226.53 594.22,226.52 594.52,226.52 594.83,226.52 595.14,226.52 595.44,226.52 595.75,226.52 596.06,226.52 596.36,226.52 596.67,226.52 596.98,226.52 597.28,226.52 597.59,226.52 597.90,226.52 598.20,226.52 598.51,226.52 598.82,226.52 599.12,226.52 599.43,226.52 599.74,226.52 600.04,226.52 600.35,226.52 600.66,226.52 600.96,226.52 601.27,226.52 601.58,226.52 601.88,226.52 602.19,226.52 602.50,226.52 602.80,226.52 603.11,226.52 603.42,226.52 603.72,226.52 604.03,226.52 604.34,226.52 604.64,226.52 604.95,226.52 605.26,226.52 605.56,226.52 605.87,226.52 606.18,226.52 606.48,226.52 606.79,226.52 607.10,226.52 607.40,226.52 607.71,226.52 608.02,226.52 608.32,226.52 608.63,226.52 608.94,226.52 609.24,226.52 609.55,226.52 609.86,226.52 610.16,226.52 610.47,226.52 610.78,226.52 611.08,226.52 611.39,226.52 611.70,226.52 612.00,226.52 612.31,226.52 612.62,226.52 612.92,226.52 613.23,226.52 613.54,226.52 613.84,226.52 614.15,226.52 614.45,226.52 614.76,226.53 615.07,226.53 615.37,226.53 615.68,226.54 615.99,226.54 616.29,226.55 616.60,226.55 616.91,226.56 617.21,226.57 617.52,226.59 617.83,226.60 618.13,226.62 618.44,226.65 618.75,226.67 619.05,226.70 619.36,226.74 619.67,226.78 619.97,226.83 620.28,226.89 620.59,226.95 620.89,227.03 621.20,227.11 621.51,227.20 621.81,227.31 622.12,227.42 622.43,227.54 622.73,227.68 623.04,227.83 623.35,227.99 623.65,228.15 623.96,228.33 624.27,228.52 624.57,228.72 624.88,228.93 625.19,229.14 625.49,229.35 625.80,229.57 626.11,229.78 626.41,230.00 626.72,230.21 627.03,230.41 627.33,230.60 627.64,230.78 627.95,230.95 628.25,231.09 628.56,231.22 628.87,231.33 629.17,231.42 629.48,231.48 629.79,231.52 630.09,231.53 630.40,231.49 630.71,231.41 631.01,231.28 631.32,231.10 631.63,230.88 631.93,230.62 632.24,230.34 632.55,230.04 632.85,229.73 633.16,229.41 633.47,229.09 633.77,228.79 634.08,228.50 634.38,228.23 634.69,227.97 635.00,227.75 635.30,227.54 635.61,227.36 635.92,227.21 636.22,227.08 636.53,226.96 636.84,226.87 637.14,226.79 637.45,226.73 637.76,226.68 638.06,226.64 638.37,226.61 638.68,226.59 638.98,226.57 639.29,226.55 639.60,226.54 639.90,226.54 640.21,226.53 640.52,226.53 640.82,226.52 641.13,226.52 641.44,226.52 641.74,226.52 642.05,226.52 642.36,226.52 642.66,226.52 642.97,226.52 643.28,226.52 643.58,226.52 643.89,226.52 644.20,226.52 644.50,226.52 644.81,226.52 645.12,226.52 645.42,226.52 645.73,226.52 646.04,226.52 646.34,226.52 646.65,226.52 646.96,226.52 647.26,226.52 647.57,226.52 647.88,226.52 648.18,226.52 648.49,226.52 648.80,226.52 649.10,226.52 649.41,226.52 649.72,226.52 650.02,226.52 650.33,226.52 650.64,226.52 650.94,226.52 651.25,226.52 651.56,226.52 651.86,226.52 652.17,226.52 652.48,226.52 652.78,226.52 653.09,226.52 653.40,226.52 653.70,226.52 654.01,226.52 654.31,226.52 654.62,226.52 654.93,226.52 655.23,226.52 655.54,226.52 655.85,226.52 656.15,226.52 656.46,226.52 656.77,226.52 657.07,226.52 657.38,226.52 657.69,226.52 657.99,226.52 658.30,226.52 658.61,226.52 658.91,226.52 659.22,226.52 659.53,226.52 659.83,226.52 660.14,226.52 660.45,226.52 660.75,226.52 661.06,226.52 661.37,226.52 661.67,226.52 661.98,226.52 662.29,226.52 662.59,226.52 662.90,226.52 663.21,226.52 663.51,226.52 663.82,226.52 664.13,226.52 664.43,226.52 664.74,226.52 665.05,226.52 665.35,226.52 665.66,226.52 665.97,226.52 666.27,226.52 666.58,226.52 666.89,226.52 667.19,226.52 667.50,226.52 667.81,226.52 668.11,226.52 668.42,226.52 668.73,226.52 669.03,226.52 669.34,226.52 669.65,226.52 669.95,226.52 670.26,226.52 670.57,226.52 670.87,226.52 671.18,226.52 671.49,226.52 671.79,226.52 672.10,226.52 672.41,226.52 672.71,226.52 673.02,226.52 673.33,226.52 673.63,226.52 673.94,226.52 674.24,226.52 674.55,226.52 674.86,226.52 675.16,226.52 675.47,226.52 675.78,226.52 676.08,226.52 676.39,226.52 676.70,226.52 677.00,226.52 677.31,226.52 677.62,226.52 677.92,226.52 678.23,226.52 678.54,226.52 678.84,226.52 679.15,226.52 679.46,226.52 679.76,226.52 680.07,226.52 680.38,226.52 680.68,226.52 680.99,226.52 681.30,226.52 681.60,226.52 681.91,226.52 682.22,226.52 682.52,226.52 682.83,226.52 683.14,226.52 683.44,226.52 683.75,226.52" fill="none" stroke="#0072B2" stroke-width="1.6" stroke-linejoin="round"/>
<line x1="574.45" y1="274.66" x2="590.75" y2="274.66" stroke="#0072B2" stroke-width="2.0" />
<line x1="484.45" y1="18.86" x2="488.05" y2="18.86" stroke="#000000" stroke-width="1.6" />
<line x1="683.75" y1="18.86" x2="680.15" y2="18.86" stroke="#000000" stroke-width="1.6" />
<text transform="translate(481.15,22.76) scale(1,1.06)" text-anchor="end" font-size="9.3" >0</text>
<line x1="484.45" y1="37.14" x2="488.05" y2="37.14" stroke="#000000" stroke-width="1.6" />
<line x1="683.75" y1="37.14" x2="680.15" y2="37.14" stroke="#000000" stroke-width="1.6" />
<text transform="translate(481.15,41.04) scale(1,1.06)" text-anchor="end" font-size="9.3" >−5</text>
<line x1="484.45" y1="55.42" x2="488.05" y2="55.42" stroke="#000000" stroke-width="1.6" />
<line x1="683.75" y1="55.42" x2="680.15" y2="55.42" stroke="#000000" stroke-width="1.6" />
<text transform="translate(481.15,59.32) scale(1,1.06)" text-anchor="end" font-size="9.3" >−10</text>
<line x1="484.45" y1="73.71" x2="488.05" y2="73.71" stroke="#000000" stroke-width="1.6" />
<line x1="683.75" y1="73.71" x2="680.15" y2="73.71" stroke="#000000" stroke-width="1.6" />
<text transform="translate(481.15,77.61) scale(1,1.06)" text-anchor="end" font-size="9.3" >−15</text>
<line x1="484.45" y1="28.00" x2="486.45" y2="28.00" stroke="#000000" stroke-width="1.6" />
<line x1="683.75" y1="28.00" x2="681.75" y2="28.00" stroke="#000000" stroke-width="1.6" />
<line x1="484.45" y1="46.28" x2="486.45" y2="46.28" stroke="#000000" stroke-width="1.6" />
<line x1="683.75" y1="46.28" x2="681.75" y2="46.28" stroke="#000000" stroke-width="1.6" />
<line x1="484.45" y1="64.57" x2="486.45" y2="64.57" stroke="#000000" stroke-width="1.6" />
<line x1="683.75" y1="64.57" x2="681.75" y2="64.57" stroke="#000000" stroke-width="1.6" />
<line x1="484.45" y1="88.08" x2="488.05" y2="88.08" stroke="#000000" stroke-width="1.6" />
<line x1="683.75" y1="88.08" x2="680.15" y2="88.08" stroke="#000000" stroke-width="1.6" />
<text transform="translate(481.15,91.98) scale(1,1.06)" text-anchor="end" font-size="9.3" >0</text>
<line x1="484.45" y1="106.36" x2="488.05" y2="106.36" stroke="#000000" stroke-width="1.6" />
<line x1="683.75" y1="106.36" x2="680.15" y2="106.36" stroke="#000000" stroke-width="1.6" />
<text transform="translate(481.15,110.26) scale(1,1.06)" text-anchor="end" font-size="9.3" >−5</text>
<line x1="484.45" y1="124.64" x2="488.05" y2="124.64" stroke="#000000" stroke-width="1.6" />
<line x1="683.75" y1="124.64" x2="680.15" y2="124.64" stroke="#000000" stroke-width="1.6" />
<text transform="translate(481.15,128.54) scale(1,1.06)" text-anchor="end" font-size="9.3" >−10</text>
<line x1="484.45" y1="142.93" x2="488.05" y2="142.93" stroke="#000000" stroke-width="1.6" />
<line x1="683.75" y1="142.93" x2="680.15" y2="142.93" stroke="#000000" stroke-width="1.6" />
<text transform="translate(481.15,146.83) scale(1,1.06)" text-anchor="end" font-size="9.3" >−15</text>
<line x1="484.45" y1="97.22" x2="486.45" y2="97.22" stroke="#000000" stroke-width="1.6" />
<line x1="683.75" y1="97.22" x2="681.75" y2="97.22" stroke="#000000" stroke-width="1.6" />
<line x1="484.45" y1="115.50" x2="486.45" y2="115.50" stroke="#000000" stroke-width="1.6" />
<line x1="683.75" y1="115.50" x2="681.75" y2="115.50" stroke="#000000" stroke-width="1.6" />
<line x1="484.45" y1="133.79" x2="486.45" y2="133.79" stroke="#000000" stroke-width="1.6" />
<line x1="683.75" y1="133.79" x2="681.75" y2="133.79" stroke="#000000" stroke-width="1.6" />
<line x1="484.45" y1="157.30" x2="488.05" y2="157.30" stroke="#000000" stroke-width="1.6" />
<line x1="683.75" y1="157.30" x2="680.15" y2="157.30" stroke="#000000" stroke-width="1.6" />
<text transform="translate(481.15,161.20) scale(1,1.06)" text-anchor="end" font-size="9.3" >0</text>
<line x1="484.45" y1="175.58" x2="488.05" y2="175.58" stroke="#000000" stroke-width="1.6" />
<line x1="683.75" y1="175.58" x2="680.15" y2="175.58" stroke="#000000" stroke-width="1.6" />
<text transform="translate(481.15,179.48) scale(1,1.06)" text-anchor="end" font-size="9.3" >−5</text>
<line x1="484.45" y1="193.86" x2="488.05" y2="193.86" stroke="#000000" stroke-width="1.6" />
<line x1="683.75" y1="193.86" x2="680.15" y2="193.86" stroke="#000000" stroke-width="1.6" />
<text transform="translate(481.15,197.76) scale(1,1.06)" text-anchor="end" font-size="9.3" >−10</text>
<line x1="484.45" y1="212.15" x2="488.05" y2="212.15" stroke="#000000" stroke-width="1.6" />
<line x1="683.75" y1="212.15" x2="680.15" y2="212.15" stroke="#000000" stroke-width="1.6" />
<text transform="translate(481.15,216.05) scale(1,1.06)" text-anchor="end" font-size="9.3" >−15</text>
<line x1="484.45" y1="166.44" x2="486.45" y2="166.44" stroke="#000000" stroke-width="1.6" />
<line x1="683.75" y1="166.44" x2="681.75" y2="166.44" stroke="#000000" stroke-width="1.6" />
<line x1="484.45" y1="184.72" x2="486.45" y2="184.72" stroke="#000000" stroke-width="1.6" />
<line x1="683.75" y1="184.72" x2="681.75" y2="184.72" stroke="#000000" stroke-width="1.6" />
<line x1="484.45" y1="203.01" x2="486.45" y2="203.01" stroke="#000000" stroke-width="1.6" />
<line x1="683.75" y1="203.01" x2="681.75" y2="203.01" stroke="#000000" stroke-width="1.6" />
<line x1="484.45" y1="226.52" x2="488.05" y2="226.52" stroke="#000000" stroke-width="1.6" />
<line x1="683.75" y1="226.52" x2="680.15" y2="226.52" stroke="#000000" stroke-width="1.6" />
<text transform="translate(481.15,230.42) scale(1,1.06)" text-anchor="end" font-size="9.3" >0</text>
<line x1="484.45" y1="244.80" x2="488.05" y2="244.80" stroke="#000000" stroke-width="1.6" />
<line x1="683.75" y1="244.80" x2="680.15" y2="244.80" stroke="#000000" stroke-width="1.6" />
<text transform="translate(481.15,248.70) scale(1,1.06)" text-anchor="end" font-size="9.3" >−5</text>
<line x1="484.45" y1="263.08" x2="488.05" y2="263.08" stroke="#000000" stroke-width="1.6" />
<line x1="683.75" y1="263.08" x2="680.15" y2="263.08" stroke="#000000" stroke-width="1.6" />
<text transform="translate(481.15,266.98) scale(1,1.06)" text-anchor="end" font-size="9.3" >−10</text>
<line x1="484.45" y1="281.37" x2="488.05" y2="281.37" stroke="#000000" stroke-width="1.6" />
<line x1="683.75" y1="281.37" x2="680.15" y2="281.37" stroke="#000000" stroke-width="1.6" />
<text transform="translate(481.15,285.27) scale(1,1.06)" text-anchor="end" font-size="9.3" >−15</text>
<line x1="484.45" y1="235.66" x2="486.45" y2="235.66" stroke="#000000" stroke-width="1.6" />
<line x1="683.75" y1="235.66" x2="681.75" y2="235.66" stroke="#000000" stroke-width="1.6" />
<line x1="484.45" y1="253.94" x2="486.45" y2="253.94" stroke="#000000" stroke-width="1.6" />
<line x1="683.75" y1="253.94" x2="681.75" y2="253.94" stroke="#000000" stroke-width="1.6" />
<line x1="484.45" y1="272.23" x2="486.45" y2="272.23" stroke="#000000" stroke-width="1.6" />
<line x1="683.75" y1="272.23" x2="681.75" y2="272.23" stroke="#000000" stroke-width="1.6" />
<line x1="515.11" y1="11.80" x2="515.11" y2="13.80" stroke="#000000" stroke-width="1.6" />
<line x1="515.11" y1="288.68" x2="515.11" y2="286.68" stroke="#000000" stroke-width="1.6" />
<line x1="545.77" y1="11.80" x2="545.77" y2="15.40" stroke="#000000" stroke-width="1.6" />
<line x1="545.77" y1="288.68" x2="545.77" y2="285.08" stroke="#000000" stroke-width="1.6" />
<line x1="576.43" y1="11.80" x2="576.43" y2="13.80" stroke="#000000" stroke-width="1.6" />
<line x1="576.43" y1="288.68" x2="576.43" y2="286.68" stroke="#000000" stroke-width="1.6" />
<line x1="607.10" y1="11.80" x2="607.10" y2="15.40" stroke="#000000" stroke-width="1.6" />
<line x1="607.10" y1="288.68" x2="607.10" y2="285.08" stroke="#000000" stroke-width="1.6" />
<line x1="637.76" y1="11.80" x2="637.76" y2="13.80" stroke="#000000" stroke-width="1.6" />
<line x1="637.76" y1="288.68" x2="637.76" y2="286.68" stroke="#000000" stroke-width="1.6" />
<line x1="668.42" y1="11.80" x2="668.42" y2="15.40" stroke="#000000" stroke-width="1.6" />
<line x1="668.42" y1="288.68" x2="668.42" y2="285.08" stroke="#000000" stroke-width="1.6" />
<text transform="translate(484.45,303.40) scale(1,1.06)" text-anchor="middle" font-size="9.3" >600</text>
<text transform="translate(545.77,303.40) scale(1,1.06)" text-anchor="middle" font-size="9.3" >800</text>
<text transform="translate(607.10,303.40) scale(1,1.06)" text-anchor="middle" font-size="9.3" >1000</text>
<text transform="translate(668.42,303.40) scale(1,1.06)" text-anchor="middle" font-size="9.3" >1200</text>
<line x1="484.45" y1="81.02" x2="683.75" y2="81.02" stroke="#000000" stroke-width="1.6" />
<line x1="484.45" y1="150.24" x2="683.75" y2="150.24" stroke="#000000" stroke-width="1.6" />
<line x1="484.45" y1="219.46" x2="683.75" y2="219.46" stroke="#000000" stroke-width="1.6" />
<rect x="484.45" y="11.80" width="199.30" height="276.88" fill="none" stroke="#000000" stroke-width="1.6"/>
<text transform="translate(582.80,316.00) scale(1,1.06)" text-anchor="middle" font-size="9.6" >Frequency (MHz)</text>
<text transform="translate(584.60,7.00) scale(1,1.06)" text-anchor="middle" font-size="9.7" >PRA</text>
<polyline points="43.39,441.37 70.99,440.54 98.59,441.98 126.19,440.79 153.79,441.40 181.39,442.19 208.99,442.19" fill="none" stroke="#E69F00" stroke-width="1.6"/>
<line x1="43.39" y1="437.78" x2="43.39" y2="444.95" stroke="#E69F00" stroke-width="1.4" />
<line x1="41.19" y1="437.78" x2="45.59" y2="437.78" stroke="#E69F00" stroke-width="1.6" />
<line x1="41.19" y1="444.95" x2="45.59" y2="444.95" stroke="#E69F00" stroke-width="1.6" />
<circle cx="43.39" cy="441.37" r="2.95" fill="#E69F00"/>
<line x1="70.99" y1="436.24" x2="70.99" y2="444.85" stroke="#E69F00" stroke-width="1.4" />
<line x1="68.79" y1="436.24" x2="73.19" y2="436.24" stroke="#E69F00" stroke-width="1.6" />
<line x1="68.79" y1="444.85" x2="73.19" y2="444.85" stroke="#E69F00" stroke-width="1.6" />
<circle cx="70.99" cy="440.54" r="2.95" fill="#E69F00"/>
<line x1="98.59" y1="438.75" x2="98.59" y2="445.21" stroke="#E69F00" stroke-width="1.4" />
<line x1="96.39" y1="438.75" x2="100.79" y2="438.75" stroke="#E69F00" stroke-width="1.6" />
<line x1="96.39" y1="445.21" x2="100.79" y2="445.21" stroke="#E69F00" stroke-width="1.6" />
<circle cx="98.59" cy="441.98" r="2.95" fill="#E69F00"/>
<line x1="126.19" y1="436.42" x2="126.19" y2="445.17" stroke="#E69F00" stroke-width="1.4" />
<line x1="123.99" y1="436.42" x2="128.39" y2="436.42" stroke="#E69F00" stroke-width="1.6" />
<line x1="123.99" y1="445.17" x2="128.39" y2="445.17" stroke="#E69F00" stroke-width="1.6" />
<circle cx="126.19" cy="440.79" r="2.95" fill="#E69F00"/>
<line x1="153.79" y1="437.21" x2="153.79" y2="445.60" stroke="#E69F00" stroke-width="1.4" />
<line x1="151.59" y1="437.21" x2="155.99" y2="437.21" stroke="#E69F00" stroke-width="1.6" />
<line x1="151.59" y1="445.60" x2="155.99" y2="445.60" stroke="#E69F00" stroke-width="1.6" />
<circle cx="153.79" cy="441.40" r="2.95" fill="#E69F00"/>
<line x1="181.39" y1="439.79" x2="181.39" y2="444.60" stroke="#E69F00" stroke-width="1.4" />
<line x1="179.19" y1="439.79" x2="183.59" y2="439.79" stroke="#E69F00" stroke-width="1.6" />
<line x1="179.19" y1="444.60" x2="183.59" y2="444.60" stroke="#E69F00" stroke-width="1.6" />
<circle cx="181.39" cy="442.19" r="2.95" fill="#E69F00"/>
<line x1="208.99" y1="439.79" x2="208.99" y2="444.60" stroke="#E69F00" stroke-width="1.4" />
<line x1="206.79" y1="439.79" x2="211.19" y2="439.79" stroke="#E69F00" stroke-width="1.6" />
<line x1="206.79" y1="444.60" x2="211.19" y2="444.60" stroke="#E69F00" stroke-width="1.6" />
<circle cx="208.99" cy="442.19" r="2.95" fill="#E69F00"/>
<polyline points="43.39,419.20 70.99,418.67 98.59,419.38 126.19,418.59 153.79,419.49 181.39,419.10 208.99,419.49" fill="none" stroke="#000000" stroke-width="1.6"/>
<line x1="43.39" y1="415.62" x2="43.39" y2="422.79" stroke="#000000" stroke-width="1.4" />
<line x1="41.19" y1="415.62" x2="45.59" y2="415.62" stroke="#000000" stroke-width="1.6" />
<line x1="41.19" y1="422.79" x2="45.59" y2="422.79" stroke="#000000" stroke-width="1.6" />
<circle cx="43.39" cy="419.20" r="2.95" fill="#000000"/>
<line x1="70.99" y1="414.36" x2="70.99" y2="422.97" stroke="#000000" stroke-width="1.4" />
<line x1="68.79" y1="414.36" x2="73.19" y2="414.36" stroke="#000000" stroke-width="1.6" />
<line x1="68.79" y1="422.97" x2="73.19" y2="422.97" stroke="#000000" stroke-width="1.6" />
<circle cx="70.99" cy="418.67" r="2.95" fill="#000000"/>
<line x1="98.59" y1="415.80" x2="98.59" y2="422.97" stroke="#000000" stroke-width="1.4" />
<line x1="96.39" y1="415.80" x2="100.79" y2="415.80" stroke="#000000" stroke-width="1.6" />
<line x1="96.39" y1="422.97" x2="100.79" y2="422.97" stroke="#000000" stroke-width="1.6" />
<circle cx="98.59" cy="419.38" r="2.95" fill="#000000"/>
<line x1="126.19" y1="414.40" x2="126.19" y2="422.79" stroke="#000000" stroke-width="1.4" />
<line x1="123.99" y1="414.40" x2="128.39" y2="414.40" stroke="#000000" stroke-width="1.6" />
<line x1="123.99" y1="422.79" x2="128.39" y2="422.79" stroke="#000000" stroke-width="1.6" />
<circle cx="126.19" cy="418.59" r="2.95" fill="#000000"/>
<line x1="153.79" y1="415.65" x2="153.79" y2="423.33" stroke="#000000" stroke-width="1.4" />
<line x1="151.59" y1="415.65" x2="155.99" y2="415.65" stroke="#000000" stroke-width="1.6" />
<line x1="151.59" y1="423.33" x2="155.99" y2="423.33" stroke="#000000" stroke-width="1.6" />
<circle cx="153.79" cy="419.49" r="2.95" fill="#000000"/>
<line x1="181.39" y1="415.26" x2="181.39" y2="422.93" stroke="#000000" stroke-width="1.4" />
<line x1="179.19" y1="415.26" x2="183.59" y2="415.26" stroke="#000000" stroke-width="1.6" />
<line x1="179.19" y1="422.93" x2="183.59" y2="422.93" stroke="#000000" stroke-width="1.6" />
<circle cx="181.39" cy="419.10" r="2.95" fill="#000000"/>
<line x1="208.99" y1="416.16" x2="208.99" y2="422.83" stroke="#000000" stroke-width="1.4" />
<line x1="206.79" y1="416.16" x2="211.19" y2="416.16" stroke="#000000" stroke-width="1.6" />
<line x1="206.79" y1="422.83" x2="211.19" y2="422.83" stroke="#000000" stroke-width="1.6" />
<circle cx="208.99" cy="419.49" r="2.95" fill="#000000"/>
<line x1="29.80" y1="481.43" x2="33.40" y2="481.43" stroke="#000000" stroke-width="1.6" />
<line x1="229.80" y1="481.43" x2="226.20" y2="481.43" stroke="#000000" stroke-width="1.6" />
<text transform="translate(26.50,485.03) scale(1,1.06)" text-anchor="end" font-size="9.3" >1</text>
<line x1="29.80" y1="445.56" x2="33.40" y2="445.56" stroke="#000000" stroke-width="1.6" />
<line x1="229.80" y1="445.56" x2="226.20" y2="445.56" stroke="#000000" stroke-width="1.6" />
<text transform="translate(26.50,449.16) scale(1,1.06)" text-anchor="end" font-size="9.3" >2</text>
<line x1="29.80" y1="409.70" x2="33.40" y2="409.70" stroke="#000000" stroke-width="1.6" />
<line x1="229.80" y1="409.70" x2="226.20" y2="409.70" stroke="#000000" stroke-width="1.6" />
<text transform="translate(26.50,413.30) scale(1,1.06)" text-anchor="end" font-size="9.3" >3</text>
<line x1="29.80" y1="373.84" x2="33.40" y2="373.84" stroke="#000000" stroke-width="1.6" />
<line x1="229.80" y1="373.84" x2="226.20" y2="373.84" stroke="#000000" stroke-width="1.6" />
<text transform="translate(26.50,377.44) scale(1,1.06)" text-anchor="end" font-size="9.3" >4</text>
<line x1="29.80" y1="337.97" x2="33.40" y2="337.97" stroke="#000000" stroke-width="1.6" />
<line x1="229.80" y1="337.97" x2="226.20" y2="337.97" stroke="#000000" stroke-width="1.6" />
<text transform="translate(26.50,341.57) scale(1,1.06)" text-anchor="end" font-size="9.3" >5</text>
<line x1="29.80" y1="463.50" x2="31.80" y2="463.50" stroke="#000000" stroke-width="1.6" />
<line x1="229.80" y1="463.50" x2="227.80" y2="463.50" stroke="#000000" stroke-width="1.6" />
<line x1="29.80" y1="427.63" x2="31.80" y2="427.63" stroke="#000000" stroke-width="1.6" />
<line x1="229.80" y1="427.63" x2="227.80" y2="427.63" stroke="#000000" stroke-width="1.6" />
<line x1="29.80" y1="391.77" x2="31.80" y2="391.77" stroke="#000000" stroke-width="1.6" />
<line x1="229.80" y1="391.77" x2="227.80" y2="391.77" stroke="#000000" stroke-width="1.6" />
<line x1="29.80" y1="355.90" x2="31.80" y2="355.90" stroke="#000000" stroke-width="1.6" />
<line x1="229.80" y1="355.90" x2="227.80" y2="355.90" stroke="#000000" stroke-width="1.6" />
<line x1="43.39" y1="330.80" x2="43.39" y2="334.40" stroke="#000000" stroke-width="1.6" />
<line x1="43.39" y1="488.60" x2="43.39" y2="485.00" stroke="#000000" stroke-width="1.6" />
<line x1="64.09" y1="330.80" x2="64.09" y2="332.80" stroke="#000000" stroke-width="1.6" />
<line x1="64.09" y1="488.60" x2="64.09" y2="486.60" stroke="#000000" stroke-width="1.6" />
<line x1="84.79" y1="330.80" x2="84.79" y2="334.40" stroke="#000000" stroke-width="1.6" />
<line x1="84.79" y1="488.60" x2="84.79" y2="485.00" stroke="#000000" stroke-width="1.6" />
<line x1="105.49" y1="330.80" x2="105.49" y2="332.80" stroke="#000000" stroke-width="1.6" />
<line x1="105.49" y1="488.60" x2="105.49" y2="486.60" stroke="#000000" stroke-width="1.6" />
<line x1="126.19" y1="330.80" x2="126.19" y2="334.40" stroke="#000000" stroke-width="1.6" />
<line x1="126.19" y1="488.60" x2="126.19" y2="485.00" stroke="#000000" stroke-width="1.6" />
<line x1="146.89" y1="330.80" x2="146.89" y2="332.80" stroke="#000000" stroke-width="1.6" />
<line x1="146.89" y1="488.60" x2="146.89" y2="486.60" stroke="#000000" stroke-width="1.6" />
<line x1="167.59" y1="330.80" x2="167.59" y2="334.40" stroke="#000000" stroke-width="1.6" />
<line x1="167.59" y1="488.60" x2="167.59" y2="485.00" stroke="#000000" stroke-width="1.6" />
<line x1="188.29" y1="330.80" x2="188.29" y2="332.80" stroke="#000000" stroke-width="1.6" />
<line x1="188.29" y1="488.60" x2="188.29" y2="486.60" stroke="#000000" stroke-width="1.6" />
<line x1="208.99" y1="330.80" x2="208.99" y2="334.40" stroke="#000000" stroke-width="1.6" />
<line x1="208.99" y1="488.60" x2="208.99" y2="485.00" stroke="#000000" stroke-width="1.6" />
<text transform="translate(41.59,502.30) scale(1,1.06)" text-anchor="middle" font-size="9.3" >60</text>
<text transform="translate(83.29,502.30) scale(1,1.06)" text-anchor="middle" font-size="9.3" >90</text>
<text transform="translate(126.19,502.30) scale(1,1.06)" text-anchor="middle" font-size="9.3" >120</text>
<text transform="translate(167.59,502.30) scale(1,1.06)" text-anchor="middle" font-size="9.3" >150</text>
<text transform="translate(208.69,502.30) scale(1,1.06)" text-anchor="middle" font-size="9.3" >180</text>
<rect x="29.80" y="330.80" width="200.00" height="157.80" fill="none" stroke="#000000" stroke-width="1.6"/>
<text transform="translate(129.40,515.80) scale(1,1.06)" text-anchor="middle" font-size="9.6" >Distance (cm)</text>
<line x1="95.40" y1="345.40" x2="115.00" y2="345.40" stroke="#E69F00" stroke-width="1.6" />
<circle cx="105.20" cy="345.40" r="2.85" fill="#E69F00"/>
<text x="121.40" y="349.70" font-size="10">|S<tspan font-size="6.45" dy="1.5">11</tspan><tspan dy="-1.5">|</tspan><tspan font-size="6.45" dy="1.5">EC</tspan><tspan dy="-1.5">/|S</tspan><tspan font-size="6.45" dy="1.5">11</tspan><tspan dy="-1.5">|</tspan><tspan font-size="6.45" dy="1.5">Ref</tspan></text>
<line x1="95.40" y1="362.00" x2="115.00" y2="362.00" stroke="#000000" stroke-width="1.6" />
<circle cx="105.20" cy="362.00" r="2.85" fill="#000000"/>
<text x="121.40" y="366.30" font-size="10">|S<tspan font-size="6.45" dy="1.5">11</tspan><tspan dy="-1.5">|</tspan><tspan font-size="6.45" dy="1.5">VWC</tspan><tspan dy="-1.5">/|S</tspan><tspan font-size="6.45" dy="1.5">11</tspan><tspan dy="-1.5">|</tspan><tspan font-size="6.45" dy="1.5">Ref</tspan></text>
<polyline points="272.29,439.83 299.89,441.01 327.49,442.41 355.09,440.11 382.69,441.30 410.29,439.61 437.89,438.39" fill="none" stroke="#E69F00" stroke-width="1.6"/>
<line x1="272.29" y1="435.02" x2="272.29" y2="444.63" stroke="#E69F00" stroke-width="1.4" />
<line x1="270.09" y1="435.02" x2="274.49" y2="435.02" stroke="#E69F00" stroke-width="1.6" />
<line x1="270.09" y1="444.63" x2="274.49" y2="444.63" stroke="#E69F00" stroke-width="1.6" />
<circle cx="272.29" cy="439.83" r="2.95" fill="#E69F00"/>
<line x1="299.89" y1="436.92" x2="299.89" y2="445.10" stroke="#E69F00" stroke-width="1.4" />
<line x1="297.69" y1="436.92" x2="302.09" y2="436.92" stroke="#E69F00" stroke-width="1.6" />
<line x1="297.69" y1="445.10" x2="302.09" y2="445.10" stroke="#E69F00" stroke-width="1.6" />
<circle cx="299.89" cy="441.01" r="2.95" fill="#E69F00"/>
<line x1="327.49" y1="439.90" x2="327.49" y2="444.92" stroke="#E69F00" stroke-width="1.4" />
<line x1="325.29" y1="439.90" x2="329.69" y2="439.90" stroke="#E69F00" stroke-width="1.6" />
<line x1="325.29" y1="444.92" x2="329.69" y2="444.92" stroke="#E69F00" stroke-width="1.6" />
<circle cx="327.49" cy="442.41" r="2.95" fill="#E69F00"/>
<line x1="355.09" y1="435.45" x2="355.09" y2="444.77" stroke="#E69F00" stroke-width="1.4" />
<line x1="352.89" y1="435.45" x2="357.29" y2="435.45" stroke="#E69F00" stroke-width="1.6" />
<line x1="352.89" y1="444.77" x2="357.29" y2="444.77" stroke="#E69F00" stroke-width="1.6" />
<circle cx="355.09" cy="440.11" r="2.95" fill="#E69F00"/>
<line x1="382.69" y1="437.35" x2="382.69" y2="445.24" stroke="#E69F00" stroke-width="1.4" />
<line x1="380.49" y1="437.35" x2="384.89" y2="437.35" stroke="#E69F00" stroke-width="1.6" />
<line x1="380.49" y1="445.24" x2="384.89" y2="445.24" stroke="#E69F00" stroke-width="1.6" />
<circle cx="382.69" cy="441.30" r="2.95" fill="#E69F00"/>
<line x1="410.29" y1="434.80" x2="410.29" y2="444.42" stroke="#E69F00" stroke-width="1.4" />
<line x1="408.09" y1="434.80" x2="412.49" y2="434.80" stroke="#E69F00" stroke-width="1.6" />
<line x1="408.09" y1="444.42" x2="412.49" y2="444.42" stroke="#E69F00" stroke-width="1.6" />
<circle cx="410.29" cy="439.61" r="2.95" fill="#E69F00"/>
<line x1="437.89" y1="432.29" x2="437.89" y2="444.49" stroke="#E69F00" stroke-width="1.4" />
<line x1="435.69" y1="432.29" x2="440.09" y2="432.29" stroke="#E69F00" stroke-width="1.6" />
<line x1="435.69" y1="444.49" x2="440.09" y2="444.49" stroke="#E69F00" stroke-width="1.6" />
<circle cx="437.89" cy="438.39" r="2.95" fill="#E69F00"/>
<polyline points="272.29,406.80 299.89,403.28 327.49,402.49 355.09,405.58 382.69,401.88 410.29,402.53 437.89,401.20" fill="none" stroke="#000000" stroke-width="1.6"/>
<line x1="272.29" y1="401.56" x2="272.29" y2="412.03" stroke="#000000" stroke-width="1.4" />
<line x1="270.09" y1="401.56" x2="274.49" y2="401.56" stroke="#000000" stroke-width="1.6" />
<line x1="270.09" y1="412.03" x2="274.49" y2="412.03" stroke="#000000" stroke-width="1.6" />
<circle cx="272.29" cy="406.80" r="2.95" fill="#000000"/>
<line x1="299.89" y1="399.19" x2="299.89" y2="407.37" stroke="#000000" stroke-width="1.4" />
<line x1="297.69" y1="399.19" x2="302.09" y2="399.19" stroke="#000000" stroke-width="1.6" />
<line x1="297.69" y1="407.37" x2="302.09" y2="407.37" stroke="#000000" stroke-width="1.6" />
<circle cx="299.89" cy="403.28" r="2.95" fill="#000000"/>
<line x1="327.49" y1="398.19" x2="327.49" y2="406.80" stroke="#000000" stroke-width="1.4" />
<line x1="325.29" y1="398.19" x2="329.69" y2="398.19" stroke="#000000" stroke-width="1.6" />
<line x1="325.29" y1="406.80" x2="329.69" y2="406.80" stroke="#000000" stroke-width="1.6" />
<circle cx="327.49" cy="402.49" r="2.95" fill="#000000"/>
<line x1="355.09" y1="402.71" x2="355.09" y2="408.44" stroke="#000000" stroke-width="1.4" />
<line x1="352.89" y1="402.71" x2="357.29" y2="402.71" stroke="#000000" stroke-width="1.6" />
<line x1="352.89" y1="408.44" x2="357.29" y2="408.44" stroke="#000000" stroke-width="1.6" />
<circle cx="355.09" cy="405.58" r="2.95" fill="#000000"/>
<line x1="382.69" y1="397.18" x2="382.69" y2="406.58" stroke="#000000" stroke-width="1.4" />
<line x1="380.49" y1="397.18" x2="384.89" y2="397.18" stroke="#000000" stroke-width="1.6" />
<line x1="380.49" y1="406.58" x2="384.89" y2="406.58" stroke="#000000" stroke-width="1.6" />
<circle cx="382.69" cy="401.88" r="2.95" fill="#000000"/>
<line x1="410.29" y1="397.47" x2="410.29" y2="407.58" stroke="#000000" stroke-width="1.4" />
<line x1="408.09" y1="397.47" x2="412.49" y2="397.47" stroke="#000000" stroke-width="1.6" />
<line x1="408.09" y1="407.58" x2="412.49" y2="407.58" stroke="#000000" stroke-width="1.6" />
<circle cx="410.29" cy="402.53" r="2.95" fill="#000000"/>
<line x1="437.89" y1="395.53" x2="437.89" y2="406.87" stroke="#000000" stroke-width="1.4" />
<line x1="435.69" y1="395.53" x2="440.09" y2="395.53" stroke="#000000" stroke-width="1.6" />
<line x1="435.69" y1="406.87" x2="440.09" y2="406.87" stroke="#000000" stroke-width="1.6" />
<circle cx="437.89" cy="401.20" r="2.95" fill="#000000"/>
<line x1="258.70" y1="481.43" x2="262.30" y2="481.43" stroke="#000000" stroke-width="1.6" />
<line x1="458.70" y1="481.43" x2="455.10" y2="481.43" stroke="#000000" stroke-width="1.6" />
<text transform="translate(255.40,485.03) scale(1,1.06)" text-anchor="end" font-size="9.3" >1</text>
<line x1="258.70" y1="445.56" x2="262.30" y2="445.56" stroke="#000000" stroke-width="1.6" />
<line x1="458.70" y1="445.56" x2="455.10" y2="445.56" stroke="#000000" stroke-width="1.6" />
<text transform="translate(255.40,449.16) scale(1,1.06)" text-anchor="end" font-size="9.3" >2</text>
<line x1="258.70" y1="409.70" x2="262.30" y2="409.70" stroke="#000000" stroke-width="1.6" />
<line x1="458.70" y1="409.70" x2="455.10" y2="409.70" stroke="#000000" stroke-width="1.6" />
<text transform="translate(255.40,413.30) scale(1,1.06)" text-anchor="end" font-size="9.3" >3</text>
<line x1="258.70" y1="373.84" x2="262.30" y2="373.84" stroke="#000000" stroke-width="1.6" />
<line x1="458.70" y1="373.84" x2="455.10" y2="373.84" stroke="#000000" stroke-width="1.6" />
<text transform="translate(255.40,377.44) scale(1,1.06)" text-anchor="end" font-size="9.3" >4</text>
<line x1="258.70" y1="337.97" x2="262.30" y2="337.97" stroke="#000000" stroke-width="1.6" />
<line x1="458.70" y1="337.97" x2="455.10" y2="337.97" stroke="#000000" stroke-width="1.6" />
<text transform="translate(255.40,341.57) scale(1,1.06)" text-anchor="end" font-size="9.3" >5</text>
<line x1="258.70" y1="463.50" x2="260.70" y2="463.50" stroke="#000000" stroke-width="1.6" />
<line x1="458.70" y1="463.50" x2="456.70" y2="463.50" stroke="#000000" stroke-width="1.6" />
<line x1="258.70" y1="427.63" x2="260.70" y2="427.63" stroke="#000000" stroke-width="1.6" />
<line x1="458.70" y1="427.63" x2="456.70" y2="427.63" stroke="#000000" stroke-width="1.6" />
<line x1="258.70" y1="391.77" x2="260.70" y2="391.77" stroke="#000000" stroke-width="1.6" />
<line x1="458.70" y1="391.77" x2="456.70" y2="391.77" stroke="#000000" stroke-width="1.6" />
<line x1="258.70" y1="355.90" x2="260.70" y2="355.90" stroke="#000000" stroke-width="1.6" />
<line x1="458.70" y1="355.90" x2="456.70" y2="355.90" stroke="#000000" stroke-width="1.6" />
<line x1="272.29" y1="330.80" x2="272.29" y2="334.40" stroke="#000000" stroke-width="1.6" />
<line x1="272.29" y1="488.60" x2="272.29" y2="485.00" stroke="#000000" stroke-width="1.6" />
<line x1="292.99" y1="330.80" x2="292.99" y2="332.80" stroke="#000000" stroke-width="1.6" />
<line x1="292.99" y1="488.60" x2="292.99" y2="486.60" stroke="#000000" stroke-width="1.6" />
<line x1="313.69" y1="330.80" x2="313.69" y2="334.40" stroke="#000000" stroke-width="1.6" />
<line x1="313.69" y1="488.60" x2="313.69" y2="485.00" stroke="#000000" stroke-width="1.6" />
<line x1="334.39" y1="330.80" x2="334.39" y2="332.80" stroke="#000000" stroke-width="1.6" />
<line x1="334.39" y1="488.60" x2="334.39" y2="486.60" stroke="#000000" stroke-width="1.6" />
<line x1="355.09" y1="330.80" x2="355.09" y2="334.40" stroke="#000000" stroke-width="1.6" />
<line x1="355.09" y1="488.60" x2="355.09" y2="485.00" stroke="#000000" stroke-width="1.6" />
<line x1="375.79" y1="330.80" x2="375.79" y2="332.80" stroke="#000000" stroke-width="1.6" />
<line x1="375.79" y1="488.60" x2="375.79" y2="486.60" stroke="#000000" stroke-width="1.6" />
<line x1="396.49" y1="330.80" x2="396.49" y2="334.40" stroke="#000000" stroke-width="1.6" />
<line x1="396.49" y1="488.60" x2="396.49" y2="485.00" stroke="#000000" stroke-width="1.6" />
<line x1="417.19" y1="330.80" x2="417.19" y2="332.80" stroke="#000000" stroke-width="1.6" />
<line x1="417.19" y1="488.60" x2="417.19" y2="486.60" stroke="#000000" stroke-width="1.6" />
<line x1="437.89" y1="330.80" x2="437.89" y2="334.40" stroke="#000000" stroke-width="1.6" />
<line x1="437.89" y1="488.60" x2="437.89" y2="485.00" stroke="#000000" stroke-width="1.6" />
<text transform="translate(268.79,502.30) scale(1,1.06)" text-anchor="middle" font-size="9.3" >60</text>
<text transform="translate(311.19,502.30) scale(1,1.06)" text-anchor="middle" font-size="9.3" >90</text>
<text transform="translate(353.29,502.30) scale(1,1.06)" text-anchor="middle" font-size="9.3" >120</text>
<text transform="translate(394.49,502.30) scale(1,1.06)" text-anchor="middle" font-size="9.3" >150</text>
<text transform="translate(436.39,502.30) scale(1,1.06)" text-anchor="middle" font-size="9.3" >180</text>
<rect x="258.70" y="330.80" width="200.00" height="157.80" fill="none" stroke="#000000" stroke-width="1.6"/>
<text transform="translate(358.30,515.80) scale(1,1.06)" text-anchor="middle" font-size="9.6" >Distance (cm)</text>
<line x1="324.30" y1="345.40" x2="343.90" y2="345.40" stroke="#E69F00" stroke-width="1.6" />
<circle cx="334.10" cy="345.40" r="2.85" fill="#E69F00"/>
<text x="350.30" y="349.70" font-size="10">|S<tspan font-size="6.45" dy="1.5">11</tspan><tspan dy="-1.5">|</tspan><tspan font-size="6.45" dy="1.5">EC</tspan><tspan dy="-1.5">/|S</tspan><tspan font-size="6.45" dy="1.5">11</tspan><tspan dy="-1.5">|</tspan><tspan font-size="6.45" dy="1.5">Ref</tspan></text>
<line x1="324.30" y1="362.00" x2="343.90" y2="362.00" stroke="#000000" stroke-width="1.6" />
<circle cx="334.10" cy="362.00" r="2.85" fill="#000000"/>
<text x="350.30" y="366.30" font-size="10">|S<tspan font-size="6.45" dy="1.5">11</tspan><tspan dy="-1.5">|</tspan><tspan font-size="6.45" dy="1.5">VWC</tspan><tspan dy="-1.5">/|S</tspan><tspan font-size="6.45" dy="1.5">11</tspan><tspan dy="-1.5">|</tspan><tspan font-size="6.45" dy="1.5">Ref</tspan></text>
<polyline points="497.79,439.61 525.39,440.61 552.99,441.01 580.59,439.22 608.19,439.83 635.79,439.83 663.39,441.91" fill="none" stroke="#E69F00" stroke-width="1.6"/>
<line x1="497.79" y1="434.45" x2="497.79" y2="444.77" stroke="#E69F00" stroke-width="1.4" />
<line x1="495.59" y1="434.45" x2="499.99" y2="434.45" stroke="#E69F00" stroke-width="1.6" />
<line x1="495.59" y1="444.77" x2="499.99" y2="444.77" stroke="#E69F00" stroke-width="1.6" />
<circle cx="497.79" cy="439.61" r="2.95" fill="#E69F00"/>
<line x1="525.39" y1="436.49" x2="525.39" y2="444.74" stroke="#E69F00" stroke-width="1.4" />
<line x1="523.19" y1="436.49" x2="527.59" y2="436.49" stroke="#E69F00" stroke-width="1.6" />
<line x1="523.19" y1="444.74" x2="527.59" y2="444.74" stroke="#E69F00" stroke-width="1.6" />
<circle cx="525.39" cy="440.61" r="2.95" fill="#E69F00"/>
<line x1="552.99" y1="436.88" x2="552.99" y2="445.13" stroke="#E69F00" stroke-width="1.4" />
<line x1="550.79" y1="436.88" x2="555.19" y2="436.88" stroke="#E69F00" stroke-width="1.6" />
<line x1="550.79" y1="445.13" x2="555.19" y2="445.13" stroke="#E69F00" stroke-width="1.6" />
<circle cx="552.99" cy="441.01" r="2.95" fill="#E69F00"/>
<line x1="580.59" y1="434.41" x2="580.59" y2="444.02" stroke="#E69F00" stroke-width="1.4" />
<line x1="578.39" y1="434.41" x2="582.79" y2="434.41" stroke="#E69F00" stroke-width="1.6" />
<line x1="578.39" y1="444.02" x2="582.79" y2="444.02" stroke="#E69F00" stroke-width="1.6" />
<circle cx="580.59" cy="439.22" r="2.95" fill="#E69F00"/>
<line x1="608.19" y1="434.80" x2="608.19" y2="444.85" stroke="#E69F00" stroke-width="1.4" />
<line x1="605.99" y1="434.80" x2="610.39" y2="434.80" stroke="#E69F00" stroke-width="1.6" />
<line x1="605.99" y1="444.85" x2="610.39" y2="444.85" stroke="#E69F00" stroke-width="1.6" />
<circle cx="608.19" cy="439.83" r="2.95" fill="#E69F00"/>
<line x1="635.79" y1="435.02" x2="635.79" y2="444.63" stroke="#E69F00" stroke-width="1.4" />
<line x1="633.59" y1="435.02" x2="637.99" y2="435.02" stroke="#E69F00" stroke-width="1.6" />
<line x1="633.59" y1="444.63" x2="637.99" y2="444.63" stroke="#E69F00" stroke-width="1.6" />
<circle cx="635.79" cy="439.83" r="2.95" fill="#E69F00"/>
<line x1="663.39" y1="439.04" x2="663.39" y2="444.77" stroke="#E69F00" stroke-width="1.4" />
<line x1="661.19" y1="439.04" x2="665.59" y2="439.04" stroke="#E69F00" stroke-width="1.6" />
<line x1="661.19" y1="444.77" x2="665.59" y2="444.77" stroke="#E69F00" stroke-width="1.6" />
<circle cx="663.39" cy="441.91" r="2.95" fill="#E69F00"/>
<polyline points="497.79,408.19 525.39,403.67 552.99,404.57 580.59,402.53 608.19,404.18 635.79,402.78 663.39,404.18" fill="none" stroke="#000000" stroke-width="1.6"/>
<line x1="497.79" y1="404.97" x2="497.79" y2="411.42" stroke="#000000" stroke-width="1.4" />
<line x1="495.59" y1="404.97" x2="499.99" y2="404.97" stroke="#000000" stroke-width="1.6" />
<line x1="495.59" y1="411.42" x2="499.99" y2="411.42" stroke="#000000" stroke-width="1.6" />
<circle cx="497.79" cy="408.19" r="2.95" fill="#000000"/>
<line x1="525.39" y1="399.30" x2="525.39" y2="408.05" stroke="#000000" stroke-width="1.4" />
<line x1="523.19" y1="399.30" x2="527.59" y2="399.30" stroke="#000000" stroke-width="1.6" />
<line x1="523.19" y1="408.05" x2="527.59" y2="408.05" stroke="#000000" stroke-width="1.6" />
<circle cx="525.39" cy="403.67" r="2.95" fill="#000000"/>
<line x1="552.99" y1="402.06" x2="552.99" y2="407.08" stroke="#000000" stroke-width="1.4" />
<line x1="550.79" y1="402.06" x2="555.19" y2="402.06" stroke="#000000" stroke-width="1.6" />
<line x1="550.79" y1="407.08" x2="555.19" y2="407.08" stroke="#000000" stroke-width="1.6" />
<circle cx="552.99" cy="404.57" r="2.95" fill="#000000"/>
<line x1="580.59" y1="397.51" x2="580.59" y2="407.55" stroke="#000000" stroke-width="1.4" />
<line x1="578.39" y1="397.51" x2="582.79" y2="397.51" stroke="#000000" stroke-width="1.6" />
<line x1="578.39" y1="407.55" x2="582.79" y2="407.55" stroke="#000000" stroke-width="1.6" />
<circle cx="580.59" cy="402.53" r="2.95" fill="#000000"/>
<line x1="608.19" y1="401.31" x2="608.19" y2="407.05" stroke="#000000" stroke-width="1.4" />
<line x1="605.99" y1="401.31" x2="610.39" y2="401.31" stroke="#000000" stroke-width="1.6" />
<line x1="605.99" y1="407.05" x2="610.39" y2="407.05" stroke="#000000" stroke-width="1.6" />
<circle cx="608.19" cy="404.18" r="2.95" fill="#000000"/>
<line x1="635.79" y1="397.97" x2="635.79" y2="407.58" stroke="#000000" stroke-width="1.4" />
<line x1="633.59" y1="397.97" x2="637.99" y2="397.97" stroke="#000000" stroke-width="1.6" />
<line x1="633.59" y1="407.58" x2="637.99" y2="407.58" stroke="#000000" stroke-width="1.6" />
<circle cx="635.79" cy="402.78" r="2.95" fill="#000000"/>
<line x1="663.39" y1="401.31" x2="663.39" y2="407.05" stroke="#000000" stroke-width="1.4" />
<line x1="661.19" y1="401.31" x2="665.59" y2="401.31" stroke="#000000" stroke-width="1.6" />
<line x1="661.19" y1="407.05" x2="665.59" y2="407.05" stroke="#000000" stroke-width="1.6" />
<circle cx="663.39" cy="404.18" r="2.95" fill="#000000"/>
<line x1="484.20" y1="481.43" x2="487.80" y2="481.43" stroke="#000000" stroke-width="1.6" />
<line x1="684.20" y1="481.43" x2="680.60" y2="481.43" stroke="#000000" stroke-width="1.6" />
<text transform="translate(480.90,485.03) scale(1,1.06)" text-anchor="end" font-size="9.3" >1</text>
<line x1="484.20" y1="445.56" x2="487.80" y2="445.56" stroke="#000000" stroke-width="1.6" />
<line x1="684.20" y1="445.56" x2="680.60" y2="445.56" stroke="#000000" stroke-width="1.6" />
<text transform="translate(480.90,449.16) scale(1,1.06)" text-anchor="end" font-size="9.3" >2</text>
<line x1="484.20" y1="409.70" x2="487.80" y2="409.70" stroke="#000000" stroke-width="1.6" />
<line x1="684.20" y1="409.70" x2="680.60" y2="409.70" stroke="#000000" stroke-width="1.6" />
<text transform="translate(480.90,413.30) scale(1,1.06)" text-anchor="end" font-size="9.3" >3</text>
<line x1="484.20" y1="373.84" x2="487.80" y2="373.84" stroke="#000000" stroke-width="1.6" />
<line x1="684.20" y1="373.84" x2="680.60" y2="373.84" stroke="#000000" stroke-width="1.6" />
<text transform="translate(480.90,377.44) scale(1,1.06)" text-anchor="end" font-size="9.3" >4</text>
<line x1="484.20" y1="337.97" x2="487.80" y2="337.97" stroke="#000000" stroke-width="1.6" />
<line x1="684.20" y1="337.97" x2="680.60" y2="337.97" stroke="#000000" stroke-width="1.6" />
<text transform="translate(480.90,341.57) scale(1,1.06)" text-anchor="end" font-size="9.3" >5</text>
<line x1="484.20" y1="463.50" x2="486.20" y2="463.50" stroke="#000000" stroke-width="1.6" />
<line x1="684.20" y1="463.50" x2="682.20" y2="463.50" stroke="#000000" stroke-width="1.6" />
<line x1="484.20" y1="427.63" x2="486.20" y2="427.63" stroke="#000000" stroke-width="1.6" />
<line x1="684.20" y1="427.63" x2="682.20" y2="427.63" stroke="#000000" stroke-width="1.6" />
<line x1="484.20" y1="391.77" x2="486.20" y2="391.77" stroke="#000000" stroke-width="1.6" />
<line x1="684.20" y1="391.77" x2="682.20" y2="391.77" stroke="#000000" stroke-width="1.6" />
<line x1="484.20" y1="355.90" x2="486.20" y2="355.90" stroke="#000000" stroke-width="1.6" />
<line x1="684.20" y1="355.90" x2="682.20" y2="355.90" stroke="#000000" stroke-width="1.6" />
<line x1="497.79" y1="330.80" x2="497.79" y2="334.40" stroke="#000000" stroke-width="1.6" />
<line x1="497.79" y1="488.60" x2="497.79" y2="485.00" stroke="#000000" stroke-width="1.6" />
<line x1="518.49" y1="330.80" x2="518.49" y2="332.80" stroke="#000000" stroke-width="1.6" />
<line x1="518.49" y1="488.60" x2="518.49" y2="486.60" stroke="#000000" stroke-width="1.6" />
<line x1="539.19" y1="330.80" x2="539.19" y2="334.40" stroke="#000000" stroke-width="1.6" />
<line x1="539.19" y1="488.60" x2="539.19" y2="485.00" stroke="#000000" stroke-width="1.6" />
<line x1="559.89" y1="330.80" x2="559.89" y2="332.80" stroke="#000000" stroke-width="1.6" />
<line x1="559.89" y1="488.60" x2="559.89" y2="486.60" stroke="#000000" stroke-width="1.6" />
<line x1="580.59" y1="330.80" x2="580.59" y2="334.40" stroke="#000000" stroke-width="1.6" />
<line x1="580.59" y1="488.60" x2="580.59" y2="485.00" stroke="#000000" stroke-width="1.6" />
<line x1="601.29" y1="330.80" x2="601.29" y2="332.80" stroke="#000000" stroke-width="1.6" />
<line x1="601.29" y1="488.60" x2="601.29" y2="486.60" stroke="#000000" stroke-width="1.6" />
<line x1="621.99" y1="330.80" x2="621.99" y2="334.40" stroke="#000000" stroke-width="1.6" />
<line x1="621.99" y1="488.60" x2="621.99" y2="485.00" stroke="#000000" stroke-width="1.6" />
<line x1="642.69" y1="330.80" x2="642.69" y2="332.80" stroke="#000000" stroke-width="1.6" />
<line x1="642.69" y1="488.60" x2="642.69" y2="486.60" stroke="#000000" stroke-width="1.6" />
<line x1="663.39" y1="330.80" x2="663.39" y2="334.40" stroke="#000000" stroke-width="1.6" />
<line x1="663.39" y1="488.60" x2="663.39" y2="485.00" stroke="#000000" stroke-width="1.6" />
<text transform="translate(497.39,502.30) scale(1,1.06)" text-anchor="middle" font-size="9.3" >60</text>
<text transform="translate(539.49,502.30) scale(1,1.06)" text-anchor="middle" font-size="9.3" >90</text>
<text transform="translate(580.59,502.30) scale(1,1.06)" text-anchor="middle" font-size="9.3" >120</text>
<text transform="translate(622.39,502.30) scale(1,1.06)" text-anchor="middle" font-size="9.3" >150</text>
<text transform="translate(663.39,502.30) scale(1,1.06)" text-anchor="middle" font-size="9.3" >180</text>
<rect x="484.20" y="330.80" width="200.00" height="157.80" fill="none" stroke="#000000" stroke-width="1.6"/>
<text transform="translate(583.80,515.80) scale(1,1.06)" text-anchor="middle" font-size="9.6" >Distance (cm)</text>
<line x1="549.80" y1="345.40" x2="569.40" y2="345.40" stroke="#E69F00" stroke-width="1.6" />
<circle cx="559.60" cy="345.40" r="2.85" fill="#E69F00"/>
<text x="575.80" y="349.70" font-size="10">|S<tspan font-size="6.45" dy="1.5">11</tspan><tspan dy="-1.5">|</tspan><tspan font-size="6.45" dy="1.5">EC</tspan><tspan dy="-1.5">/|S</tspan><tspan font-size="6.45" dy="1.5">11</tspan><tspan dy="-1.5">|</tspan><tspan font-size="6.45" dy="1.5">Ref</tspan></text>
<line x1="549.80" y1="362.00" x2="569.40" y2="362.00" stroke="#000000" stroke-width="1.6" />
<circle cx="559.60" cy="362.00" r="2.85" fill="#000000"/>
<text x="575.80" y="366.30" font-size="10">|S<tspan font-size="6.45" dy="1.5">11</tspan><tspan dy="-1.5">|</tspan><tspan font-size="6.45" dy="1.5">VWC</tspan><tspan dy="-1.5">/|S</tspan><tspan font-size="6.45" dy="1.5">11</tspan><tspan dy="-1.5">|</tspan><tspan font-size="6.45" dy="1.5">Ref</tspan></text>
<text transform="translate(5.00,15.60) scale(1,1.06)" text-anchor="start" font-size="10" >a</text>
<text transform="translate(234.30,15.20) scale(1,1.06)" text-anchor="start" font-size="10" >b</text>
<text transform="translate(462.60,15.20) scale(1,1.06)" text-anchor="start" font-size="10" >c</text>
<text transform="translate(4.80,335.50) scale(1,1.06)" text-anchor="start" font-size="10" >d</text>
<text transform="translate(234.60,335.60) scale(1,1.06)" text-anchor="start" font-size="10" >e</text>
<text transform="translate(463.40,335.40) scale(1,1.06)" text-anchor="start" font-size="10" >f</text>
<text transform="translate(7.6,150.4) rotate(-90)" text-anchor="middle" font-size="9.5">S<tspan font-size="6.5" dy="1.6">11</tspan><tspan dy="-1.6"> (dB)</tspan></text>
<text transform="translate(7.4,409.1) rotate(-90)" text-anchor="middle" font-size="9.5">Ratio</text>
</svg>
</body></html>
